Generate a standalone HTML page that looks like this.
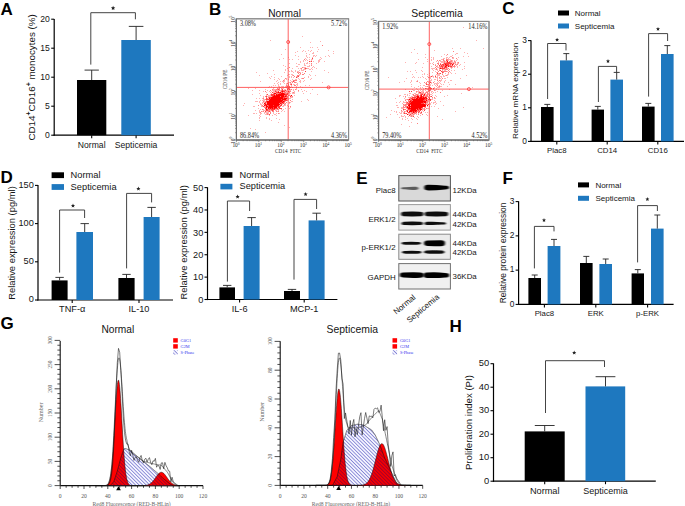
<!DOCTYPE html>
<html><head><meta charset="utf-8"><style>
html,body{margin:0;padding:0;background:#fff;width:685px;height:506px;overflow:hidden}
svg{display:block}
</style></head><body>
<svg width="685" height="506" viewBox="0 0 685 506">
<text x="0.5" y="15.1" font-size="17" text-anchor="start" fill="#000" font-family="Liberation Sans, sans-serif" font-weight="bold" >A</text>
<line x1="54.2" y1="18.9" x2="54.2" y2="135.8" stroke="#000" stroke-width="1.2"/>
<line x1="51.2" y1="135.2" x2="54.2" y2="135.2" stroke="#000" stroke-width="1.08"/>
<text x="49.8" y="138.3" font-size="8.6" text-anchor="end" fill="#151515" font-family="Liberation Sans, sans-serif" >0</text>
<line x1="51.2" y1="106.2" x2="54.2" y2="106.2" stroke="#000" stroke-width="1.08"/>
<text x="49.8" y="109.3" font-size="8.6" text-anchor="end" fill="#151515" font-family="Liberation Sans, sans-serif" >5</text>
<line x1="51.2" y1="77.2" x2="54.2" y2="77.2" stroke="#000" stroke-width="1.08"/>
<text x="49.8" y="80.3" font-size="8.6" text-anchor="end" fill="#151515" font-family="Liberation Sans, sans-serif" >10</text>
<line x1="51.2" y1="48.2" x2="54.2" y2="48.2" stroke="#000" stroke-width="1.08"/>
<text x="49.8" y="51.3" font-size="8.6" text-anchor="end" fill="#151515" font-family="Liberation Sans, sans-serif" >15</text>
<line x1="51.2" y1="19.2" x2="54.2" y2="19.2" stroke="#000" stroke-width="1.08"/>
<text x="49.8" y="22.3" font-size="8.6" text-anchor="end" fill="#151515" font-family="Liberation Sans, sans-serif" >20</text>
<line x1="53.6" y1="135.2" x2="174" y2="135.2" stroke="#000" stroke-width="1.2"/>
<line x1="91.7" y1="135.2" x2="91.7" y2="138.2" stroke="#000" stroke-width="1.08"/>
<line x1="136.1" y1="135.2" x2="136.1" y2="138.2" stroke="#000" stroke-width="1.08"/>
<rect x="77" y="80" width="29.3" height="55.2" fill="#000"/>
<rect x="121.3" y="40" width="29.5" height="95.2" fill="#1e78bf"/>
<line x1="91.7" y1="80" x2="91.7" y2="70.1" stroke="#222" stroke-width="0.9"/>
<line x1="84.55" y1="70.1" x2="98.85" y2="70.1" stroke="#222" stroke-width="0.9"/>
<line x1="136.1" y1="40" x2="136.1" y2="26.4" stroke="#222" stroke-width="0.9"/>
<line x1="128.8" y1="26.4" x2="143.4" y2="26.4" stroke="#222" stroke-width="0.9"/>
<path d="M90.8 64.6V12.7H135.4V19.3" fill="none" stroke="#3a3a3a" stroke-width="0.95"/>
<polygon points="113.1,5.8 113.71,7.26 115.29,7.39 114.08,8.42 114.45,9.96 113.1,9.13 111.75,9.96 112.12,8.42 110.91,7.39 112.49,7.26" fill="#222"/>
<text x="91.7" y="147.6" font-size="8.6" text-anchor="middle" fill="#151515" font-family="Liberation Sans, sans-serif" >Normal</text>
<text x="136.1" y="147.6" font-size="8.6" text-anchor="middle" fill="#151515" font-family="Liberation Sans, sans-serif" >Septicemia</text>
<text transform="translate(35,77.4) rotate(-90)" font-size="9.8" text-anchor="middle" fill="#151515" font-family="Liberation Sans, sans-serif">CD14<tspan font-size="7" font-weight="bold" dy="-4">+</tspan><tspan dy="4">CD16</tspan><tspan font-size="7" font-weight="bold" dy="-4">+</tspan><tspan dy="4"> monocytes (%)</tspan></text>
<text x="502.2" y="14.4" font-size="17" text-anchor="start" fill="#000" font-family="Liberation Sans, sans-serif" font-weight="bold" >C</text>
<rect x="558" y="10.5" width="11" height="5" fill="#000"/>
<rect x="558" y="23.5" width="11" height="5" fill="#1e78bf"/>
<text x="574.8" y="15.88" font-size="8" text-anchor="start" fill="#151515" font-family="Liberation Sans, sans-serif" >Normal</text>
<text x="574.8" y="28.88" font-size="8" text-anchor="start" fill="#151515" font-family="Liberation Sans, sans-serif" >Septicemia</text>
<line x1="531" y1="40.3" x2="531" y2="142" stroke="#000" stroke-width="1.2"/>
<line x1="528" y1="141.4" x2="531" y2="141.4" stroke="#000" stroke-width="1.08"/>
<text x="526.8" y="143.5" font-size="8.4" text-anchor="end" fill="#151515" font-family="Liberation Sans, sans-serif" >0</text>
<line x1="528" y1="107.8" x2="531" y2="107.8" stroke="#000" stroke-width="1.08"/>
<text x="526.8" y="109.9" font-size="8.4" text-anchor="end" fill="#151515" font-family="Liberation Sans, sans-serif" >1</text>
<line x1="528" y1="74.2" x2="531" y2="74.2" stroke="#000" stroke-width="1.08"/>
<text x="526.8" y="76.3" font-size="8.4" text-anchor="end" fill="#151515" font-family="Liberation Sans, sans-serif" >2</text>
<line x1="528" y1="40.6" x2="531" y2="40.6" stroke="#000" stroke-width="1.08"/>
<text x="526.8" y="42.7" font-size="8.4" text-anchor="end" fill="#151515" font-family="Liberation Sans, sans-serif" >3</text>
<line x1="530.4" y1="141.4" x2="684" y2="141.4" stroke="#000" stroke-width="1.2"/>
<line x1="556.8" y1="141.4" x2="556.8" y2="144.4" stroke="#000" stroke-width="1.08"/>
<line x1="607.2" y1="141.4" x2="607.2" y2="144.4" stroke="#000" stroke-width="1.08"/>
<line x1="657.8" y1="141.4" x2="657.8" y2="144.4" stroke="#000" stroke-width="1.08"/>
<rect x="541" y="107" width="12.6" height="34.4" fill="#000"/>
<rect x="560" y="60.4" width="12.6" height="81" fill="#1e78bf"/>
<line x1="547.3" y1="107" x2="547.3" y2="104.4" stroke="#222" stroke-width="0.9"/>
<line x1="544.3" y1="104.4" x2="550.3" y2="104.4" stroke="#222" stroke-width="0.9"/>
<line x1="566.3" y1="60.4" x2="566.3" y2="53.6" stroke="#222" stroke-width="0.9"/>
<line x1="563.3" y1="53.6" x2="569.3" y2="53.6" stroke="#222" stroke-width="0.9"/>
<rect x="591.6" y="109.6" width="12.4" height="31.8" fill="#000"/>
<rect x="610.4" y="79.6" width="12.6" height="61.8" fill="#1e78bf"/>
<line x1="597.8" y1="109.6" x2="597.8" y2="106.4" stroke="#222" stroke-width="0.9"/>
<line x1="594.8" y1="106.4" x2="600.8" y2="106.4" stroke="#222" stroke-width="0.9"/>
<line x1="616.7" y1="79.6" x2="616.7" y2="72.4" stroke="#222" stroke-width="0.9"/>
<line x1="613.7" y1="72.4" x2="619.7" y2="72.4" stroke="#222" stroke-width="0.9"/>
<rect x="642" y="106.6" width="12.6" height="34.8" fill="#000"/>
<rect x="661" y="54" width="12.6" height="87.4" fill="#1e78bf"/>
<line x1="648.3" y1="106.6" x2="648.3" y2="103.4" stroke="#222" stroke-width="0.9"/>
<line x1="645.3" y1="103.4" x2="651.3" y2="103.4" stroke="#222" stroke-width="0.9"/>
<line x1="667.3" y1="54" x2="667.3" y2="45.6" stroke="#222" stroke-width="0.9"/>
<line x1="664.3" y1="45.6" x2="670.3" y2="45.6" stroke="#222" stroke-width="0.9"/>
<path d="M547.6 99V43.5H566V50.4" fill="none" stroke="#3a3a3a" stroke-width="0.95"/>
<polygon points="557.1,37.7 557.66,39.04 559.1,39.15 558,40.09 558.33,41.5 557.1,40.75 555.87,41.5 556.2,40.09 555.1,39.15 556.54,39.04" fill="#222"/>
<path d="M598.4 102V66.4H616.6V72.4" fill="none" stroke="#3a3a3a" stroke-width="0.95"/>
<polygon points="608,59.1 608.56,60.44 610,60.55 608.9,61.49 609.23,62.9 608,62.15 606.77,62.9 607.1,61.49 606,60.55 607.44,60.44" fill="#222"/>
<path d="M648.6 96.6V33.6H667.6V41" fill="none" stroke="#3a3a3a" stroke-width="0.95"/>
<polygon points="658,26.9 658.56,28.24 660,28.35 658.9,29.29 659.23,30.7 658,29.95 656.77,30.7 657.1,29.29 656,28.35 657.44,28.24" fill="#222"/>
<text x="556.8" y="152.8" font-size="7.8" text-anchor="middle" fill="#151515" font-family="Liberation Sans, sans-serif" >Plac8</text>
<text x="607.2" y="152.8" font-size="7.8" text-anchor="middle" fill="#151515" font-family="Liberation Sans, sans-serif" >CD14</text>
<text x="657.8" y="152.8" font-size="7.8" text-anchor="middle" fill="#151515" font-family="Liberation Sans, sans-serif" >CD16</text>
<text transform="translate(515.8,90.8) rotate(-90)" x="0" y="0" font-size="8.1" text-anchor="middle" dominant-baseline="central" fill="#151515" font-family="Liberation Sans, sans-serif">Relative mRNA expression</text>
<text x="0.5" y="183.3" font-size="17" text-anchor="start" fill="#000" font-family="Liberation Sans, sans-serif" font-weight="bold" >D</text>
<rect x="51.6" y="172.3" width="12.4" height="5.8" fill="#000"/>
<rect x="51.6" y="184.1" width="12.4" height="5.8" fill="#1e78bf"/>
<text x="70.6" y="177.8" font-size="9.3" text-anchor="start" fill="#151515" font-family="Liberation Sans, sans-serif" >Normal</text>
<text x="70.6" y="189.6" font-size="9.3" text-anchor="start" fill="#151515" font-family="Liberation Sans, sans-serif" >Septicemia</text>
<line x1="38" y1="185.1" x2="38" y2="300.6" stroke="#000" stroke-width="1.2"/>
<line x1="35" y1="300" x2="38" y2="300" stroke="#000" stroke-width="1.08"/>
<text x="33.8" y="302.3" font-size="9.2" text-anchor="end" fill="#151515" font-family="Liberation Sans, sans-serif" >0</text>
<line x1="35" y1="261.8" x2="38" y2="261.8" stroke="#000" stroke-width="1.08"/>
<text x="33.8" y="264.1" font-size="9.2" text-anchor="end" fill="#151515" font-family="Liberation Sans, sans-serif" >50</text>
<line x1="35" y1="223.6" x2="38" y2="223.6" stroke="#000" stroke-width="1.08"/>
<text x="33.8" y="225.9" font-size="9.2" text-anchor="end" fill="#151515" font-family="Liberation Sans, sans-serif" >100</text>
<line x1="35" y1="185.4" x2="38" y2="185.4" stroke="#000" stroke-width="1.08"/>
<text x="33.8" y="187.7" font-size="9.2" text-anchor="end" fill="#151515" font-family="Liberation Sans, sans-serif" >150</text>
<line x1="37.4" y1="300" x2="173" y2="300" stroke="#000" stroke-width="1.2"/>
<line x1="72.2" y1="300" x2="72.2" y2="303" stroke="#000" stroke-width="1.08"/>
<line x1="139" y1="300" x2="139" y2="303" stroke="#000" stroke-width="1.08"/>
<rect x="51.6" y="280.4" width="16" height="19.6" fill="#000"/>
<rect x="76.4" y="232" width="16.6" height="68" fill="#1e78bf"/>
<line x1="59.6" y1="280.4" x2="59.6" y2="277.4" stroke="#222" stroke-width="0.9"/>
<line x1="55.4" y1="277.4" x2="63.8" y2="277.4" stroke="#222" stroke-width="0.9"/>
<line x1="84.7" y1="232" x2="84.7" y2="223.6" stroke="#222" stroke-width="0.9"/>
<line x1="80.5" y1="223.6" x2="88.9" y2="223.6" stroke="#222" stroke-width="0.9"/>
<rect x="118.4" y="278" width="16.2" height="22" fill="#000"/>
<rect x="143.6" y="217" width="16" height="83" fill="#1e78bf"/>
<line x1="126.5" y1="278" x2="126.5" y2="274.4" stroke="#222" stroke-width="0.9"/>
<line x1="122.3" y1="274.4" x2="130.7" y2="274.4" stroke="#222" stroke-width="0.9"/>
<line x1="151.6" y1="217" x2="151.6" y2="207.4" stroke="#222" stroke-width="0.9"/>
<line x1="147.4" y1="207.4" x2="155.8" y2="207.4" stroke="#222" stroke-width="0.9"/>
<path d="M59.6 272.6V210H84.6V218" fill="none" stroke="#3a3a3a" stroke-width="0.95"/>
<polygon points="73,203.6 73.58,205 75.09,205.12 73.94,206.11 74.29,207.58 73,206.79 71.71,207.58 72.06,206.11 70.91,205.12 72.42,205" fill="#222"/>
<path d="M126.6 268.4V193.4H151.6V202.4" fill="none" stroke="#3a3a3a" stroke-width="0.95"/>
<polygon points="138.4,186.6 138.98,188 140.49,188.12 139.34,189.11 139.69,190.58 138.4,189.79 137.11,190.58 137.46,189.11 136.31,188.12 137.82,188" fill="#222"/>
<text x="72.2" y="312.2" font-size="9.2" text-anchor="middle" fill="#151515" font-family="Liberation Sans, sans-serif" >TNF-α</text>
<text x="139" y="312.2" font-size="9.2" text-anchor="middle" fill="#151515" font-family="Liberation Sans, sans-serif" >IL-10</text>
<text transform="translate(11.8,243) rotate(-90)" x="0" y="0" font-size="9.4" text-anchor="middle" dominant-baseline="central" fill="#151515" font-family="Liberation Sans, sans-serif">Relative expression (pg/ml)</text>
<rect x="220.4" y="172.2" width="12" height="5.6" fill="#000"/>
<rect x="220.4" y="183.8" width="12" height="5.6" fill="#1e78bf"/>
<text x="239.6" y="177.58" font-size="9.2" text-anchor="start" fill="#151515" font-family="Liberation Sans, sans-serif" >Normal</text>
<text x="239.6" y="189.18" font-size="9.2" text-anchor="start" fill="#151515" font-family="Liberation Sans, sans-serif" >Septicemia</text>
<line x1="207.5" y1="187.3" x2="207.5" y2="300.1" stroke="#000" stroke-width="1.2"/>
<line x1="204.5" y1="299.5" x2="207.5" y2="299.5" stroke="#000" stroke-width="1.08"/>
<text x="203.3" y="302.8" font-size="9.2" text-anchor="end" fill="#151515" font-family="Liberation Sans, sans-serif" >0</text>
<line x1="204.5" y1="277.12" x2="207.5" y2="277.12" stroke="#000" stroke-width="1.08"/>
<text x="203.3" y="280.42" font-size="9.2" text-anchor="end" fill="#151515" font-family="Liberation Sans, sans-serif" >10</text>
<line x1="204.5" y1="254.74" x2="207.5" y2="254.74" stroke="#000" stroke-width="1.08"/>
<text x="203.3" y="258.04" font-size="9.2" text-anchor="end" fill="#151515" font-family="Liberation Sans, sans-serif" >20</text>
<line x1="204.5" y1="232.36" x2="207.5" y2="232.36" stroke="#000" stroke-width="1.08"/>
<text x="203.3" y="235.66" font-size="9.2" text-anchor="end" fill="#151515" font-family="Liberation Sans, sans-serif" >30</text>
<line x1="204.5" y1="209.98" x2="207.5" y2="209.98" stroke="#000" stroke-width="1.08"/>
<text x="203.3" y="213.28" font-size="9.2" text-anchor="end" fill="#151515" font-family="Liberation Sans, sans-serif" >40</text>
<line x1="204.5" y1="187.6" x2="207.5" y2="187.6" stroke="#000" stroke-width="1.08"/>
<text x="203.3" y="190.9" font-size="9.2" text-anchor="end" fill="#151515" font-family="Liberation Sans, sans-serif" >50</text>
<line x1="206.9" y1="299.5" x2="337.4" y2="299.5" stroke="#000" stroke-width="1.2"/>
<line x1="239.6" y1="299.5" x2="239.6" y2="302.5" stroke="#000" stroke-width="1.08"/>
<line x1="304.2" y1="299.5" x2="304.2" y2="302.5" stroke="#000" stroke-width="1.08"/>
<rect x="219.4" y="287.4" width="15.6" height="12.1" fill="#000"/>
<rect x="243.6" y="226" width="16" height="73.5" fill="#1e78bf"/>
<line x1="227.2" y1="287.4" x2="227.2" y2="285.4" stroke="#222" stroke-width="0.9"/>
<line x1="223" y1="285.4" x2="231.4" y2="285.4" stroke="#222" stroke-width="0.9"/>
<line x1="251.6" y1="226" x2="251.6" y2="217.6" stroke="#222" stroke-width="0.9"/>
<line x1="247.4" y1="217.6" x2="255.8" y2="217.6" stroke="#222" stroke-width="0.9"/>
<rect x="284" y="291" width="16" height="8.5" fill="#000"/>
<rect x="308.6" y="220.4" width="16" height="79.1" fill="#1e78bf"/>
<line x1="292" y1="291" x2="292" y2="289.4" stroke="#222" stroke-width="0.9"/>
<line x1="287.8" y1="289.4" x2="296.2" y2="289.4" stroke="#222" stroke-width="0.9"/>
<line x1="316.6" y1="220.4" x2="316.6" y2="213.2" stroke="#222" stroke-width="0.9"/>
<line x1="312.4" y1="213.2" x2="320.8" y2="213.2" stroke="#222" stroke-width="0.9"/>
<path d="M227.4 281.6V201H249.6V211" fill="none" stroke="#3a3a3a" stroke-width="0.95"/>
<polygon points="237.6,194.6 238.18,196 239.69,196.12 238.54,197.11 238.89,198.58 237.6,197.79 236.31,198.58 236.66,197.11 235.51,196.12 237.02,196" fill="#222"/>
<path d="M294 279.6V199.4H316.6V209" fill="none" stroke="#3a3a3a" stroke-width="0.95"/>
<polygon points="305.6,192 306.18,193.4 307.69,193.52 306.54,194.51 306.89,195.98 305.6,195.19 304.31,195.98 304.66,194.51 303.51,193.52 305.02,193.4" fill="#222"/>
<text x="239.6" y="311.6" font-size="9.2" text-anchor="middle" fill="#151515" font-family="Liberation Sans, sans-serif" >IL-6</text>
<text x="304.2" y="311.6" font-size="9.2" text-anchor="middle" fill="#151515" font-family="Liberation Sans, sans-serif" >MCP-1</text>
<text transform="translate(183.6,242.4) rotate(-90)" x="0" y="0" font-size="9.45" text-anchor="middle" dominant-baseline="central" fill="#151515" font-family="Liberation Sans, sans-serif">Relative expression (pg/ml)</text>
<text x="502.6" y="183.6" font-size="17" text-anchor="start" fill="#000" font-family="Liberation Sans, sans-serif" font-weight="bold" >F</text>
<rect x="578" y="182.4" width="11" height="5" fill="#000"/>
<rect x="578" y="195.8" width="11" height="5" fill="#1e78bf"/>
<text x="595.4" y="187.78" font-size="8" text-anchor="start" fill="#151515" font-family="Liberation Sans, sans-serif" >Normal</text>
<text x="595.4" y="201.18" font-size="8" text-anchor="start" fill="#151515" font-family="Liberation Sans, sans-serif" >Septicemia</text>
<line x1="518.6" y1="201.3" x2="518.6" y2="305" stroke="#000" stroke-width="1.2"/>
<line x1="515.6" y1="304.4" x2="518.6" y2="304.4" stroke="#000" stroke-width="1.08"/>
<text x="514.4" y="306.5" font-size="8.4" text-anchor="end" fill="#151515" font-family="Liberation Sans, sans-serif" >0</text>
<line x1="515.6" y1="270.13" x2="518.6" y2="270.13" stroke="#000" stroke-width="1.08"/>
<text x="514.4" y="272.23" font-size="8.4" text-anchor="end" fill="#151515" font-family="Liberation Sans, sans-serif" >1</text>
<line x1="515.6" y1="235.87" x2="518.6" y2="235.87" stroke="#000" stroke-width="1.08"/>
<text x="514.4" y="237.97" font-size="8.4" text-anchor="end" fill="#151515" font-family="Liberation Sans, sans-serif" >2</text>
<line x1="515.6" y1="201.6" x2="518.6" y2="201.6" stroke="#000" stroke-width="1.08"/>
<text x="514.4" y="203.7" font-size="8.4" text-anchor="end" fill="#151515" font-family="Liberation Sans, sans-serif" >3</text>
<line x1="518" y1="304.4" x2="673.6" y2="304.4" stroke="#000" stroke-width="1.2"/>
<line x1="544.4" y1="304.4" x2="544.4" y2="307.4" stroke="#000" stroke-width="1.08"/>
<line x1="595.8" y1="304.4" x2="595.8" y2="307.4" stroke="#000" stroke-width="1.08"/>
<line x1="647.6" y1="304.4" x2="647.6" y2="307.4" stroke="#000" stroke-width="1.08"/>
<rect x="528.4" y="278" width="12.6" height="26.4" fill="#000"/>
<rect x="547.6" y="246" width="12.8" height="58.4" fill="#1e78bf"/>
<line x1="534.7" y1="278" x2="534.7" y2="275" stroke="#222" stroke-width="0.9"/>
<line x1="531.7" y1="275" x2="537.7" y2="275" stroke="#222" stroke-width="0.9"/>
<line x1="554" y1="246" x2="554" y2="239.4" stroke="#222" stroke-width="0.9"/>
<line x1="551" y1="239.4" x2="557" y2="239.4" stroke="#222" stroke-width="0.9"/>
<rect x="580" y="263" width="12.6" height="41.4" fill="#000"/>
<rect x="599.4" y="264" width="12.6" height="40.4" fill="#1e78bf"/>
<line x1="586.3" y1="263" x2="586.3" y2="256.4" stroke="#222" stroke-width="0.9"/>
<line x1="583.3" y1="256.4" x2="589.3" y2="256.4" stroke="#222" stroke-width="0.9"/>
<line x1="605.7" y1="264" x2="605.7" y2="259" stroke="#222" stroke-width="0.9"/>
<line x1="602.7" y1="259" x2="608.7" y2="259" stroke="#222" stroke-width="0.9"/>
<rect x="631.6" y="273.4" width="12.4" height="31" fill="#000"/>
<rect x="651" y="228.6" width="12.6" height="75.8" fill="#1e78bf"/>
<line x1="637.8" y1="273.4" x2="637.8" y2="269.6" stroke="#222" stroke-width="0.9"/>
<line x1="634.8" y1="269.6" x2="640.8" y2="269.6" stroke="#222" stroke-width="0.9"/>
<line x1="657.3" y1="228.6" x2="657.3" y2="215" stroke="#222" stroke-width="0.9"/>
<line x1="654.3" y1="215" x2="660.3" y2="215" stroke="#222" stroke-width="0.9"/>
<path d="M534.4 268.4V226.4H554V231.4" fill="none" stroke="#3a3a3a" stroke-width="0.95"/>
<polygon points="544,218.1 544.56,219.44 546,219.55 544.9,220.49 545.23,221.9 544,221.14 542.77,221.9 543.1,220.49 542,219.55 543.44,219.44" fill="#222"/>
<path d="M637.6 262.4V205.6H657.4V211" fill="none" stroke="#3a3a3a" stroke-width="0.95"/>
<polygon points="647.4,197.1 647.96,198.44 649.4,198.55 648.3,199.49 648.63,200.9 647.4,200.14 646.17,200.9 646.5,199.49 645.4,198.55 646.84,198.44" fill="#222"/>
<text x="544.4" y="315.6" font-size="7.8" text-anchor="middle" fill="#151515" font-family="Liberation Sans, sans-serif" >Plac8</text>
<text x="595.8" y="315.6" font-size="7.8" text-anchor="middle" fill="#151515" font-family="Liberation Sans, sans-serif" >ERK</text>
<text x="647.6" y="315.6" font-size="7.8" text-anchor="middle" fill="#151515" font-family="Liberation Sans, sans-serif" >p-ERK</text>
<text transform="translate(502.8,253) rotate(-90)" x="0" y="0" font-size="8.35" text-anchor="middle" dominant-baseline="central" fill="#151515" font-family="Liberation Sans, sans-serif">Relative protein expression</text>
<text x="449.6" y="332" font-size="17" text-anchor="start" fill="#000" font-family="Liberation Sans, sans-serif" font-weight="bold" >H</text>
<line x1="493.5" y1="363.4" x2="493.5" y2="481.8" stroke="#000" stroke-width="1.2"/>
<line x1="490.5" y1="481.2" x2="493.5" y2="481.2" stroke="#000" stroke-width="1.08"/>
<text x="489.3" y="483.55" font-size="9.4" text-anchor="end" fill="#151515" font-family="Liberation Sans, sans-serif" >0</text>
<line x1="490.5" y1="457.7" x2="493.5" y2="457.7" stroke="#000" stroke-width="1.08"/>
<text x="489.3" y="460.05" font-size="9.4" text-anchor="end" fill="#151515" font-family="Liberation Sans, sans-serif" >10</text>
<line x1="490.5" y1="434.2" x2="493.5" y2="434.2" stroke="#000" stroke-width="1.08"/>
<text x="489.3" y="436.55" font-size="9.4" text-anchor="end" fill="#151515" font-family="Liberation Sans, sans-serif" >20</text>
<line x1="490.5" y1="410.7" x2="493.5" y2="410.7" stroke="#000" stroke-width="1.08"/>
<text x="489.3" y="413.05" font-size="9.4" text-anchor="end" fill="#151515" font-family="Liberation Sans, sans-serif" >30</text>
<line x1="490.5" y1="387.2" x2="493.5" y2="387.2" stroke="#000" stroke-width="1.08"/>
<text x="489.3" y="389.55" font-size="9.4" text-anchor="end" fill="#151515" font-family="Liberation Sans, sans-serif" >40</text>
<line x1="490.5" y1="363.7" x2="493.5" y2="363.7" stroke="#000" stroke-width="1.08"/>
<text x="489.3" y="366.05" font-size="9.4" text-anchor="end" fill="#151515" font-family="Liberation Sans, sans-serif" >50</text>
<line x1="492.9" y1="481.2" x2="655.8" y2="481.2" stroke="#000" stroke-width="1.2"/>
<line x1="544.7" y1="481.2" x2="544.7" y2="484.2" stroke="#000" stroke-width="1.08"/>
<line x1="605.5" y1="481.2" x2="605.5" y2="484.2" stroke="#000" stroke-width="1.08"/>
<rect x="524.7" y="431.4" width="40" height="49.8" fill="#000"/>
<rect x="585.5" y="386.4" width="39.7" height="94.8" fill="#1e78bf"/>
<line x1="544.7" y1="431.4" x2="544.7" y2="425.5" stroke="#222" stroke-width="0.9"/>
<line x1="534.8" y1="425.5" x2="554.6" y2="425.5" stroke="#222" stroke-width="0.9"/>
<line x1="605.5" y1="386.4" x2="605.5" y2="376.7" stroke="#222" stroke-width="0.9"/>
<line x1="595.6" y1="376.7" x2="615.4" y2="376.7" stroke="#222" stroke-width="0.9"/>
<path d="M545.5 413V360.7H604.5V367" fill="none" stroke="#3a3a3a" stroke-width="0.95"/>
<polygon points="574.2,350.5 574.78,351.9 576.29,352.02 575.14,353.01 575.49,354.48 574.2,353.69 572.91,354.48 573.26,353.01 572.11,352.02 573.62,351.9" fill="#222"/>
<text x="544.7" y="494" font-size="9.2" text-anchor="middle" fill="#151515" font-family="Liberation Sans, sans-serif" >Normal</text>
<text x="605.5" y="494" font-size="9" text-anchor="middle" fill="#151515" font-family="Liberation Sans, sans-serif" >Septicemia</text>
<text transform="translate(468.8,422.6) rotate(-90)" x="0" y="0" font-size="9.6" text-anchor="middle" dominant-baseline="central" fill="#151515" font-family="Liberation Sans, sans-serif">Proliferation index (PI)</text>
<text x="209" y="14.8" font-size="17" text-anchor="start" fill="#000" font-family="Liberation Sans, sans-serif" font-weight="bold" >B</text>
<text x="284.6" y="16.6" font-size="10.2" text-anchor="middle" fill="#151515" font-family="Liberation Sans, sans-serif" >Normal</text>
<text x="437" y="17.3" font-size="10.4" text-anchor="middle" fill="#151515" font-family="Liberation Sans, sans-serif" >Septicemia</text>
<rect x="236.4" y="18.8" width="112.2" height="121.2" fill="none" stroke="#888" stroke-width="1"/>
<rect x="378.6" y="21.4" width="110.4" height="118.6" fill="none" stroke="#888" stroke-width="1"/>
<text x="356.2" y="183.5" font-size="17" text-anchor="start" fill="#000" font-family="Liberation Sans, sans-serif" font-weight="bold" >E</text>
<text x="0.5" y="329" font-size="17" text-anchor="start" fill="#000" font-family="Liberation Sans, sans-serif" font-weight="bold" >G</text>
<text x="117.8" y="332.5" font-size="10.2" text-anchor="middle" fill="#151515" font-family="Liberation Sans, sans-serif" >Normal</text>
<text x="352.3" y="332.5" font-size="10.4" text-anchor="middle" fill="#151515" font-family="Liberation Sans, sans-serif" >Septicemia</text>
<path d="M243 105h1v1h-1zM244 103h1v1h-1zM248 88h1v1h-1zM248 115h1v1h-1zM250 128h1v1h-1zM252 90h1v1h-1zM252 94h1v1h-1zM253 106h1v1h-1zM253 113h1v1h-1zM254 106h1v1h-1zM254 113h1v1h-1zM255 88h1v1h-1zM255 101h1v1h-1zM255 110h1v1h-1zM255 129h1v1h-1zM256 72h1v1h-1zM256 98h1v1h-1zM256 101h1v1h-1zM256 113h1v1h-1zM257 101h1v1h-1zM258 108h1v1h-1zM259 75h1v1h-1zM259 90h1v1h-1zM259 93h1v1h-1zM259 98h1v1h-1zM259 101h1v1h-1zM259 102h1v1h-1zM259 110h1v1h-1zM259 111h1v1h-1zM259 112h1v1h-1zM259 115h1v1h-1zM259 117h1v1h-1zM259 118h1v1h-1zM259 120h1v1h-1zM260 81h1v1h-1zM260 95h1v1h-1zM260 100h1v1h-1zM260 103h1v1h-1zM260 104h1v1h-1zM260 109h1v1h-1zM260 113h1v1h-1zM260 114h1v1h-1zM260 116h1v1h-1zM261 104h1v1h-1zM261 105h1v1h-1zM261 106h1v1h-1zM261 113h1v1h-1zM262 98h1v1h-1zM262 100h1v1h-1zM262 102h1v1h-1zM262 103h1v1h-1zM262 106h1v1h-1zM262 111h1v1h-1zM263 91h1v1h-1zM263 96h1v1h-1zM263 97h1v1h-1zM263 99h1v1h-1zM263 100h1v1h-1zM263 102h1v1h-1zM263 104h1v1h-1zM263 109h1v1h-1zM263 110h1v1h-1zM264 99h1v1h-1zM264 100h1v1h-1zM264 101h1v1h-1zM264 102h1v1h-1zM264 106h1v1h-1zM264 110h1v1h-1zM264 112h1v1h-1zM264 113h1v1h-1zM265 89h1v1h-1zM265 101h1v1h-1zM265 106h1v1h-1zM265 109h1v1h-1zM265 110h1v1h-1zM265 112h1v1h-1zM265 114h1v1h-1zM265 132h1v1h-1zM266 92h1v1h-1zM266 94h1v1h-1zM266 95h1v1h-1zM266 103h1v1h-1zM266 111h1v1h-1zM266 112h1v1h-1zM266 113h1v1h-1zM266 114h1v1h-1zM266 117h1v1h-1zM266 118h1v1h-1zM267 73h1v1h-1zM267 90h1v1h-1zM267 96h1v1h-1zM267 100h1v1h-1zM267 108h1v1h-1zM267 111h1v1h-1zM267 112h1v1h-1zM268 87h1v1h-1zM268 95h1v1h-1zM268 96h1v1h-1zM268 98h1v1h-1zM268 100h1v1h-1zM268 112h1v1h-1zM268 113h1v1h-1zM268 114h1v1h-1zM269 77h1v1h-1zM269 86h1v1h-1zM269 91h1v1h-1zM269 95h1v1h-1zM269 96h1v1h-1zM269 115h1v1h-1zM269 118h1v1h-1zM269 119h1v1h-1zM270 40h1v1h-1zM270 78h1v1h-1zM270 92h1v1h-1zM270 94h1v1h-1zM270 95h1v1h-1zM270 96h1v1h-1zM270 110h1v1h-1zM270 111h1v1h-1zM271 76h1v1h-1zM271 86h1v1h-1zM271 91h1v1h-1zM271 93h1v1h-1zM271 96h1v1h-1zM271 120h1v1h-1zM272 90h1v1h-1zM272 115h1v1h-1zM273 70h1v1h-1zM273 85h1v1h-1zM273 87h1v1h-1zM273 88h1v1h-1zM273 89h1v1h-1zM273 90h1v1h-1zM273 91h1v1h-1zM273 92h1v1h-1zM273 112h1v1h-1zM273 113h1v1h-1zM274 74h1v1h-1zM274 77h1v1h-1zM274 79h1v1h-1zM274 83h1v1h-1zM274 87h1v1h-1zM274 89h1v1h-1zM274 90h1v1h-1zM274 91h1v1h-1zM274 92h1v1h-1zM274 114h1v1h-1zM275 85h1v1h-1zM275 89h1v1h-1zM275 92h1v1h-1zM275 94h1v1h-1zM275 109h1v1h-1zM275 110h1v1h-1zM275 114h1v1h-1zM276 81h1v1h-1zM276 90h1v1h-1zM276 109h1v1h-1zM276 110h1v1h-1zM276 113h1v1h-1zM276 115h1v1h-1zM276 118h1v1h-1zM277 80h1v1h-1zM277 83h1v1h-1zM277 90h1v1h-1zM277 91h1v1h-1zM277 107h1v1h-1zM277 111h1v1h-1zM278 78h1v1h-1zM278 82h1v1h-1zM278 84h1v1h-1zM278 85h1v1h-1zM278 86h1v1h-1zM278 88h1v1h-1zM278 90h1v1h-1zM278 108h1v1h-1zM278 110h1v1h-1zM278 122h1v1h-1zM279 59h1v1h-1zM279 79h1v1h-1zM279 86h1v1h-1zM279 105h1v1h-1zM279 113h1v1h-1zM279 119h1v1h-1zM280 81h1v1h-1zM280 83h1v1h-1zM280 84h1v1h-1zM280 90h1v1h-1zM280 91h1v1h-1zM280 104h1v1h-1zM281 54h1v1h-1zM281 76h1v1h-1zM281 86h1v1h-1zM281 89h1v1h-1zM281 109h1v1h-1zM281 111h1v1h-1zM282 81h1v1h-1zM282 86h1v1h-1zM282 87h1v1h-1zM282 88h1v1h-1zM282 104h1v1h-1zM282 106h1v1h-1zM282 110h1v1h-1zM283 58h1v1h-1zM283 65h1v1h-1zM283 81h1v1h-1zM283 82h1v1h-1zM283 86h1v1h-1zM283 87h1v1h-1zM283 88h1v1h-1zM283 92h1v1h-1zM283 105h1v1h-1zM283 106h1v1h-1zM283 109h1v1h-1zM284 72h1v1h-1zM284 79h1v1h-1zM284 80h1v1h-1zM284 81h1v1h-1zM284 83h1v1h-1zM284 87h1v1h-1zM284 89h1v1h-1zM284 103h1v1h-1zM284 105h1v1h-1zM284 111h1v1h-1zM284 125h1v1h-1zM285 49h1v1h-1zM285 66h1v1h-1zM285 69h1v1h-1zM285 70h1v1h-1zM285 86h1v1h-1zM285 89h1v1h-1zM285 91h1v1h-1zM285 101h1v1h-1zM285 104h1v1h-1zM285 105h1v1h-1zM285 108h1v1h-1zM286 78h1v1h-1zM286 79h1v1h-1zM286 83h1v1h-1zM286 84h1v1h-1zM286 86h1v1h-1zM286 90h1v1h-1zM286 92h1v1h-1zM287 68h1v1h-1zM287 75h1v1h-1zM287 86h1v1h-1zM287 87h1v1h-1zM287 90h1v1h-1zM287 91h1v1h-1zM287 92h1v1h-1zM287 99h1v1h-1zM287 105h1v1h-1zM288 57h1v1h-1zM288 70h1v1h-1zM288 74h1v1h-1zM288 79h1v1h-1zM288 82h1v1h-1zM288 83h1v1h-1zM288 85h1v1h-1zM288 86h1v1h-1zM288 92h1v1h-1zM288 93h1v1h-1zM288 98h1v1h-1zM288 99h1v1h-1zM289 59h1v1h-1zM289 63h1v1h-1zM289 71h1v1h-1zM289 74h1v1h-1zM289 76h1v1h-1zM289 77h1v1h-1zM289 82h1v1h-1zM289 86h1v1h-1zM289 87h1v1h-1zM289 88h1v1h-1zM289 90h1v1h-1zM289 93h1v1h-1zM289 94h1v1h-1zM289 98h1v1h-1zM289 103h1v1h-1zM289 108h1v1h-1zM289 127h1v1h-1zM290 80h1v1h-1zM290 83h1v1h-1zM290 89h1v1h-1zM290 90h1v1h-1zM290 93h1v1h-1zM290 95h1v1h-1zM290 97h1v1h-1zM290 98h1v1h-1zM290 102h1v1h-1zM290 107h1v1h-1zM291 70h1v1h-1zM291 71h1v1h-1zM291 74h1v1h-1zM291 76h1v1h-1zM291 77h1v1h-1zM291 81h1v1h-1zM291 83h1v1h-1zM291 85h1v1h-1zM291 86h1v1h-1zM291 96h1v1h-1zM291 97h1v1h-1zM291 101h1v1h-1zM292 59h1v1h-1zM292 68h1v1h-1zM292 71h1v1h-1zM292 74h1v1h-1zM292 75h1v1h-1zM292 79h1v1h-1zM292 81h1v1h-1zM292 92h1v1h-1zM292 93h1v1h-1zM292 97h1v1h-1zM292 99h1v1h-1zM292 101h1v1h-1zM293 72h1v1h-1zM293 77h1v1h-1zM293 84h1v1h-1zM293 89h1v1h-1zM293 90h1v1h-1zM293 93h1v1h-1zM294 81h1v1h-1zM294 84h1v1h-1zM294 91h1v1h-1zM294 92h1v1h-1zM294 93h1v1h-1zM294 95h1v1h-1zM295 52h1v1h-1zM295 55h1v1h-1zM295 70h1v1h-1zM295 71h1v1h-1zM295 79h1v1h-1zM296 63h1v1h-1zM296 66h1v1h-1zM296 76h1v1h-1zM296 79h1v1h-1zM296 82h1v1h-1zM296 84h1v1h-1zM296 86h1v1h-1zM296 88h1v1h-1zM296 89h1v1h-1zM297 51h1v1h-1zM297 66h1v1h-1zM297 71h1v1h-1zM297 77h1v1h-1zM297 83h1v1h-1zM297 84h1v1h-1zM297 85h1v1h-1zM298 56h1v1h-1zM298 59h1v1h-1zM298 64h1v1h-1zM298 68h1v1h-1zM298 71h1v1h-1zM298 72h1v1h-1zM298 78h1v1h-1zM298 87h1v1h-1zM298 91h1v1h-1zM299 64h1v1h-1zM299 70h1v1h-1zM299 74h1v1h-1zM299 75h1v1h-1zM299 79h1v1h-1zM299 81h1v1h-1zM300 47h1v1h-1zM300 61h1v1h-1zM300 62h1v1h-1zM300 68h1v1h-1zM300 72h1v1h-1zM300 74h1v1h-1zM300 80h1v1h-1zM300 81h1v1h-1zM300 82h1v1h-1zM300 86h1v1h-1zM301 69h1v1h-1zM301 70h1v1h-1zM301 78h1v1h-1zM301 89h1v1h-1zM301 101h1v1h-1zM302 36h1v1h-1zM302 51h1v1h-1zM302 70h1v1h-1zM302 72h1v1h-1zM302 87h1v1h-1zM302 91h1v1h-1zM303 50h1v1h-1zM303 60h1v1h-1zM303 61h1v1h-1zM303 67h1v1h-1zM303 69h1v1h-1zM303 70h1v1h-1zM303 81h1v1h-1zM303 93h1v1h-1zM304 63h1v1h-1zM304 64h1v1h-1zM304 65h1v1h-1zM304 67h1v1h-1zM304 68h1v1h-1zM304 69h1v1h-1zM304 77h1v1h-1zM304 80h1v1h-1zM304 90h1v1h-1zM305 51h1v1h-1zM305 58h1v1h-1zM305 60h1v1h-1zM305 65h1v1h-1zM305 67h1v1h-1zM305 69h1v1h-1zM305 85h1v1h-1zM306 53h1v1h-1zM306 55h1v1h-1zM306 56h1v1h-1zM306 59h1v1h-1zM306 63h1v1h-1zM306 91h1v1h-1zM307 57h1v1h-1zM307 60h1v1h-1zM307 62h1v1h-1zM307 63h1v1h-1zM307 66h1v1h-1zM307 68h1v1h-1zM307 99h1v1h-1zM308 50h1v1h-1zM308 66h1v1h-1zM308 68h1v1h-1zM308 76h1v1h-1zM308 77h1v1h-1zM308 100h1v1h-1zM309 54h1v1h-1zM309 57h1v1h-1zM309 59h1v1h-1zM309 63h1v1h-1zM309 65h1v1h-1zM309 66h1v1h-1zM309 69h1v1h-1zM309 74h1v1h-1zM309 85h1v1h-1zM310 42h1v1h-1zM310 47h1v1h-1zM310 51h1v1h-1zM310 61h1v1h-1zM310 69h1v1h-1zM310 75h1v1h-1zM310 79h1v1h-1zM310 93h1v1h-1zM311 50h1v1h-1zM311 59h1v1h-1zM311 60h1v1h-1zM311 64h1v1h-1zM311 68h1v1h-1zM311 71h1v1h-1zM311 78h1v1h-1zM312 47h1v1h-1zM312 53h1v1h-1zM312 57h1v1h-1zM312 59h1v1h-1zM312 67h1v1h-1zM312 69h1v1h-1zM312 89h1v1h-1zM313 52h1v1h-1zM313 53h1v1h-1zM313 55h1v1h-1zM313 56h1v1h-1zM313 61h1v1h-1zM313 66h1v1h-1zM314 55h1v1h-1zM314 67h1v1h-1zM315 56h1v1h-1zM315 75h1v1h-1zM316 55h1v1h-1zM316 63h1v1h-1zM316 68h1v1h-1zM317 47h1v1h-1zM317 51h1v1h-1zM317 94h1v1h-1zM318 49h1v1h-1zM318 60h1v1h-1zM318 61h1v1h-1zM318 62h1v1h-1zM319 59h1v1h-1zM319 60h1v1h-1zM319 61h1v1h-1zM320 41h1v1h-1zM320 57h1v1h-1zM320 59h1v1h-1zM321 58h1v1h-1zM322 82h1v1h-1zM324 61h1v1h-1zM324 70h1v1h-1zM325 56h1v1h-1zM328 50h1v1h-1zM328 55h1v1h-1zM328 72h1v1h-1zM329 56h1v1h-1zM333 51h1v1h-1zM333 53h1v1h-1z" fill="#f00" fill-opacity="0.3"/>
<path d="M258 105h1v1h-1zM260 112h1v1h-1zM261 111h1v1h-1zM262 105h1v1h-1zM262 109h1v1h-1zM263 98h1v1h-1zM263 101h1v1h-1zM263 111h1v1h-1zM264 104h1v1h-1zM264 107h1v1h-1zM265 91h1v1h-1zM265 96h1v1h-1zM265 99h1v1h-1zM265 107h1v1h-1zM266 97h1v1h-1zM266 100h1v1h-1zM266 102h1v1h-1zM267 98h1v1h-1zM267 105h1v1h-1zM267 107h1v1h-1zM267 113h1v1h-1zM267 114h1v1h-1zM268 97h1v1h-1zM268 109h1v1h-1zM268 110h1v1h-1zM268 111h1v1h-1zM269 110h1v1h-1zM270 90h1v1h-1zM270 109h1v1h-1zM270 112h1v1h-1zM270 113h1v1h-1zM271 110h1v1h-1zM272 89h1v1h-1zM272 111h1v1h-1zM273 93h1v1h-1zM273 110h1v1h-1zM273 111h1v1h-1zM275 90h1v1h-1zM276 89h1v1h-1zM276 91h1v1h-1zM276 93h1v1h-1zM276 111h1v1h-1zM277 88h1v1h-1zM277 89h1v1h-1zM277 93h1v1h-1zM277 109h1v1h-1zM278 93h1v1h-1zM278 109h1v1h-1zM278 111h1v1h-1zM278 113h1v1h-1zM279 87h1v1h-1zM279 88h1v1h-1zM279 89h1v1h-1zM279 90h1v1h-1zM279 103h1v1h-1zM280 87h1v1h-1zM280 96h1v1h-1zM280 106h1v1h-1zM281 88h1v1h-1zM281 90h1v1h-1zM281 92h1v1h-1zM282 103h1v1h-1zM283 80h1v1h-1zM283 90h1v1h-1zM283 100h1v1h-1zM284 90h1v1h-1zM284 92h1v1h-1zM284 95h1v1h-1zM284 102h1v1h-1zM284 104h1v1h-1zM285 78h1v1h-1zM285 87h1v1h-1zM285 92h1v1h-1zM285 93h1v1h-1zM285 97h1v1h-1zM285 103h1v1h-1zM286 85h1v1h-1zM286 91h1v1h-1zM286 93h1v1h-1zM286 97h1v1h-1zM286 99h1v1h-1zM286 102h1v1h-1zM287 83h1v1h-1zM287 96h1v1h-1zM287 97h1v1h-1zM287 98h1v1h-1zM287 100h1v1h-1zM288 84h1v1h-1zM288 87h1v1h-1zM288 88h1v1h-1zM288 95h1v1h-1zM288 106h1v1h-1zM289 67h1v1h-1zM289 91h1v1h-1zM289 92h1v1h-1zM289 95h1v1h-1zM289 102h1v1h-1zM290 82h1v1h-1zM290 84h1v1h-1zM290 91h1v1h-1zM290 100h1v1h-1zM290 106h1v1h-1zM291 89h1v1h-1zM292 82h1v1h-1zM292 87h1v1h-1zM292 96h1v1h-1zM293 75h1v1h-1zM293 80h1v1h-1zM293 92h1v1h-1zM294 76h1v1h-1zM294 80h1v1h-1zM294 82h1v1h-1zM294 85h1v1h-1zM295 80h1v1h-1zM295 82h1v1h-1zM295 85h1v1h-1zM295 89h1v1h-1zM296 80h1v1h-1zM296 87h1v1h-1zM297 72h1v1h-1zM297 75h1v1h-1zM297 76h1v1h-1zM298 73h1v1h-1zM298 75h1v1h-1zM298 90h1v1h-1zM299 72h1v1h-1zM300 73h1v1h-1zM301 68h1v1h-1zM302 67h1v1h-1zM302 74h1v1h-1zM302 78h1v1h-1zM303 74h1v1h-1zM303 78h1v1h-1zM304 59h1v1h-1zM304 73h1v1h-1zM306 68h1v1h-1zM311 63h1v1h-1zM311 65h1v1h-1zM322 45h1v1h-1z" fill="#f00" fill-opacity="0.5"/>
<path d="M263 106h1v1h-1zM265 102h1v1h-1zM265 103h1v1h-1zM265 105h1v1h-1zM265 108h1v1h-1zM265 111h1v1h-1zM266 96h1v1h-1zM266 98h1v1h-1zM266 99h1v1h-1zM266 101h1v1h-1zM266 104h1v1h-1zM266 108h1v1h-1zM266 110h1v1h-1zM267 94h1v1h-1zM267 99h1v1h-1zM267 109h1v1h-1zM267 110h1v1h-1zM268 99h1v1h-1zM268 105h1v1h-1zM268 106h1v1h-1zM269 97h1v1h-1zM269 99h1v1h-1zM269 108h1v1h-1zM269 109h1v1h-1zM269 111h1v1h-1zM269 114h1v1h-1zM270 97h1v1h-1zM270 98h1v1h-1zM271 94h1v1h-1zM271 95h1v1h-1zM271 108h1v1h-1zM271 109h1v1h-1zM272 92h1v1h-1zM272 94h1v1h-1zM272 95h1v1h-1zM272 96h1v1h-1zM272 109h1v1h-1zM272 110h1v1h-1zM273 94h1v1h-1zM273 95h1v1h-1zM273 105h1v1h-1zM273 107h1v1h-1zM273 108h1v1h-1zM273 109h1v1h-1zM274 94h1v1h-1zM274 109h1v1h-1zM275 91h1v1h-1zM275 95h1v1h-1zM275 108h1v1h-1zM276 92h1v1h-1zM276 108h1v1h-1zM277 92h1v1h-1zM277 94h1v1h-1zM277 106h1v1h-1zM277 108h1v1h-1zM278 89h1v1h-1zM278 91h1v1h-1zM278 106h1v1h-1zM278 107h1v1h-1zM279 92h1v1h-1zM279 93h1v1h-1zM279 106h1v1h-1zM279 107h1v1h-1zM279 108h1v1h-1zM280 93h1v1h-1zM280 102h1v1h-1zM280 105h1v1h-1zM280 108h1v1h-1zM281 91h1v1h-1zM281 99h1v1h-1zM281 102h1v1h-1zM281 103h1v1h-1zM281 104h1v1h-1zM281 105h1v1h-1zM281 108h1v1h-1zM282 89h1v1h-1zM282 90h1v1h-1zM282 92h1v1h-1zM282 101h1v1h-1zM283 91h1v1h-1zM283 97h1v1h-1zM283 98h1v1h-1zM283 102h1v1h-1zM283 103h1v1h-1zM284 91h1v1h-1zM284 93h1v1h-1zM284 96h1v1h-1zM284 97h1v1h-1zM284 100h1v1h-1zM284 101h1v1h-1zM285 90h1v1h-1zM285 94h1v1h-1zM285 95h1v1h-1zM285 100h1v1h-1zM286 94h1v1h-1zM286 95h1v1h-1zM286 96h1v1h-1zM286 100h1v1h-1zM287 89h1v1h-1zM287 93h1v1h-1zM287 94h1v1h-1zM289 89h1v1h-1zM290 87h1v1h-1zM290 96h1v1h-1zM291 84h1v1h-1zM293 81h1v1h-1zM296 77h1v1h-1zM298 76h1v1h-1zM305 68h1v1h-1zM305 71h1v1h-1zM309 61h1v1h-1zM311 61h1v1h-1zM312 58h1v1h-1z" fill="#f00" fill-opacity="0.75"/>
<path d="M264 103h1v1h-1zM264 105h1v1h-1zM265 104h1v1h-1zM266 105h1v1h-1zM266 106h1v1h-1zM266 107h1v1h-1zM266 109h1v1h-1zM267 101h1v1h-1zM267 102h1v1h-1zM267 103h1v1h-1zM267 104h1v1h-1zM267 106h1v1h-1zM268 101h1v1h-1zM268 102h1v1h-1zM268 103h1v1h-1zM268 104h1v1h-1zM268 107h1v1h-1zM268 108h1v1h-1zM269 98h1v1h-1zM269 100h1v1h-1zM269 101h1v1h-1zM269 102h1v1h-1zM269 103h1v1h-1zM269 104h1v1h-1zM269 105h1v1h-1zM269 106h1v1h-1zM269 107h1v1h-1zM270 99h1v1h-1zM270 100h1v1h-1zM270 101h1v1h-1zM270 102h1v1h-1zM270 103h1v1h-1zM270 104h1v1h-1zM270 105h1v1h-1zM270 106h1v1h-1zM270 107h1v1h-1zM270 108h1v1h-1zM271 97h1v1h-1zM271 98h1v1h-1zM271 99h1v1h-1zM271 100h1v1h-1zM271 101h1v1h-1zM271 102h1v1h-1zM271 103h1v1h-1zM271 104h1v1h-1zM271 105h1v1h-1zM271 106h1v1h-1zM271 107h1v1h-1zM272 97h1v1h-1zM272 98h1v1h-1zM272 99h1v1h-1zM272 100h1v1h-1zM272 101h1v1h-1zM272 102h1v1h-1zM272 103h1v1h-1zM272 104h1v1h-1zM272 105h1v1h-1zM272 106h1v1h-1zM272 107h1v1h-1zM272 108h1v1h-1zM273 96h1v1h-1zM273 97h1v1h-1zM273 98h1v1h-1zM273 99h1v1h-1zM273 100h1v1h-1zM273 101h1v1h-1zM273 102h1v1h-1zM273 103h1v1h-1zM273 104h1v1h-1zM273 106h1v1h-1zM274 93h1v1h-1zM274 95h1v1h-1zM274 96h1v1h-1zM274 97h1v1h-1zM274 98h1v1h-1zM274 99h1v1h-1zM274 100h1v1h-1zM274 101h1v1h-1zM274 102h1v1h-1zM274 103h1v1h-1zM274 104h1v1h-1zM274 105h1v1h-1zM274 106h1v1h-1zM274 107h1v1h-1zM274 108h1v1h-1zM275 93h1v1h-1zM275 96h1v1h-1zM275 97h1v1h-1zM275 98h1v1h-1zM275 99h1v1h-1zM275 100h1v1h-1zM275 101h1v1h-1zM275 102h1v1h-1zM275 103h1v1h-1zM275 104h1v1h-1zM275 105h1v1h-1zM275 106h1v1h-1zM275 107h1v1h-1zM276 94h1v1h-1zM276 95h1v1h-1zM276 96h1v1h-1zM276 97h1v1h-1zM276 98h1v1h-1zM276 99h1v1h-1zM276 100h1v1h-1zM276 101h1v1h-1zM276 102h1v1h-1zM276 103h1v1h-1zM276 104h1v1h-1zM276 105h1v1h-1zM276 106h1v1h-1zM276 107h1v1h-1zM277 95h1v1h-1zM277 96h1v1h-1zM277 97h1v1h-1zM277 98h1v1h-1zM277 99h1v1h-1zM277 100h1v1h-1zM277 101h1v1h-1zM277 102h1v1h-1zM277 103h1v1h-1zM277 104h1v1h-1zM277 105h1v1h-1zM278 92h1v1h-1zM278 94h1v1h-1zM278 95h1v1h-1zM278 96h1v1h-1zM278 97h1v1h-1zM278 98h1v1h-1zM278 99h1v1h-1zM278 100h1v1h-1zM278 101h1v1h-1zM278 102h1v1h-1zM278 103h1v1h-1zM278 104h1v1h-1zM278 105h1v1h-1zM279 94h1v1h-1zM279 95h1v1h-1zM279 96h1v1h-1zM279 97h1v1h-1zM279 98h1v1h-1zM279 99h1v1h-1zM279 100h1v1h-1zM279 101h1v1h-1zM279 102h1v1h-1zM279 104h1v1h-1zM280 92h1v1h-1zM280 94h1v1h-1zM280 95h1v1h-1zM280 97h1v1h-1zM280 98h1v1h-1zM280 99h1v1h-1zM280 100h1v1h-1zM280 101h1v1h-1zM280 103h1v1h-1zM281 93h1v1h-1zM281 94h1v1h-1zM281 95h1v1h-1zM281 96h1v1h-1zM281 97h1v1h-1zM281 98h1v1h-1zM281 100h1v1h-1zM281 101h1v1h-1zM282 91h1v1h-1zM282 93h1v1h-1zM282 94h1v1h-1zM282 95h1v1h-1zM282 96h1v1h-1zM282 97h1v1h-1zM282 98h1v1h-1zM282 99h1v1h-1zM282 100h1v1h-1zM282 102h1v1h-1zM283 93h1v1h-1zM283 94h1v1h-1zM283 95h1v1h-1zM283 96h1v1h-1zM283 99h1v1h-1zM283 101h1v1h-1zM284 94h1v1h-1zM284 98h1v1h-1zM284 99h1v1h-1zM285 96h1v1h-1zM285 98h1v1h-1zM285 99h1v1h-1zM286 98h1v1h-1zM288 91h1v1h-1zM291 95h1v1h-1z" fill="#f00" fill-opacity="1.0"/>
<path d="M386 117h1v1h-1zM388 77h1v1h-1zM390 114h1v1h-1zM391 110h1v1h-1zM394 111h1v1h-1zM395 98h1v1h-1zM396 102h1v1h-1zM396 105h1v1h-1zM396 111h1v1h-1zM396 112h1v1h-1zM397 105h1v1h-1zM397 107h1v1h-1zM397 114h1v1h-1zM398 107h1v1h-1zM399 82h1v1h-1zM399 95h1v1h-1zM399 96h1v1h-1zM399 102h1v1h-1zM399 112h1v1h-1zM399 117h1v1h-1zM400 95h1v1h-1zM400 101h1v1h-1zM400 113h1v1h-1zM401 107h1v1h-1zM401 108h1v1h-1zM401 111h1v1h-1zM401 112h1v1h-1zM401 113h1v1h-1zM401 115h1v1h-1zM401 116h1v1h-1zM401 124h1v1h-1zM402 103h1v1h-1zM402 107h1v1h-1zM402 108h1v1h-1zM402 111h1v1h-1zM402 116h1v1h-1zM402 118h1v1h-1zM402 119h1v1h-1zM403 96h1v1h-1zM403 101h1v1h-1zM403 102h1v1h-1zM403 105h1v1h-1zM403 108h1v1h-1zM403 110h1v1h-1zM403 112h1v1h-1zM403 113h1v1h-1zM403 116h1v1h-1zM404 81h1v1h-1zM404 94h1v1h-1zM404 98h1v1h-1zM404 102h1v1h-1zM404 104h1v1h-1zM404 115h1v1h-1zM405 62h1v1h-1zM405 89h1v1h-1zM405 94h1v1h-1zM405 97h1v1h-1zM405 99h1v1h-1zM405 102h1v1h-1zM405 107h1v1h-1zM405 111h1v1h-1zM405 116h1v1h-1zM405 117h1v1h-1zM405 119h1v1h-1zM406 78h1v1h-1zM406 99h1v1h-1zM406 101h1v1h-1zM406 105h1v1h-1zM406 108h1v1h-1zM406 111h1v1h-1zM407 71h1v1h-1zM407 94h1v1h-1zM407 95h1v1h-1zM407 109h1v1h-1zM407 112h1v1h-1zM407 118h1v1h-1zM408 97h1v1h-1zM408 102h1v1h-1zM408 110h1v1h-1zM408 113h1v1h-1zM408 114h1v1h-1zM408 116h1v1h-1zM408 120h1v1h-1zM409 93h1v1h-1zM409 95h1v1h-1zM409 97h1v1h-1zM409 98h1v1h-1zM409 100h1v1h-1zM409 113h1v1h-1zM409 114h1v1h-1zM409 126h1v1h-1zM410 71h1v1h-1zM410 82h1v1h-1zM410 93h1v1h-1zM410 105h1v1h-1zM410 112h1v1h-1zM410 113h1v1h-1zM410 115h1v1h-1zM410 116h1v1h-1zM411 52h1v1h-1zM411 80h1v1h-1zM411 81h1v1h-1zM411 84h1v1h-1zM411 86h1v1h-1zM411 96h1v1h-1zM411 97h1v1h-1zM411 114h1v1h-1zM411 118h1v1h-1zM411 122h1v1h-1zM412 74h1v1h-1zM412 77h1v1h-1zM412 89h1v1h-1zM412 94h1v1h-1zM412 96h1v1h-1zM412 114h1v1h-1zM412 115h1v1h-1zM412 116h1v1h-1zM412 119h1v1h-1zM413 76h1v1h-1zM413 90h1v1h-1zM413 113h1v1h-1zM413 115h1v1h-1zM414 49h1v1h-1zM414 77h1v1h-1zM414 87h1v1h-1zM414 90h1v1h-1zM414 93h1v1h-1zM414 114h1v1h-1zM414 117h1v1h-1zM415 63h1v1h-1zM415 70h1v1h-1zM415 93h1v1h-1zM415 94h1v1h-1zM416 62h1v1h-1zM416 72h1v1h-1zM416 81h1v1h-1zM416 88h1v1h-1zM416 92h1v1h-1zM416 95h1v1h-1zM416 113h1v1h-1zM416 114h1v1h-1zM416 118h1v1h-1zM417 53h1v1h-1zM417 80h1v1h-1zM417 89h1v1h-1zM417 91h1v1h-1zM417 116h1v1h-1zM417 119h1v1h-1zM418 59h1v1h-1zM418 77h1v1h-1zM418 86h1v1h-1zM418 90h1v1h-1zM418 91h1v1h-1zM418 92h1v1h-1zM418 93h1v1h-1zM418 94h1v1h-1zM418 113h1v1h-1zM418 117h1v1h-1zM419 82h1v1h-1zM419 91h1v1h-1zM419 93h1v1h-1zM419 95h1v1h-1zM419 96h1v1h-1zM419 112h1v1h-1zM420 77h1v1h-1zM420 83h1v1h-1zM420 85h1v1h-1zM420 87h1v1h-1zM420 88h1v1h-1zM420 90h1v1h-1zM420 112h1v1h-1zM420 115h1v1h-1zM421 70h1v1h-1zM421 89h1v1h-1zM421 91h1v1h-1zM421 92h1v1h-1zM421 111h1v1h-1zM421 113h1v1h-1zM422 67h1v1h-1zM422 71h1v1h-1zM422 74h1v1h-1zM422 76h1v1h-1zM422 87h1v1h-1zM422 90h1v1h-1zM422 91h1v1h-1zM422 92h1v1h-1zM422 109h1v1h-1zM422 110h1v1h-1zM423 63h1v1h-1zM423 77h1v1h-1zM423 85h1v1h-1zM423 88h1v1h-1zM423 89h1v1h-1zM423 90h1v1h-1zM423 91h1v1h-1zM423 93h1v1h-1zM423 94h1v1h-1zM423 108h1v1h-1zM423 109h1v1h-1zM423 111h1v1h-1zM424 73h1v1h-1zM424 74h1v1h-1zM424 85h1v1h-1zM424 93h1v1h-1zM424 96h1v1h-1zM424 103h1v1h-1zM424 107h1v1h-1zM425 54h1v1h-1zM425 57h1v1h-1zM425 78h1v1h-1zM425 83h1v1h-1zM425 86h1v1h-1zM425 90h1v1h-1zM425 92h1v1h-1zM425 94h1v1h-1zM425 95h1v1h-1zM425 109h1v1h-1zM425 112h1v1h-1zM426 79h1v1h-1zM426 86h1v1h-1zM426 91h1v1h-1zM426 94h1v1h-1zM426 103h1v1h-1zM426 114h1v1h-1zM427 59h1v1h-1zM427 61h1v1h-1zM427 74h1v1h-1zM427 76h1v1h-1zM427 91h1v1h-1zM427 99h1v1h-1zM427 103h1v1h-1zM427 104h1v1h-1zM427 106h1v1h-1zM427 108h1v1h-1zM427 112h1v1h-1zM427 115h1v1h-1zM428 81h1v1h-1zM428 82h1v1h-1zM428 85h1v1h-1zM428 86h1v1h-1zM428 88h1v1h-1zM428 89h1v1h-1zM428 93h1v1h-1zM428 94h1v1h-1zM428 96h1v1h-1zM428 100h1v1h-1zM428 101h1v1h-1zM428 108h1v1h-1zM429 73h1v1h-1zM429 75h1v1h-1zM429 77h1v1h-1zM429 81h1v1h-1zM429 82h1v1h-1zM429 86h1v1h-1zM429 90h1v1h-1zM429 94h1v1h-1zM429 103h1v1h-1zM429 106h1v1h-1zM430 63h1v1h-1zM430 76h1v1h-1zM430 77h1v1h-1zM430 78h1v1h-1zM430 80h1v1h-1zM430 81h1v1h-1zM430 84h1v1h-1zM430 85h1v1h-1zM430 90h1v1h-1zM430 94h1v1h-1zM430 103h1v1h-1zM430 104h1v1h-1zM431 57h1v1h-1zM431 59h1v1h-1zM431 60h1v1h-1zM431 66h1v1h-1zM431 68h1v1h-1zM431 79h1v1h-1zM431 80h1v1h-1zM431 82h1v1h-1zM431 83h1v1h-1zM431 91h1v1h-1zM431 92h1v1h-1zM431 94h1v1h-1zM431 99h1v1h-1zM431 102h1v1h-1zM431 106h1v1h-1zM432 63h1v1h-1zM432 68h1v1h-1zM432 69h1v1h-1zM432 72h1v1h-1zM432 75h1v1h-1zM432 76h1v1h-1zM432 85h1v1h-1zM432 91h1v1h-1zM432 93h1v1h-1zM432 95h1v1h-1zM432 98h1v1h-1zM432 99h1v1h-1zM433 57h1v1h-1zM433 58h1v1h-1zM433 59h1v1h-1zM433 62h1v1h-1zM433 68h1v1h-1zM433 70h1v1h-1zM433 76h1v1h-1zM433 77h1v1h-1zM433 89h1v1h-1zM433 92h1v1h-1zM433 102h1v1h-1zM433 103h1v1h-1zM434 50h1v1h-1zM434 68h1v1h-1zM434 79h1v1h-1zM434 81h1v1h-1zM434 83h1v1h-1zM434 84h1v1h-1zM434 87h1v1h-1zM434 88h1v1h-1zM434 98h1v1h-1zM434 100h1v1h-1zM434 102h1v1h-1zM434 106h1v1h-1zM435 64h1v1h-1zM435 69h1v1h-1zM435 71h1v1h-1zM435 75h1v1h-1zM435 77h1v1h-1zM435 79h1v1h-1zM435 83h1v1h-1zM435 85h1v1h-1zM435 90h1v1h-1zM435 92h1v1h-1zM435 95h1v1h-1zM435 98h1v1h-1zM435 101h1v1h-1zM435 102h1v1h-1zM435 104h1v1h-1zM436 61h1v1h-1zM436 72h1v1h-1zM436 74h1v1h-1zM436 77h1v1h-1zM436 83h1v1h-1zM436 84h1v1h-1zM436 86h1v1h-1zM436 88h1v1h-1zM436 89h1v1h-1zM436 96h1v1h-1zM436 103h1v1h-1zM437 65h1v1h-1zM437 66h1v1h-1zM437 67h1v1h-1zM437 69h1v1h-1zM437 70h1v1h-1zM437 74h1v1h-1zM437 75h1v1h-1zM437 76h1v1h-1zM437 77h1v1h-1zM437 78h1v1h-1zM437 79h1v1h-1zM437 82h1v1h-1zM437 83h1v1h-1zM437 84h1v1h-1zM437 87h1v1h-1zM437 91h1v1h-1zM437 116h1v1h-1zM438 61h1v1h-1zM438 62h1v1h-1zM438 67h1v1h-1zM438 73h1v1h-1zM438 74h1v1h-1zM438 75h1v1h-1zM438 81h1v1h-1zM438 83h1v1h-1zM438 86h1v1h-1zM438 87h1v1h-1zM438 89h1v1h-1zM438 108h1v1h-1zM439 67h1v1h-1zM439 69h1v1h-1zM439 74h1v1h-1zM439 75h1v1h-1zM439 78h1v1h-1zM439 82h1v1h-1zM439 85h1v1h-1zM439 87h1v1h-1zM440 60h1v1h-1zM440 61h1v1h-1zM440 65h1v1h-1zM440 76h1v1h-1zM440 78h1v1h-1zM440 80h1v1h-1zM440 81h1v1h-1zM440 83h1v1h-1zM440 86h1v1h-1zM440 101h1v1h-1zM441 56h1v1h-1zM441 59h1v1h-1zM441 61h1v1h-1zM441 62h1v1h-1zM441 64h1v1h-1zM441 67h1v1h-1zM441 76h1v1h-1zM441 77h1v1h-1zM441 79h1v1h-1zM441 80h1v1h-1zM441 84h1v1h-1zM441 86h1v1h-1zM442 59h1v1h-1zM442 61h1v1h-1zM442 62h1v1h-1zM442 70h1v1h-1zM442 73h1v1h-1zM442 90h1v1h-1zM442 119h1v1h-1zM443 58h1v1h-1zM443 61h1v1h-1zM443 62h1v1h-1zM443 63h1v1h-1zM443 67h1v1h-1zM443 69h1v1h-1zM443 75h1v1h-1zM443 76h1v1h-1zM443 84h1v1h-1zM443 105h1v1h-1zM444 54h1v1h-1zM444 58h1v1h-1zM444 60h1v1h-1zM444 69h1v1h-1zM444 70h1v1h-1zM444 76h1v1h-1zM444 78h1v1h-1zM444 81h1v1h-1zM444 82h1v1h-1zM444 96h1v1h-1zM445 61h1v1h-1zM445 62h1v1h-1zM445 68h1v1h-1zM445 70h1v1h-1zM445 73h1v1h-1zM445 75h1v1h-1zM445 78h1v1h-1zM445 80h1v1h-1zM446 55h1v1h-1zM446 57h1v1h-1zM446 58h1v1h-1zM446 61h1v1h-1zM447 57h1v1h-1zM447 66h1v1h-1zM447 67h1v1h-1zM447 68h1v1h-1zM447 71h1v1h-1zM447 74h1v1h-1zM447 75h1v1h-1zM447 77h1v1h-1zM447 86h1v1h-1zM447 95h1v1h-1zM448 58h1v1h-1zM448 59h1v1h-1zM448 60h1v1h-1zM448 73h1v1h-1zM448 74h1v1h-1zM448 82h1v1h-1zM449 57h1v1h-1zM449 59h1v1h-1zM449 64h1v1h-1zM449 84h1v1h-1zM449 89h1v1h-1zM450 56h1v1h-1zM450 59h1v1h-1zM450 60h1v1h-1zM450 67h1v1h-1zM450 72h1v1h-1zM450 80h1v1h-1zM451 56h1v1h-1zM451 62h1v1h-1zM451 64h1v1h-1zM451 65h1v1h-1zM451 68h1v1h-1zM451 70h1v1h-1zM451 73h1v1h-1zM451 80h1v1h-1zM452 48h1v1h-1zM452 55h1v1h-1zM452 58h1v1h-1zM452 60h1v1h-1zM452 61h1v1h-1zM452 62h1v1h-1zM452 63h1v1h-1zM452 66h1v1h-1zM452 67h1v1h-1zM453 57h1v1h-1zM453 58h1v1h-1zM453 62h1v1h-1zM454 60h1v1h-1zM454 62h1v1h-1zM454 63h1v1h-1zM454 67h1v1h-1zM454 70h1v1h-1zM455 54h1v1h-1zM455 61h1v1h-1zM455 63h1v1h-1zM455 66h1v1h-1zM455 73h1v1h-1zM455 84h1v1h-1zM455 111h1v1h-1zM456 53h1v1h-1zM456 60h1v1h-1zM456 64h1v1h-1zM456 65h1v1h-1zM457 53h1v1h-1zM457 59h1v1h-1zM457 62h1v1h-1zM457 63h1v1h-1zM457 66h1v1h-1zM457 67h1v1h-1zM458 57h1v1h-1zM458 63h1v1h-1zM459 65h1v1h-1zM460 48h1v1h-1zM460 64h1v1h-1zM460 78h1v1h-1zM461 93h1v1h-1zM462 69h1v1h-1zM463 27h1v1h-1zM463 56h1v1h-1zM463 107h1v1h-1zM464 52h1v1h-1zM464 62h1v1h-1zM464 66h1v1h-1zM464 68h1v1h-1zM466 75h1v1h-1zM467 53h1v1h-1zM468 56h1v1h-1zM472 87h1v1h-1zM476 40h1v1h-1zM483 48h1v1h-1z" fill="#f00" fill-opacity="0.3"/>
<path d="M401 110h1v1h-1zM403 104h1v1h-1zM403 106h1v1h-1zM403 107h1v1h-1zM404 105h1v1h-1zM404 107h1v1h-1zM404 109h1v1h-1zM404 111h1v1h-1zM404 112h1v1h-1zM405 96h1v1h-1zM405 100h1v1h-1zM405 104h1v1h-1zM405 105h1v1h-1zM405 106h1v1h-1zM405 109h1v1h-1zM405 113h1v1h-1zM406 102h1v1h-1zM406 103h1v1h-1zM406 104h1v1h-1zM406 106h1v1h-1zM406 107h1v1h-1zM406 110h1v1h-1zM407 99h1v1h-1zM407 103h1v1h-1zM407 104h1v1h-1zM407 108h1v1h-1zM408 99h1v1h-1zM408 100h1v1h-1zM408 101h1v1h-1zM408 106h1v1h-1zM409 110h1v1h-1zM410 97h1v1h-1zM410 98h1v1h-1zM410 99h1v1h-1zM410 107h1v1h-1zM411 99h1v1h-1zM411 112h1v1h-1zM411 113h1v1h-1zM411 115h1v1h-1zM411 116h1v1h-1zM412 100h1v1h-1zM412 112h1v1h-1zM413 94h1v1h-1zM413 95h1v1h-1zM413 98h1v1h-1zM413 114h1v1h-1zM414 95h1v1h-1zM414 96h1v1h-1zM414 113h1v1h-1zM415 95h1v1h-1zM415 96h1v1h-1zM415 98h1v1h-1zM415 112h1v1h-1zM415 113h1v1h-1zM416 91h1v1h-1zM416 94h1v1h-1zM416 97h1v1h-1zM416 109h1v1h-1zM417 81h1v1h-1zM417 94h1v1h-1zM417 110h1v1h-1zM417 111h1v1h-1zM417 123h1v1h-1zM418 95h1v1h-1zM418 111h1v1h-1zM418 114h1v1h-1zM419 110h1v1h-1zM420 93h1v1h-1zM420 94h1v1h-1zM420 113h1v1h-1zM421 93h1v1h-1zM421 108h1v1h-1zM422 93h1v1h-1zM422 108h1v1h-1zM422 114h1v1h-1zM423 92h1v1h-1zM424 82h1v1h-1zM424 108h1v1h-1zM424 109h1v1h-1zM425 93h1v1h-1zM425 96h1v1h-1zM425 100h1v1h-1zM425 107h1v1h-1zM426 82h1v1h-1zM426 83h1v1h-1zM426 88h1v1h-1zM426 92h1v1h-1zM426 95h1v1h-1zM426 96h1v1h-1zM426 101h1v1h-1zM426 102h1v1h-1zM426 104h1v1h-1zM426 108h1v1h-1zM427 81h1v1h-1zM427 84h1v1h-1zM427 86h1v1h-1zM427 92h1v1h-1zM427 93h1v1h-1zM427 94h1v1h-1zM427 95h1v1h-1zM427 96h1v1h-1zM427 98h1v1h-1zM427 100h1v1h-1zM427 101h1v1h-1zM427 102h1v1h-1zM428 77h1v1h-1zM428 84h1v1h-1zM428 91h1v1h-1zM428 97h1v1h-1zM429 83h1v1h-1zM429 87h1v1h-1zM429 88h1v1h-1zM429 97h1v1h-1zM430 87h1v1h-1zM430 88h1v1h-1zM430 96h1v1h-1zM432 97h1v1h-1zM433 64h1v1h-1zM433 82h1v1h-1zM434 90h1v1h-1zM434 97h1v1h-1zM435 65h1v1h-1zM435 67h1v1h-1zM436 66h1v1h-1zM436 68h1v1h-1zM436 69h1v1h-1zM437 60h1v1h-1zM437 63h1v1h-1zM437 72h1v1h-1zM437 80h1v1h-1zM437 85h1v1h-1zM438 63h1v1h-1zM438 64h1v1h-1zM438 71h1v1h-1zM439 60h1v1h-1zM439 66h1v1h-1zM439 68h1v1h-1zM439 70h1v1h-1zM439 73h1v1h-1zM439 77h1v1h-1zM439 80h1v1h-1zM439 86h1v1h-1zM440 63h1v1h-1zM440 66h1v1h-1zM440 67h1v1h-1zM440 92h1v1h-1zM442 65h1v1h-1zM442 69h1v1h-1zM442 71h1v1h-1zM442 74h1v1h-1zM442 78h1v1h-1zM443 59h1v1h-1zM443 60h1v1h-1zM443 66h1v1h-1zM443 71h1v1h-1zM443 72h1v1h-1zM444 61h1v1h-1zM444 62h1v1h-1zM444 64h1v1h-1zM444 65h1v1h-1zM444 66h1v1h-1zM444 71h1v1h-1zM445 69h1v1h-1zM445 71h1v1h-1zM446 59h1v1h-1zM446 62h1v1h-1zM446 68h1v1h-1zM446 69h1v1h-1zM446 71h1v1h-1zM446 75h1v1h-1zM447 54h1v1h-1zM447 59h1v1h-1zM447 60h1v1h-1zM447 69h1v1h-1zM448 68h1v1h-1zM448 70h1v1h-1zM448 72h1v1h-1zM449 61h1v1h-1zM449 65h1v1h-1zM449 66h1v1h-1zM449 69h1v1h-1zM449 71h1v1h-1zM450 61h1v1h-1zM450 62h1v1h-1zM450 65h1v1h-1zM451 60h1v1h-1zM451 61h1v1h-1zM451 67h1v1h-1zM452 57h1v1h-1zM453 51h1v1h-1zM453 64h1v1h-1zM453 66h1v1h-1zM454 61h1v1h-1zM454 65h1v1h-1zM454 66h1v1h-1zM455 62h1v1h-1zM455 64h1v1h-1zM456 58h1v1h-1zM457 64h1v1h-1zM458 62h1v1h-1z" fill="#f00" fill-opacity="0.5"/>
<path d="M403 109h1v1h-1zM404 113h1v1h-1zM406 113h1v1h-1zM407 102h1v1h-1zM407 106h1v1h-1zM407 110h1v1h-1zM408 103h1v1h-1zM408 104h1v1h-1zM408 107h1v1h-1zM408 109h1v1h-1zM408 112h1v1h-1zM409 91h1v1h-1zM409 101h1v1h-1zM409 102h1v1h-1zM409 103h1v1h-1zM409 109h1v1h-1zM409 112h1v1h-1zM409 115h1v1h-1zM410 100h1v1h-1zM410 102h1v1h-1zM410 104h1v1h-1zM410 109h1v1h-1zM410 114h1v1h-1zM411 91h1v1h-1zM411 98h1v1h-1zM411 100h1v1h-1zM411 101h1v1h-1zM412 97h1v1h-1zM412 98h1v1h-1zM412 111h1v1h-1zM412 113h1v1h-1zM413 97h1v1h-1zM413 116h1v1h-1zM414 97h1v1h-1zM414 98h1v1h-1zM414 111h1v1h-1zM414 112h1v1h-1zM415 97h1v1h-1zM416 96h1v1h-1zM416 111h1v1h-1zM416 112h1v1h-1zM417 95h1v1h-1zM418 98h1v1h-1zM418 108h1v1h-1zM418 109h1v1h-1zM418 110h1v1h-1zM418 112h1v1h-1zM419 92h1v1h-1zM419 97h1v1h-1zM419 109h1v1h-1zM419 111h1v1h-1zM420 92h1v1h-1zM420 95h1v1h-1zM420 96h1v1h-1zM420 110h1v1h-1zM421 94h1v1h-1zM421 103h1v1h-1zM421 112h1v1h-1zM422 94h1v1h-1zM422 96h1v1h-1zM422 97h1v1h-1zM422 103h1v1h-1zM422 107h1v1h-1zM423 95h1v1h-1zM423 96h1v1h-1zM423 100h1v1h-1zM423 102h1v1h-1zM423 103h1v1h-1zM424 95h1v1h-1zM424 97h1v1h-1zM424 99h1v1h-1zM424 100h1v1h-1zM424 110h1v1h-1zM425 88h1v1h-1zM425 98h1v1h-1zM425 99h1v1h-1zM425 103h1v1h-1zM425 104h1v1h-1zM425 106h1v1h-1zM426 84h1v1h-1zM426 97h1v1h-1zM426 99h1v1h-1zM428 99h1v1h-1zM428 104h1v1h-1zM429 95h1v1h-1zM429 99h1v1h-1zM430 82h1v1h-1zM430 99h1v1h-1zM430 100h1v1h-1zM431 76h1v1h-1zM431 88h1v1h-1zM431 96h1v1h-1zM433 88h1v1h-1zM435 76h1v1h-1zM437 73h1v1h-1zM439 65h1v1h-1zM440 64h1v1h-1zM440 70h1v1h-1zM440 73h1v1h-1zM441 65h1v1h-1zM441 66h1v1h-1zM441 68h1v1h-1zM441 71h1v1h-1zM442 64h1v1h-1zM442 66h1v1h-1zM442 67h1v1h-1zM442 68h1v1h-1zM442 72h1v1h-1zM443 64h1v1h-1zM443 65h1v1h-1zM443 68h1v1h-1zM444 63h1v1h-1zM444 67h1v1h-1zM444 68h1v1h-1zM445 63h1v1h-1zM445 65h1v1h-1zM445 67h1v1h-1zM446 60h1v1h-1zM446 63h1v1h-1zM446 64h1v1h-1zM446 66h1v1h-1zM446 67h1v1h-1zM447 62h1v1h-1zM447 63h1v1h-1zM447 64h1v1h-1zM447 65h1v1h-1zM448 62h1v1h-1zM448 63h1v1h-1zM448 64h1v1h-1zM448 65h1v1h-1zM449 62h1v1h-1zM449 63h1v1h-1zM450 63h1v1h-1zM450 64h1v1h-1zM450 66h1v1h-1zM451 63h1v1h-1zM451 66h1v1h-1zM452 65h1v1h-1zM453 63h1v1h-1z" fill="#f00" fill-opacity="0.75"/>
<path d="M407 107h1v1h-1zM407 111h1v1h-1zM407 114h1v1h-1zM408 105h1v1h-1zM408 108h1v1h-1zM409 99h1v1h-1zM409 104h1v1h-1zM409 105h1v1h-1zM409 106h1v1h-1zM409 107h1v1h-1zM409 108h1v1h-1zM409 111h1v1h-1zM410 101h1v1h-1zM410 103h1v1h-1zM410 106h1v1h-1zM410 108h1v1h-1zM410 110h1v1h-1zM410 111h1v1h-1zM411 102h1v1h-1zM411 103h1v1h-1zM411 104h1v1h-1zM411 105h1v1h-1zM411 106h1v1h-1zM411 107h1v1h-1zM411 108h1v1h-1zM411 109h1v1h-1zM411 110h1v1h-1zM411 111h1v1h-1zM412 99h1v1h-1zM412 101h1v1h-1zM412 102h1v1h-1zM412 103h1v1h-1zM412 104h1v1h-1zM412 105h1v1h-1zM412 106h1v1h-1zM412 107h1v1h-1zM412 108h1v1h-1zM412 109h1v1h-1zM412 110h1v1h-1zM413 99h1v1h-1zM413 100h1v1h-1zM413 101h1v1h-1zM413 102h1v1h-1zM413 103h1v1h-1zM413 104h1v1h-1zM413 105h1v1h-1zM413 106h1v1h-1zM413 107h1v1h-1zM413 108h1v1h-1zM413 109h1v1h-1zM413 110h1v1h-1zM413 111h1v1h-1zM413 112h1v1h-1zM414 99h1v1h-1zM414 100h1v1h-1zM414 101h1v1h-1zM414 102h1v1h-1zM414 103h1v1h-1zM414 104h1v1h-1zM414 105h1v1h-1zM414 106h1v1h-1zM414 107h1v1h-1zM414 108h1v1h-1zM414 109h1v1h-1zM414 110h1v1h-1zM415 99h1v1h-1zM415 100h1v1h-1zM415 101h1v1h-1zM415 102h1v1h-1zM415 103h1v1h-1zM415 104h1v1h-1zM415 105h1v1h-1zM415 106h1v1h-1zM415 107h1v1h-1zM415 108h1v1h-1zM415 109h1v1h-1zM415 110h1v1h-1zM415 111h1v1h-1zM416 98h1v1h-1zM416 99h1v1h-1zM416 100h1v1h-1zM416 101h1v1h-1zM416 102h1v1h-1zM416 103h1v1h-1zM416 104h1v1h-1zM416 105h1v1h-1zM416 106h1v1h-1zM416 107h1v1h-1zM416 108h1v1h-1zM416 110h1v1h-1zM417 96h1v1h-1zM417 97h1v1h-1zM417 98h1v1h-1zM417 99h1v1h-1zM417 100h1v1h-1zM417 101h1v1h-1zM417 102h1v1h-1zM417 103h1v1h-1zM417 104h1v1h-1zM417 105h1v1h-1zM417 106h1v1h-1zM417 107h1v1h-1zM417 108h1v1h-1zM417 109h1v1h-1zM418 96h1v1h-1zM418 97h1v1h-1zM418 99h1v1h-1zM418 100h1v1h-1zM418 101h1v1h-1zM418 102h1v1h-1zM418 103h1v1h-1zM418 104h1v1h-1zM418 105h1v1h-1zM418 106h1v1h-1zM418 107h1v1h-1zM419 98h1v1h-1zM419 99h1v1h-1zM419 100h1v1h-1zM419 101h1v1h-1zM419 102h1v1h-1zM419 103h1v1h-1zM419 104h1v1h-1zM419 105h1v1h-1zM419 106h1v1h-1zM419 107h1v1h-1zM419 108h1v1h-1zM420 97h1v1h-1zM420 98h1v1h-1zM420 99h1v1h-1zM420 100h1v1h-1zM420 101h1v1h-1zM420 102h1v1h-1zM420 103h1v1h-1zM420 104h1v1h-1zM420 105h1v1h-1zM420 106h1v1h-1zM420 107h1v1h-1zM420 108h1v1h-1zM420 109h1v1h-1zM421 95h1v1h-1zM421 96h1v1h-1zM421 97h1v1h-1zM421 98h1v1h-1zM421 99h1v1h-1zM421 100h1v1h-1zM421 101h1v1h-1zM421 102h1v1h-1zM421 104h1v1h-1zM421 105h1v1h-1zM421 106h1v1h-1zM421 107h1v1h-1zM421 109h1v1h-1zM422 98h1v1h-1zM422 99h1v1h-1zM422 100h1v1h-1zM422 101h1v1h-1zM422 102h1v1h-1zM422 104h1v1h-1zM422 105h1v1h-1zM422 106h1v1h-1zM423 97h1v1h-1zM423 98h1v1h-1zM423 99h1v1h-1zM423 101h1v1h-1zM423 104h1v1h-1zM423 105h1v1h-1zM423 106h1v1h-1zM424 94h1v1h-1zM424 98h1v1h-1zM424 101h1v1h-1zM424 102h1v1h-1zM424 104h1v1h-1zM424 105h1v1h-1zM424 106h1v1h-1zM425 97h1v1h-1zM425 101h1v1h-1zM425 102h1v1h-1zM425 105h1v1h-1zM426 98h1v1h-1zM426 100h1v1h-1zM427 105h1v1h-1zM429 98h1v1h-1zM440 68h1v1h-1zM445 64h1v1h-1zM445 66h1v1h-1zM446 65h1v1h-1zM447 61h1v1h-1zM448 66h1v1h-1zM452 64h1v1h-1z" fill="#f00" fill-opacity="1.0"/>
<line x1="288.2" y1="18.8" x2="288.2" y2="140" stroke="#f44" stroke-width="0.85"/>
<line x1="236.4" y1="87.4" x2="348.6" y2="87.4" stroke="#f44" stroke-width="0.85"/>
<circle cx="288.2" cy="42" r="1.5" fill="none" stroke="#f33" stroke-width="0.8"/>
<circle cx="328.6" cy="87.4" r="1.5" fill="none" stroke="#f33" stroke-width="0.8"/>
<circle cx="288.2" cy="87.4" r="1.5" fill="none" stroke="#f33" stroke-width="0.8"/>
<rect x="236.4" y="18.8" width="112.2" height="121.2" fill="none" stroke="#8a8a8a" stroke-width="1"/>
<path d="M236.4 140h-2.2M236.4 140v2.2M236.4 132.7h-1.2M243.16 140v1.2M236.4 128.43h-1.2M247.11 140v1.2M236.4 125.41h-1.2M249.91 140v1.2M236.4 123.06h-1.2M252.08 140v1.2M236.4 121.14h-1.2M253.86 140v1.2M236.4 119.51h-1.2M255.36 140v1.2M236.4 118.11h-1.2M256.67 140v1.2M236.4 116.87h-1.2M257.81 140v1.2M236.4 115.76h-2.2M258.84 140v2.2M236.4 108.46h-1.2M265.6 140v1.2M236.4 104.19h-1.2M269.55 140v1.2M236.4 101.17h-1.2M272.35 140v1.2M236.4 98.82h-1.2M274.52 140v1.2M236.4 96.9h-1.2M276.3 140v1.2M236.4 95.27h-1.2M277.8 140v1.2M236.4 93.87h-1.2M279.11 140v1.2M236.4 92.63h-1.2M280.25 140v1.2M236.4 91.52h-2.2M281.28 140v2.2M236.4 84.22h-1.2M288.04 140v1.2M236.4 79.95h-1.2M291.99 140v1.2M236.4 76.93h-1.2M294.79 140v1.2M236.4 74.58h-1.2M296.96 140v1.2M236.4 72.66h-1.2M298.74 140v1.2M236.4 71.03h-1.2M300.24 140v1.2M236.4 69.63h-1.2M301.55 140v1.2M236.4 68.39h-1.2M302.69 140v1.2M236.4 67.28h-2.2M303.72 140v2.2M236.4 59.98h-1.2M310.48 140v1.2M236.4 55.71h-1.2M314.43 140v1.2M236.4 52.69h-1.2M317.23 140v1.2M236.4 50.34h-1.2M319.4 140v1.2M236.4 48.42h-1.2M321.18 140v1.2M236.4 46.79h-1.2M322.68 140v1.2M236.4 45.39h-1.2M323.99 140v1.2M236.4 44.15h-1.2M325.13 140v1.2M236.4 43.04h-2.2M326.16 140v2.2M236.4 35.74h-1.2M332.92 140v1.2M236.4 31.47h-1.2M336.87 140v1.2M236.4 28.45h-1.2M339.67 140v1.2M236.4 26.1h-1.2M341.84 140v1.2M236.4 24.18h-1.2M343.62 140v1.2M236.4 22.55h-1.2M345.12 140v1.2M236.4 21.15h-1.2M346.43 140v1.2M236.4 19.91h-1.2M347.57 140v1.2" stroke="#555" stroke-width="0.6" fill="none"/>
<text x="240" y="26.1" font-size="8.2" text-anchor="start" fill="#222" font-family="Liberation Serif, serif" textLength="16" lengthAdjust="spacingAndGlyphs">3.08%</text>
<text x="347.1" y="26.1" font-size="8.2" text-anchor="end" fill="#222" font-family="Liberation Serif, serif" textLength="16" lengthAdjust="spacingAndGlyphs">5.72%</text>
<text x="240" y="137.7" font-size="8.2" text-anchor="start" fill="#222" font-family="Liberation Serif, serif" textLength="19.2" lengthAdjust="spacingAndGlyphs">86.84%</text>
<text x="347.1" y="137.7" font-size="8.2" text-anchor="end" fill="#222" font-family="Liberation Serif, serif" textLength="16" lengthAdjust="spacingAndGlyphs">4.36%</text>
<path d="M236.4 18.8V140H348.6" fill="none" stroke="#6a6a6a" stroke-width="1"/>
<text x="232.4" y="147.2" font-size="5.4" fill="#2a2a2a" font-family="Liberation Serif, serif">10<tspan font-size="3.6" dy="-2.4">0</tspan></text>
<text transform="translate(234.6,144) rotate(-90)" font-size="5.4" fill="#2a2a2a" font-family="Liberation Serif, serif">10<tspan font-size="3.6" dy="-2.4">0</tspan></text>
<text x="254.84" y="147.2" font-size="5.4" fill="#2a2a2a" font-family="Liberation Serif, serif">10<tspan font-size="3.6" dy="-2.4">1</tspan></text>
<text transform="translate(234.6,119.76) rotate(-90)" font-size="5.4" fill="#2a2a2a" font-family="Liberation Serif, serif">10<tspan font-size="3.6" dy="-2.4">1</tspan></text>
<text x="277.28" y="147.2" font-size="5.4" fill="#2a2a2a" font-family="Liberation Serif, serif">10<tspan font-size="3.6" dy="-2.4">2</tspan></text>
<text transform="translate(234.6,95.52) rotate(-90)" font-size="5.4" fill="#2a2a2a" font-family="Liberation Serif, serif">10<tspan font-size="3.6" dy="-2.4">2</tspan></text>
<text x="299.72" y="147.2" font-size="5.4" fill="#2a2a2a" font-family="Liberation Serif, serif">10<tspan font-size="3.6" dy="-2.4">3</tspan></text>
<text transform="translate(234.6,71.28) rotate(-90)" font-size="5.4" fill="#2a2a2a" font-family="Liberation Serif, serif">10<tspan font-size="3.6" dy="-2.4">3</tspan></text>
<text x="322.16" y="147.2" font-size="5.4" fill="#2a2a2a" font-family="Liberation Serif, serif">10<tspan font-size="3.6" dy="-2.4">4</tspan></text>
<text transform="translate(234.6,47.04) rotate(-90)" font-size="5.4" fill="#2a2a2a" font-family="Liberation Serif, serif">10<tspan font-size="3.6" dy="-2.4">4</tspan></text>
<text x="344.6" y="147.2" font-size="5.4" fill="#2a2a2a" font-family="Liberation Serif, serif">10<tspan font-size="3.6" dy="-2.4">5</tspan></text>
<text transform="translate(234.6,22.8) rotate(-90)" font-size="5.4" fill="#2a2a2a" font-family="Liberation Serif, serif">10<tspan font-size="3.6" dy="-2.4">5</tspan></text>
<text x="288.2" y="153" font-size="5.2" text-anchor="middle" fill="#2a2a2a" font-family="Liberation Serif, serif" xml:space="preserve">CD14  FITC</text>
<text transform="translate(226.9,79.5) rotate(-90)" font-size="5.8" text-anchor="middle" fill="#2a2a2a" font-family="Liberation Serif, serif" textLength="19.6" lengthAdjust="spacingAndGlyphs">CD16 PE</text>
<line x1="429.3" y1="21.4" x2="429.3" y2="140" stroke="#f44" stroke-width="0.85"/>
<line x1="378.6" y1="89.1" x2="489" y2="89.1" stroke="#f44" stroke-width="0.85"/>
<circle cx="429.3" cy="44.1" r="1.5" fill="none" stroke="#f33" stroke-width="0.8"/>
<circle cx="468.9" cy="89.1" r="1.5" fill="none" stroke="#f33" stroke-width="0.8"/>
<circle cx="429.3" cy="89.1" r="1.5" fill="none" stroke="#f33" stroke-width="0.8"/>
<rect x="378.6" y="21.4" width="110.4" height="118.6" fill="none" stroke="#8a8a8a" stroke-width="1"/>
<path d="M378.6 140h-2.2M378.6 140v2.2M378.6 132.86h-1.2M385.25 140v1.2M378.6 128.68h-1.2M389.13 140v1.2M378.6 125.72h-1.2M391.89 140v1.2M378.6 123.42h-1.2M394.03 140v1.2M378.6 121.54h-1.2M395.78 140v1.2M378.6 119.95h-1.2M397.26 140v1.2M378.6 118.58h-1.2M398.54 140v1.2M378.6 117.37h-1.2M399.67 140v1.2M378.6 116.28h-2.2M400.68 140v2.2M378.6 109.14h-1.2M407.33 140v1.2M378.6 104.96h-1.2M411.21 140v1.2M378.6 102h-1.2M413.97 140v1.2M378.6 99.7h-1.2M416.11 140v1.2M378.6 97.82h-1.2M417.86 140v1.2M378.6 96.23h-1.2M419.34 140v1.2M378.6 94.86h-1.2M420.62 140v1.2M378.6 93.65h-1.2M421.75 140v1.2M378.6 92.56h-2.2M422.76 140v2.2M378.6 85.42h-1.2M429.41 140v1.2M378.6 81.24h-1.2M433.29 140v1.2M378.6 78.28h-1.2M436.05 140v1.2M378.6 75.98h-1.2M438.19 140v1.2M378.6 74.1h-1.2M439.94 140v1.2M378.6 72.51h-1.2M441.42 140v1.2M378.6 71.14h-1.2M442.7 140v1.2M378.6 69.93h-1.2M443.83 140v1.2M378.6 68.84h-2.2M444.84 140v2.2M378.6 61.7h-1.2M451.49 140v1.2M378.6 57.52h-1.2M455.37 140v1.2M378.6 54.56h-1.2M458.13 140v1.2M378.6 52.26h-1.2M460.27 140v1.2M378.6 50.38h-1.2M462.02 140v1.2M378.6 48.79h-1.2M463.5 140v1.2M378.6 47.42h-1.2M464.78 140v1.2M378.6 46.21h-1.2M465.91 140v1.2M378.6 45.12h-2.2M466.92 140v2.2M378.6 37.98h-1.2M473.57 140v1.2M378.6 33.8h-1.2M477.45 140v1.2M378.6 30.84h-1.2M480.21 140v1.2M378.6 28.54h-1.2M482.35 140v1.2M378.6 26.66h-1.2M484.1 140v1.2M378.6 25.07h-1.2M485.58 140v1.2M378.6 23.7h-1.2M486.86 140v1.2M378.6 22.49h-1.2M487.99 140v1.2" stroke="#555" stroke-width="0.6" fill="none"/>
<text x="382.2" y="28.7" font-size="8.2" text-anchor="start" fill="#222" font-family="Liberation Serif, serif" textLength="16" lengthAdjust="spacingAndGlyphs">1.92%</text>
<text x="487.5" y="28.7" font-size="8.2" text-anchor="end" fill="#222" font-family="Liberation Serif, serif" textLength="19.2" lengthAdjust="spacingAndGlyphs">14.16%</text>
<text x="382.2" y="137.7" font-size="8.2" text-anchor="start" fill="#222" font-family="Liberation Serif, serif" textLength="19.2" lengthAdjust="spacingAndGlyphs">79.40%</text>
<text x="487.5" y="137.7" font-size="8.2" text-anchor="end" fill="#222" font-family="Liberation Serif, serif" textLength="16" lengthAdjust="spacingAndGlyphs">4.52%</text>
<path d="M378.6 21.4V140H489" fill="none" stroke="#6a6a6a" stroke-width="1"/>
<text x="374.6" y="147.2" font-size="5.4" fill="#2a2a2a" font-family="Liberation Serif, serif">10<tspan font-size="3.6" dy="-2.4">0</tspan></text>
<text transform="translate(376.8,144) rotate(-90)" font-size="5.4" fill="#2a2a2a" font-family="Liberation Serif, serif">10<tspan font-size="3.6" dy="-2.4">0</tspan></text>
<text x="396.68" y="147.2" font-size="5.4" fill="#2a2a2a" font-family="Liberation Serif, serif">10<tspan font-size="3.6" dy="-2.4">1</tspan></text>
<text transform="translate(376.8,120.28) rotate(-90)" font-size="5.4" fill="#2a2a2a" font-family="Liberation Serif, serif">10<tspan font-size="3.6" dy="-2.4">1</tspan></text>
<text x="418.76" y="147.2" font-size="5.4" fill="#2a2a2a" font-family="Liberation Serif, serif">10<tspan font-size="3.6" dy="-2.4">2</tspan></text>
<text transform="translate(376.8,96.56) rotate(-90)" font-size="5.4" fill="#2a2a2a" font-family="Liberation Serif, serif">10<tspan font-size="3.6" dy="-2.4">2</tspan></text>
<text x="440.84" y="147.2" font-size="5.4" fill="#2a2a2a" font-family="Liberation Serif, serif">10<tspan font-size="3.6" dy="-2.4">3</tspan></text>
<text transform="translate(376.8,72.84) rotate(-90)" font-size="5.4" fill="#2a2a2a" font-family="Liberation Serif, serif">10<tspan font-size="3.6" dy="-2.4">3</tspan></text>
<text x="462.92" y="147.2" font-size="5.4" fill="#2a2a2a" font-family="Liberation Serif, serif">10<tspan font-size="3.6" dy="-2.4">4</tspan></text>
<text transform="translate(376.8,49.12) rotate(-90)" font-size="5.4" fill="#2a2a2a" font-family="Liberation Serif, serif">10<tspan font-size="3.6" dy="-2.4">4</tspan></text>
<text x="485" y="147.2" font-size="5.4" fill="#2a2a2a" font-family="Liberation Serif, serif">10<tspan font-size="3.6" dy="-2.4">5</tspan></text>
<text transform="translate(376.8,25.4) rotate(-90)" font-size="5.4" fill="#2a2a2a" font-family="Liberation Serif, serif">10<tspan font-size="3.6" dy="-2.4">5</tspan></text>
<text x="429.3" y="153" font-size="5.2" text-anchor="middle" fill="#2a2a2a" font-family="Liberation Serif, serif" xml:space="preserve">CD14  FITC</text>
<text transform="translate(368.9,80.5) rotate(-90)" font-size="5.8" text-anchor="middle" fill="#2a2a2a" font-family="Liberation Serif, serif" textLength="19.6" lengthAdjust="spacingAndGlyphs">CD16 PE</text>
<defs>
<filter id="bl1" x="-20%" y="-100%" width="140%" height="300%"><feGaussianBlur stdDeviation="0.9 0.7"/></filter>
<filter id="bl2" x="-20%" y="-100%" width="140%" height="300%"><feGaussianBlur stdDeviation="1.2 0.8"/></filter>
<pattern id="hatch" patternUnits="userSpaceOnUse" width="2.5" height="2.5" patternTransform="rotate(-45)"><rect width="2.5" height="2.5" fill="#f4f4ff"/><line x1="0" y1="0" x2="0" y2="2.5" stroke="#2c2cb4" stroke-width="0.95"/></pattern>
<pattern id="hatchd" patternUnits="userSpaceOnUse" width="2.5" height="2.5" patternTransform="rotate(-45)"><line x1="0" y1="0" x2="0" y2="2.5" stroke="#500050" stroke-width="0.85"/></pattern>
</defs>
<rect x="398.8" y="175.6" width="51.6" height="25.4" fill="#d9d9d9" stroke="#555" stroke-width="1"/>
<path d="M401 188.3C401 187.3 404 187.3 405 187.3Q409.75 186.6 414.5 186.7C417.5 186.7 418.5 187.23 418.5 188.3C418.5 189.37 417.5 189.9 414.5 189.9Q409.75 190 405 189.3C404 189.3 401 189.3 401 188.3Z" fill="#5a5a5a" filter="url(#bl1)"/>
<path d="M424.2 187.6C424.2 184.7 427.2 184.7 428.2 184.7Q436.6 184.9 445 185.7C448 185.7 449 186.33 449 187.6C449 188.87 448 189.5 445 189.5Q436.6 190.3 428.2 190.5C427.2 190.5 424.2 190.5 424.2 187.6Z" fill="#050505" filter="url(#bl1)"/>
<rect x="398.8" y="204.6" width="51.6" height="25.5" fill="#ededed" stroke="#9a9a9a" stroke-width="1"/>
<path d="M401 214C401 211.7 404 211.7 405 211.7Q412.25 211.4 419.5 211.7C422.5 211.7 423.5 212.47 423.5 214C423.5 215.53 422.5 216.3 419.5 216.3Q412.25 216.6 405 216.3C404 216.3 401 216.3 401 214Z" fill="#080808" filter="url(#bl1)"/>
<path d="M424.6 214C424.6 211.7 427.6 211.7 428.6 211.7Q436.4 211.4 444.2 211.7C447.2 211.7 448.2 212.47 448.2 214C448.2 215.53 447.2 216.3 444.2 216.3Q436.4 216.6 428.6 216.3C427.6 216.3 424.6 216.3 424.6 214Z" fill="#080808" filter="url(#bl1)"/>
<path d="M401.5 223.4C401.5 221.7 404.5 221.7 405.5 221.7Q412.25 221.4 419 221.7C422 221.7 423 222.27 423 223.4C423 224.53 422 225.1 419 225.1Q412.25 225.4 405.5 225.1C404.5 225.1 401.5 225.1 401.5 223.4Z" fill="#0a0a0a" filter="url(#bl1)"/>
<path d="M424.5 223.4C424.5 221.8 427.5 221.8 428.5 221.8Q435.25 221.5 442 222.2C445 222.2 446 222.6 446 223.4C446 224.2 445 224.6 442 224.6Q435.25 225.3 428.5 225C427.5 225 424.5 225 424.5 223.4Z" fill="#0a0a0a" filter="url(#bl1)"/>
<rect x="398.8" y="234.2" width="51.6" height="25.1" fill="#ebebeb" stroke="#8a8a8a" stroke-width="1"/>
<path d="M401.5 243.3C401.5 241.9 404.5 241.9 405.5 241.9Q411.25 241.6 417 241.9C420 241.9 421 242.37 421 243.3C421 244.23 420 244.7 417 244.7Q411.25 245 405.5 244.7C404.5 244.7 401.5 244.7 401.5 243.3Z" fill="#111" filter="url(#bl1)"/>
<path d="M424 243.2C424 240.5 427 240.5 428 240.5Q434.5 240.2 441 240.2C444 240.2 445 241.2 445 243.2C445 245.2 444 246.2 441 246.2Q434.5 246.2 428 245.9C427 245.9 424 245.9 424 243.2Z" fill="#050505" filter="url(#bl1)"/>
<path d="M402 252.3C402 250.9 405 250.9 406 250.9Q411.75 250.6 417.5 250.9C420.5 250.9 421.5 251.37 421.5 252.3C421.5 253.23 420.5 253.7 417.5 253.7Q411.75 254 406 253.7C405 253.7 402 253.7 402 252.3Z" fill="#111" filter="url(#bl1)"/>
<path d="M424 252.1C424 250.5 427 250.5 428 250.5Q434.25 250.2 440.5 250.5C443.5 250.5 444.5 251.03 444.5 252.1C444.5 253.17 443.5 253.7 440.5 253.7Q434.25 254 428 253.7C427 253.7 424 253.7 424 252.1Z" fill="#0a0a0a" filter="url(#bl1)"/>
<rect x="398.8" y="263.6" width="51.6" height="25.4" fill="#f0f0f0" stroke="#707070" stroke-width="1"/>
<path d="M399.8 275.1C399.8 272.6 402.8 272.6 403.8 272.6Q411.9 271.9 420 272.4C423 272.4 424 273.3 424 275.1C424 276.9 423 277.8 420 277.8Q411.9 278.3 403.8 277.6C402.8 277.6 399.8 277.6 399.8 275.1Z" fill="#050505" filter="url(#bl1)"/>
<path d="M423.5 275.2C423.5 272.5 426.5 272.5 427.5 272.5Q436.35 272 445.2 272.9C448.2 272.9 449.2 273.67 449.2 275.2C449.2 276.73 448.2 277.5 445.2 277.5Q436.35 278.4 427.5 277.9C426.5 277.9 423.5 277.9 423.5 275.2Z" fill="#050505" filter="url(#bl1)"/>
<text x="395.6" y="193.3" font-size="7.9" text-anchor="end" fill="#151515" font-family="Liberation Sans, sans-serif" >Plac8</text>
<text x="395.6" y="222.2" font-size="7.9" text-anchor="end" fill="#151515" font-family="Liberation Sans, sans-serif" >ERK1/2</text>
<text x="395.6" y="249.6" font-size="7.9" text-anchor="end" fill="#151515" font-family="Liberation Sans, sans-serif" >p-ERK1/2</text>
<text x="395.6" y="280" font-size="7.9" text-anchor="end" fill="#151515" font-family="Liberation Sans, sans-serif" >GAPDH</text>
<text x="452.6" y="192.8" font-size="7.9" text-anchor="start" fill="#151515" font-family="Liberation Sans, sans-serif" >12KDa</text>
<text x="452.6" y="216.8" font-size="7.9" text-anchor="start" fill="#151515" font-family="Liberation Sans, sans-serif" >44KDa</text>
<text x="452.6" y="226.6" font-size="7.9" text-anchor="start" fill="#151515" font-family="Liberation Sans, sans-serif" >42KDa</text>
<text x="452.6" y="245.8" font-size="7.9" text-anchor="start" fill="#151515" font-family="Liberation Sans, sans-serif" >44KDa</text>
<text x="452.6" y="255.4" font-size="7.9" text-anchor="start" fill="#151515" font-family="Liberation Sans, sans-serif" >42KDa</text>
<text x="452.6" y="279.4" font-size="7.9" text-anchor="start" fill="#151515" font-family="Liberation Sans, sans-serif" >36KDa</text>
<text transform="translate(416,298.3) rotate(-40)" font-size="8" text-anchor="end" fill="#151515" font-family="Liberation Sans, sans-serif">Normal</text>
<text transform="translate(439.8,297.9) rotate(-40)" font-size="8" text-anchor="end" fill="#151515" font-family="Liberation Sans, sans-serif">Septicemia</text>
<line x1="60.2" y1="341" x2="60.2" y2="485.6" stroke="#111" stroke-width="1.1"/>
<path d="M60.2 485.6h-5.6M60.2 480.76h-2.8M60.2 475.92h-2.8M60.2 471.08h-2.8M60.2 466.24h-2.8M60.2 461.4h-5.6M60.2 456.56h-2.8M60.2 451.72h-2.8M60.2 446.88h-2.8M60.2 442.04h-2.8M60.2 437.2h-5.6M60.2 432.36h-2.8M60.2 427.52h-2.8M60.2 422.68h-2.8M60.2 417.84h-2.8M60.2 413h-5.6M60.2 408.16h-2.8M60.2 403.32h-2.8M60.2 398.48h-2.8M60.2 393.64h-2.8M60.2 388.8h-5.6M60.2 383.96h-2.8M60.2 379.12h-2.8M60.2 374.28h-2.8M60.2 369.44h-2.8M60.2 364.6h-5.6M60.2 359.76h-2.8M60.2 354.92h-2.8M60.2 350.08h-2.8M60.2 345.24h-2.8M60.2 340.4h-5.6M60.2 485.6v3.4M66.15 485.6v2.2M72.1 485.6v2.2M78.05 485.6v2.2M84 485.6v3.4M89.95 485.6v2.2M95.9 485.6v2.2M101.85 485.6v2.2M107.8 485.6v3.4M113.75 485.6v2.2M119.7 485.6v2.2M125.65 485.6v2.2M131.6 485.6v3.4M137.55 485.6v2.2M143.5 485.6v2.2M149.45 485.6v2.2M155.4 485.6v3.4M161.35 485.6v2.2M167.3 485.6v2.2M173.25 485.6v2.2M179.2 485.6v3.4M185.15 485.6v2.2M191.1 485.6v2.2M197.05 485.6v2.2M203 485.6v3.4" stroke="#222" stroke-width="0.8" fill="none"/>
<line x1="60.2" y1="485.6" x2="203" y2="485.6" stroke="#111" stroke-width="1.1"/>
<text transform="translate(52.2,485.6) rotate(-90)" font-size="5.3" text-anchor="middle" fill="#555" font-family="Liberation Serif, serif">0</text>
<text transform="translate(52.2,461.4) rotate(-90)" font-size="5.3" text-anchor="middle" fill="#555" font-family="Liberation Serif, serif">50</text>
<text transform="translate(52.2,437.2) rotate(-90)" font-size="5.3" text-anchor="middle" fill="#555" font-family="Liberation Serif, serif">100</text>
<text transform="translate(52.2,413) rotate(-90)" font-size="5.3" text-anchor="middle" fill="#555" font-family="Liberation Serif, serif">150</text>
<text transform="translate(52.2,388.8) rotate(-90)" font-size="5.3" text-anchor="middle" fill="#555" font-family="Liberation Serif, serif">200</text>
<text transform="translate(52.2,364.6) rotate(-90)" font-size="5.3" text-anchor="middle" fill="#555" font-family="Liberation Serif, serif">250</text>
<text transform="translate(52.2,340.4) rotate(-90)" font-size="5.3" text-anchor="middle" fill="#555" font-family="Liberation Serif, serif">300</text>
<text x="60.2" y="498.2" font-size="5.6" text-anchor="middle" fill="#555" font-family="Liberation Serif, serif" >0</text>
<text x="84" y="498.2" font-size="5.6" text-anchor="middle" fill="#555" font-family="Liberation Serif, serif" >20</text>
<text x="107.8" y="498.2" font-size="5.6" text-anchor="middle" fill="#555" font-family="Liberation Serif, serif" >40</text>
<text x="131.6" y="498.2" font-size="5.6" text-anchor="middle" fill="#555" font-family="Liberation Serif, serif" >60</text>
<text x="155.4" y="498.2" font-size="5.6" text-anchor="middle" fill="#555" font-family="Liberation Serif, serif" >80</text>
<text x="179.2" y="498.2" font-size="5.6" text-anchor="middle" fill="#555" font-family="Liberation Serif, serif" >100</text>
<text x="203" y="498.2" font-size="5.6" text-anchor="middle" fill="#555" font-family="Liberation Serif, serif" >120</text>
<path d="M95.9 485.6L95.9 485.6L96.2 485.6L96.5 485.6L96.79 485.6L97.09 485.6L97.39 485.6L97.69 485.6L97.98 485.6L98.28 485.6L98.58 485.6L98.88 485.6L99.17 485.6L99.47 485.6L99.77 485.6L100.06 485.6L100.36 485.6L100.66 485.6L100.96 485.6L101.25 485.6L101.55 485.6L101.85 485.6L102.15 485.6L102.44 485.6L102.74 485.6L103.04 485.6L103.34 485.6L103.63 485.6L103.93 485.6L104.23 485.6L104.53 485.6L104.83 485.6L105.12 485.6L105.42 485.6L105.72 485.6L106.02 485.6L106.31 485.6L106.61 485.6L106.91 485.6L107.2 485.6L107.5 485.6L107.8 485.6L108.1 485.6L108.4 485.6L108.69 485.6L108.99 485.6L109.29 485.6L109.59 485.6L109.88 485.6L110.18 485.6L110.48 485.28L110.78 484.95L111.07 484.63L111.37 484.31L111.67 483.99L111.97 483.66L112.26 483.34L112.56 483.02L112.86 482.7L113.16 482.37L113.45 482.05L113.75 481.73L114.05 480.84L114.34 479.95L114.64 479.07L114.94 478.18L115.24 477.29L115.53 476.4L115.83 475.52L116.13 474.63L116.43 473.74L116.72 472.85L117.02 471.97L117.32 471.08L117.62 469.95L117.91 468.82L118.21 467.69L118.51 466.56L118.81 465.43L119.1 464.3L119.4 463.17L119.7 462.05L120 460.92L120.3 459.79L120.59 458.66L120.89 457.53L121.19 456.66L121.48 455.79L121.78 454.91L122.08 454.04L122.38 453.17L122.67 452.3L122.97 451.43L123.27 450.56L123.57 449.69L123.87 448.82L124.16 448.78L124.46 448.74L124.76 448.7L125.06 448.65L125.35 448.61L125.65 448.57L125.95 448.69L126.25 448.8L126.54 448.92L126.84 449.03L127.14 449.15L127.44 449.26L127.73 449.38L128.03 449.49L128.33 449.6L128.62 449.72L128.92 449.83L129.22 449.95L129.52 450.06L129.81 450.18L130.11 450.32L130.41 450.57L130.71 450.82L131 451.07L131.3 451.32L131.6 451.57L131.9 451.82L132.19 452.07L132.49 452.32L132.79 452.57L133.09 452.81L133.38 453.06L133.68 453.31L133.98 453.56L134.28 453.81L134.57 454.06L134.87 454.31L135.17 454.56L135.47 454.81L135.76 455.06L136.06 455.31L136.36 455.56L136.66 455.81L136.95 456.06L137.25 456.31L137.55 456.56L137.85 456.8L138.14 457.04L138.44 457.29L138.74 457.53L139.04 457.77L139.33 458.01L139.63 458.25L139.93 458.5L140.23 458.74L140.53 458.98L140.82 459.22L141.12 459.46L141.42 459.71L141.72 459.95L142.01 460.19L142.31 460.43L142.61 460.67L142.91 460.92L143.2 461.16L143.5 461.4L143.8 461.64L144.09 461.88L144.39 462.13L144.69 462.37L144.99 462.61L145.28 462.85L145.58 463.09L145.88 463.34L146.18 463.58L146.47 463.82L146.77 464.06L147.07 464.3L147.37 464.55L147.66 464.79L147.96 465.03L148.26 465.27L148.56 465.51L148.86 465.76L149.15 466L149.45 466.24L149.75 466.49L150.05 466.74L150.34 467L150.64 467.25L150.94 467.5L151.24 467.75L151.53 468L151.83 468.25L152.13 468.51L152.43 468.76L152.72 469.01L153.02 469.26L153.32 469.51L153.62 469.77L153.91 470.02L154.21 470.27L154.51 470.52L154.81 470.77L155.1 471.02L155.4 471.28L155.7 471.53L156 471.78L156.29 472.03L156.59 472.28L156.89 472.54L157.19 472.79L157.48 473.04L157.78 473.29L158.08 473.54L158.38 473.81L158.67 474.1L158.97 474.39L159.27 474.68L159.56 474.97L159.86 475.25L160.16 475.54L160.46 475.83L160.75 476.12L161.05 476.41L161.35 476.7L161.65 476.99L161.94 477.28L162.24 477.57L162.54 477.86L162.84 478.1L163.13 478.34L163.43 478.58L163.73 478.82L164.03 479.07L164.32 479.31L164.62 479.55L164.92 479.79L165.22 480.03L165.51 480.28L165.81 480.52L166.11 480.76L166.41 481L166.7 481.24L167 481.49L167.3 481.73L167.6 481.97L167.89 482.21L168.19 482.45L168.49 482.7L168.79 482.94L169.08 483.18L169.38 483.42L169.68 483.66L169.98 483.83L170.27 483.99L170.57 484.15L170.87 484.31L171.17 484.47L171.47 484.63L171.76 484.79L172.06 484.95L172.36 485.12L172.66 485.28L172.95 485.44L173.25 485.6L173.55 485.6L173.84 485.6L174.14 485.6L174.44 485.6L174.74 485.6L175.03 485.6L175.33 485.6L175.63 485.6L175.93 485.6L176.22 485.6L176.52 485.6L176.82 485.6L177.12 485.6L177.41 485.6L177.71 485.6L178.01 485.6L178.31 485.6L178.61 485.6L178.9 485.6L179.2 485.6L179.2 485.6Z" fill="url(#hatch)"/>
<path d="M95.9 485.6L95.9 485.6L96.2 485.6L96.5 485.6L96.79 485.6L97.09 485.6L97.39 485.6L97.69 485.6L97.98 485.6L98.28 485.6L98.58 485.6L98.88 485.6L99.17 485.6L99.47 485.6L99.77 485.6L100.06 485.6L100.36 485.6L100.66 485.6L100.96 485.6L101.25 485.6L101.55 485.6L101.85 485.6L102.15 485.6L102.44 485.6L102.74 485.59L103.04 485.59L103.34 485.59L103.63 485.58L103.93 485.57L104.23 485.56L104.53 485.54L104.83 485.52L105.12 485.49L105.42 485.46L105.72 485.41L106.02 485.34L106.31 485.26L106.61 485.14L106.91 485L107.2 484.82L107.5 484.59L107.8 484.31L108.1 483.95L108.4 483.51L108.69 482.97L108.99 482.31L109.29 481.51L109.59 480.56L109.88 479.44L110.18 478.11L110.48 476.56L110.78 474.76L111.07 472.7L111.37 470.34L111.67 467.69L111.97 464.72L112.26 461.42L112.56 457.8L112.86 453.86L113.16 449.61L113.45 445.07L113.75 440.28L114.05 435.27L114.34 430.09L114.64 424.8L114.94 419.47L115.24 414.17L115.53 408.98L115.83 403.98L116.13 399.26L116.43 394.9L116.72 390.97L117.02 387.56L117.32 384.73L117.62 382.54L117.91 381.02L118.21 380.22L118.51 380.15L118.81 380.8L119.1 382.18L119.4 384.24L119.7 386.95L120 390.25L120.3 394.08L120.59 398.36L120.89 403.02L121.19 407.96L121.48 413.12L121.78 418.41L122.08 423.74L122.38 429.04L122.67 434.24L122.97 439.29L123.27 444.13L123.57 448.72L123.87 453.03L124.16 457.04L124.46 460.73L124.76 464.09L125.06 467.12L125.35 469.84L125.65 472.25L125.95 474.37L126.25 476.22L126.54 477.82L126.84 479.19L127.14 480.35L127.44 481.34L127.73 482.16L128.03 482.84L128.33 483.41L128.62 483.87L128.92 484.24L129.22 484.54L129.52 484.78L129.81 484.97L130.11 485.12L130.41 485.24L130.71 485.33L131 485.39L131.3 485.45L131.6 485.49L131.9 485.52L132.19 485.54L132.49 485.56L132.79 485.57L133.09 485.58L133.38 485.58L133.68 485.59L133.98 485.59L134.28 485.59L134.57 485.6L134.87 485.6L135.17 485.6L135.47 485.6L135.76 485.6L136.06 485.6L136.36 485.6L136.66 485.6L136.95 485.6L137.25 485.6L137.55 485.6L137.85 485.6L138.14 485.6L138.44 485.6L138.74 485.6L139.04 485.6L139.33 485.6L139.63 485.6L139.93 485.6L140.23 485.6L140.53 485.6L140.82 485.6L141.12 485.6L141.42 485.6L141.72 485.6L142.01 485.6L142.31 485.6L142.61 485.6L142.91 485.6L143.2 485.6L143.5 485.6L143.8 485.6L144.09 485.6L144.39 485.6L144.69 485.6L144.99 485.6L145.28 485.6L145.58 485.6L145.88 485.6L146.18 485.6L146.47 485.6L146.77 485.6L147.07 485.6L147.37 485.6L147.66 485.6L147.96 485.6L148.26 485.6L148.56 485.6L148.86 485.6L149.15 485.6L149.45 485.6L149.75 485.6L150.05 485.6L150.34 485.6L150.64 485.6L150.94 485.6L151.24 485.6L151.53 485.6L151.83 485.6L152.13 485.6L152.43 485.6L152.72 485.6L153.02 485.6L153.32 485.6L153.62 485.6L153.91 485.6L154.21 485.6L154.51 485.6L154.81 485.6L155.1 485.6L155.4 485.6L155.7 485.6L156 485.6L156.29 485.6L156.59 485.6L156.89 485.6L157.19 485.6L157.48 485.6L157.78 485.6L158.08 485.6L158.38 485.6L158.67 485.6L158.97 485.6L159.27 485.6L159.56 485.6L159.86 485.6L160.16 485.6L160.46 485.6L160.75 485.6L161.05 485.6L161.35 485.6L161.65 485.6L161.94 485.6L162.24 485.6L162.54 485.6L162.84 485.6L163.13 485.6L163.43 485.6L163.73 485.6L164.03 485.6L164.32 485.6L164.62 485.6L164.92 485.6L165.22 485.6L165.51 485.6L165.81 485.6L166.11 485.6L166.41 485.6L166.7 485.6L167 485.6L167.3 485.6L167.6 485.6L167.89 485.6L168.19 485.6L168.49 485.6L168.79 485.6L169.08 485.6L169.38 485.6L169.68 485.6L169.98 485.6L170.27 485.6L170.57 485.6L170.87 485.6L171.17 485.6L171.47 485.6L171.76 485.6L172.06 485.6L172.36 485.6L172.66 485.6L172.95 485.6L173.25 485.6L173.55 485.6L173.84 485.6L174.14 485.6L174.44 485.6L174.74 485.6L175.03 485.6L175.33 485.6L175.63 485.6L175.93 485.6L176.22 485.6L176.52 485.6L176.82 485.6L177.12 485.6L177.41 485.6L177.71 485.6L178.01 485.6L178.31 485.6L178.61 485.6L178.9 485.6L179.2 485.6L179.2 485.6Z" fill="#f00" stroke="#111" stroke-width="0.5"/>
<path d="M95.9 485.6L95.9 485.6L96.2 485.6L96.5 485.6L96.79 485.6L97.09 485.6L97.39 485.6L97.69 485.6L97.98 485.6L98.28 485.6L98.58 485.6L98.88 485.6L99.17 485.6L99.47 485.6L99.77 485.6L100.06 485.6L100.36 485.6L100.66 485.6L100.96 485.6L101.25 485.6L101.55 485.6L101.85 485.6L102.15 485.6L102.44 485.6L102.74 485.6L103.04 485.6L103.34 485.6L103.63 485.6L103.93 485.6L104.23 485.6L104.53 485.6L104.83 485.6L105.12 485.6L105.42 485.6L105.72 485.6L106.02 485.6L106.31 485.6L106.61 485.6L106.91 485.6L107.2 485.6L107.5 485.6L107.8 485.6L108.1 485.6L108.4 485.6L108.69 485.6L108.99 485.6L109.29 485.6L109.59 485.6L109.88 485.6L110.18 485.6L110.48 485.6L110.78 485.6L111.07 485.6L111.37 485.6L111.67 485.6L111.97 485.6L112.26 485.6L112.56 485.6L112.86 485.6L113.16 485.6L113.45 485.6L113.75 485.6L114.05 485.6L114.34 485.6L114.64 485.6L114.94 485.6L115.24 485.6L115.53 485.6L115.83 485.6L116.13 485.6L116.43 485.6L116.72 485.6L117.02 485.6L117.32 485.6L117.62 485.6L117.91 485.6L118.21 485.6L118.51 485.6L118.81 485.6L119.1 485.6L119.4 485.6L119.7 485.6L120 485.6L120.3 485.6L120.59 485.6L120.89 485.6L121.19 485.6L121.48 485.6L121.78 485.6L122.08 485.6L122.38 485.6L122.67 485.6L122.97 485.6L123.27 485.6L123.57 485.6L123.87 485.6L124.16 485.6L124.46 485.6L124.76 485.6L125.06 485.6L125.35 485.6L125.65 485.6L125.95 485.6L126.25 485.6L126.54 485.6L126.84 485.6L127.14 485.6L127.44 485.6L127.73 485.6L128.03 485.6L128.33 485.6L128.62 485.6L128.92 485.6L129.22 485.6L129.52 485.6L129.81 485.6L130.11 485.6L130.41 485.6L130.71 485.6L131 485.6L131.3 485.6L131.6 485.6L131.9 485.6L132.19 485.6L132.49 485.6L132.79 485.6L133.09 485.6L133.38 485.6L133.68 485.6L133.98 485.6L134.28 485.6L134.57 485.6L134.87 485.6L135.17 485.6L135.47 485.6L135.76 485.6L136.06 485.6L136.36 485.6L136.66 485.6L136.95 485.6L137.25 485.6L137.55 485.6L137.85 485.6L138.14 485.6L138.44 485.6L138.74 485.6L139.04 485.59L139.33 485.59L139.63 485.59L139.93 485.59L140.23 485.59L140.53 485.58L140.82 485.58L141.12 485.58L141.42 485.57L141.72 485.57L142.01 485.56L142.31 485.55L142.61 485.55L142.91 485.53L143.2 485.52L143.5 485.51L143.8 485.49L144.09 485.47L144.39 485.45L144.69 485.43L144.99 485.4L145.28 485.36L145.58 485.33L145.88 485.28L146.18 485.24L146.47 485.18L146.77 485.12L147.07 485.05L147.37 484.97L147.66 484.89L147.96 484.79L148.26 484.69L148.56 484.57L148.86 484.44L149.15 484.3L149.45 484.14L149.75 483.98L150.05 483.79L150.34 483.59L150.64 483.38L150.94 483.15L151.24 482.91L151.53 482.64L151.83 482.37L152.13 482.07L152.43 481.76L152.72 481.43L153.02 481.09L153.32 480.73L153.62 480.36L153.91 479.98L154.21 479.58L154.51 479.18L154.81 478.77L155.1 478.35L155.4 477.92L155.7 477.5L156 477.07L156.29 476.65L156.59 476.23L156.89 475.82L157.19 475.42L157.48 475.03L157.78 474.66L158.08 474.3L158.38 473.97L158.67 473.66L158.97 473.37L159.27 473.12L159.56 472.89L159.86 472.7L160.16 472.53L160.46 472.41L160.75 472.32L161.05 472.26L161.35 472.24L161.65 472.26L161.94 472.32L162.24 472.41L162.54 472.53L162.84 472.7L163.13 472.89L163.43 473.12L163.73 473.37L164.03 473.66L164.32 473.97L164.62 474.3L164.92 474.66L165.22 475.03L165.51 475.42L165.81 475.82L166.11 476.23L166.41 476.65L166.7 477.07L167 477.5L167.3 477.92L167.6 478.35L167.89 478.77L168.19 479.18L168.49 479.58L168.79 479.98L169.08 480.36L169.38 480.73L169.68 481.09L169.98 481.43L170.27 481.76L170.57 482.07L170.87 482.37L171.17 482.64L171.47 482.91L171.76 483.15L172.06 483.38L172.36 483.59L172.66 483.79L172.95 483.98L173.25 484.14L173.55 484.3L173.84 484.44L174.14 484.57L174.44 484.69L174.74 484.79L175.03 484.89L175.33 484.97L175.63 485.05L175.93 485.12L176.22 485.18L176.52 485.24L176.82 485.28L177.12 485.33L177.41 485.36L177.71 485.4L178.01 485.43L178.31 485.45L178.61 485.47L178.9 485.49L179.2 485.51L179.2 485.6Z" fill="#f00" stroke="#111" stroke-width="0.5"/>
<path d="M95.9 485.6L95.9 485.6L96.2 485.6L96.5 485.6L96.79 485.6L97.09 485.6L97.39 485.6L97.69 485.6L97.98 485.6L98.28 485.6L98.58 485.6L98.88 485.6L99.17 485.6L99.47 485.6L99.77 485.6L100.06 485.6L100.36 485.6L100.66 485.6L100.96 485.6L101.25 485.6L101.55 485.6L101.85 485.6L102.15 485.6L102.44 485.6L102.74 485.6L103.04 485.6L103.34 485.6L103.63 485.6L103.93 485.6L104.23 485.6L104.53 485.6L104.83 485.6L105.12 485.6L105.42 485.6L105.72 485.6L106.02 485.6L106.31 485.6L106.61 485.6L106.91 485.6L107.2 485.6L107.5 485.6L107.8 485.6L108.1 485.6L108.4 485.6L108.69 485.6L108.99 485.6L109.29 485.6L109.59 485.6L109.88 485.6L110.18 485.6L110.48 485.28L110.78 484.95L111.07 484.63L111.37 484.31L111.67 483.99L111.97 483.66L112.26 483.34L112.56 483.02L112.86 482.7L113.16 482.37L113.45 482.05L113.75 481.73L114.05 480.84L114.34 479.95L114.64 479.07L114.94 478.18L115.24 477.29L115.53 476.4L115.83 475.52L116.13 474.63L116.43 473.74L116.72 472.85L117.02 471.97L117.32 471.08L117.62 469.95L117.91 468.82L118.21 467.69L118.51 466.56L118.81 465.43L119.1 464.3L119.4 463.17L119.7 462.05L120 460.92L120.3 459.79L120.59 458.66L120.89 457.53L121.19 456.66L121.48 455.79L121.78 454.91L122.08 454.04L122.38 453.17L122.67 452.3L122.97 451.43L123.27 450.56L123.57 449.69L123.87 453.03L124.16 457.04L124.46 460.73L124.76 464.09L125.06 467.12L125.35 469.84L125.65 472.25L125.95 474.37L126.25 476.22L126.54 477.82L126.84 479.19L127.14 480.35L127.44 481.34L127.73 482.16L128.03 482.84L128.33 483.41L128.62 483.87L128.92 484.24L129.22 484.54L129.52 484.78L129.81 484.97L130.11 485.12L130.41 485.24L130.71 485.33L131 485.39L131.3 485.45L131.6 485.49L131.9 485.52L132.19 485.54L132.49 485.56L132.79 485.57L133.09 485.58L133.38 485.58L133.68 485.59L133.98 485.59L134.28 485.59L134.57 485.6L134.87 485.6L135.17 485.6L135.47 485.6L135.76 485.6L136.06 485.6L136.36 485.6L136.66 485.6L136.95 485.6L137.25 485.6L137.55 485.6L137.85 485.6L138.14 485.6L138.44 485.6L138.74 485.6L139.04 485.6L139.33 485.6L139.63 485.6L139.93 485.6L140.23 485.6L140.53 485.6L140.82 485.6L141.12 485.6L141.42 485.6L141.72 485.6L142.01 485.6L142.31 485.6L142.61 485.6L142.91 485.6L143.2 485.6L143.5 485.6L143.8 485.6L144.09 485.6L144.39 485.6L144.69 485.6L144.99 485.6L145.28 485.6L145.58 485.6L145.88 485.6L146.18 485.6L146.47 485.6L146.77 485.6L147.07 485.6L147.37 485.6L147.66 485.6L147.96 485.6L148.26 485.6L148.56 485.6L148.86 485.6L149.15 485.6L149.45 485.6L149.75 485.6L150.05 485.6L150.34 485.6L150.64 485.6L150.94 485.6L151.24 485.6L151.53 485.6L151.83 485.6L152.13 485.6L152.43 485.6L152.72 485.6L153.02 485.6L153.32 485.6L153.62 485.6L153.91 485.6L154.21 485.6L154.51 485.6L154.81 485.6L155.1 485.6L155.4 485.6L155.7 485.6L156 485.6L156.29 485.6L156.59 485.6L156.89 485.6L157.19 485.6L157.48 485.6L157.78 485.6L158.08 485.6L158.38 485.6L158.67 485.6L158.97 485.6L159.27 485.6L159.56 485.6L159.86 485.6L160.16 485.6L160.46 485.6L160.75 485.6L161.05 485.6L161.35 485.6L161.65 485.6L161.94 485.6L162.24 485.6L162.54 485.6L162.84 485.6L163.13 485.6L163.43 485.6L163.73 485.6L164.03 485.6L164.32 485.6L164.62 485.6L164.92 485.6L165.22 485.6L165.51 485.6L165.81 485.6L166.11 485.6L166.41 485.6L166.7 485.6L167 485.6L167.3 485.6L167.6 485.6L167.89 485.6L168.19 485.6L168.49 485.6L168.79 485.6L169.08 485.6L169.38 485.6L169.68 485.6L169.98 485.6L170.27 485.6L170.57 485.6L170.87 485.6L171.17 485.6L171.47 485.6L171.76 485.6L172.06 485.6L172.36 485.6L172.66 485.6L172.95 485.6L173.25 485.6L173.55 485.6L173.84 485.6L174.14 485.6L174.44 485.6L174.74 485.6L175.03 485.6L175.33 485.6L175.63 485.6L175.93 485.6L176.22 485.6L176.52 485.6L176.82 485.6L177.12 485.6L177.41 485.6L177.71 485.6L178.01 485.6L178.31 485.6L178.61 485.6L178.9 485.6L179.2 485.6L179.2 485.6Z" fill="#800020" fill-opacity="0.1"/>
<path d="M95.9 485.6L95.9 485.6L96.2 485.6L96.5 485.6L96.79 485.6L97.09 485.6L97.39 485.6L97.69 485.6L97.98 485.6L98.28 485.6L98.58 485.6L98.88 485.6L99.17 485.6L99.47 485.6L99.77 485.6L100.06 485.6L100.36 485.6L100.66 485.6L100.96 485.6L101.25 485.6L101.55 485.6L101.85 485.6L102.15 485.6L102.44 485.6L102.74 485.6L103.04 485.6L103.34 485.6L103.63 485.6L103.93 485.6L104.23 485.6L104.53 485.6L104.83 485.6L105.12 485.6L105.42 485.6L105.72 485.6L106.02 485.6L106.31 485.6L106.61 485.6L106.91 485.6L107.2 485.6L107.5 485.6L107.8 485.6L108.1 485.6L108.4 485.6L108.69 485.6L108.99 485.6L109.29 485.6L109.59 485.6L109.88 485.6L110.18 485.6L110.48 485.6L110.78 485.6L111.07 485.6L111.37 485.6L111.67 485.6L111.97 485.6L112.26 485.6L112.56 485.6L112.86 485.6L113.16 485.6L113.45 485.6L113.75 485.6L114.05 485.6L114.34 485.6L114.64 485.6L114.94 485.6L115.24 485.6L115.53 485.6L115.83 485.6L116.13 485.6L116.43 485.6L116.72 485.6L117.02 485.6L117.32 485.6L117.62 485.6L117.91 485.6L118.21 485.6L118.51 485.6L118.81 485.6L119.1 485.6L119.4 485.6L119.7 485.6L120 485.6L120.3 485.6L120.59 485.6L120.89 485.6L121.19 485.6L121.48 485.6L121.78 485.6L122.08 485.6L122.38 485.6L122.67 485.6L122.97 485.6L123.27 485.6L123.57 485.6L123.87 485.6L124.16 485.6L124.46 485.6L124.76 485.6L125.06 485.6L125.35 485.6L125.65 485.6L125.95 485.6L126.25 485.6L126.54 485.6L126.84 485.6L127.14 485.6L127.44 485.6L127.73 485.6L128.03 485.6L128.33 485.6L128.62 485.6L128.92 485.6L129.22 485.6L129.52 485.6L129.81 485.6L130.11 485.6L130.41 485.6L130.71 485.6L131 485.6L131.3 485.6L131.6 485.6L131.9 485.6L132.19 485.6L132.49 485.6L132.79 485.6L133.09 485.6L133.38 485.6L133.68 485.6L133.98 485.6L134.28 485.6L134.57 485.6L134.87 485.6L135.17 485.6L135.47 485.6L135.76 485.6L136.06 485.6L136.36 485.6L136.66 485.6L136.95 485.6L137.25 485.6L137.55 485.6L137.85 485.6L138.14 485.6L138.44 485.6L138.74 485.6L139.04 485.59L139.33 485.59L139.63 485.59L139.93 485.59L140.23 485.59L140.53 485.58L140.82 485.58L141.12 485.58L141.42 485.57L141.72 485.57L142.01 485.56L142.31 485.55L142.61 485.55L142.91 485.53L143.2 485.52L143.5 485.51L143.8 485.49L144.09 485.47L144.39 485.45L144.69 485.43L144.99 485.4L145.28 485.36L145.58 485.33L145.88 485.28L146.18 485.24L146.47 485.18L146.77 485.12L147.07 485.05L147.37 484.97L147.66 484.89L147.96 484.79L148.26 484.69L148.56 484.57L148.86 484.44L149.15 484.3L149.45 484.14L149.75 483.98L150.05 483.79L150.34 483.59L150.64 483.38L150.94 483.15L151.24 482.91L151.53 482.64L151.83 482.37L152.13 482.07L152.43 481.76L152.72 481.43L153.02 481.09L153.32 480.73L153.62 480.36L153.91 479.98L154.21 479.58L154.51 479.18L154.81 478.77L155.1 478.35L155.4 477.92L155.7 477.5L156 477.07L156.29 476.65L156.59 476.23L156.89 475.82L157.19 475.42L157.48 475.03L157.78 474.66L158.08 474.3L158.38 473.97L158.67 474.1L158.97 474.39L159.27 474.68L159.56 474.97L159.86 475.25L160.16 475.54L160.46 475.83L160.75 476.12L161.05 476.41L161.35 476.7L161.65 476.99L161.94 477.28L162.24 477.57L162.54 477.86L162.84 478.1L163.13 478.34L163.43 478.58L163.73 478.82L164.03 479.07L164.32 479.31L164.62 479.55L164.92 479.79L165.22 480.03L165.51 480.28L165.81 480.52L166.11 480.76L166.41 481L166.7 481.24L167 481.49L167.3 481.73L167.6 481.97L167.89 482.21L168.19 482.45L168.49 482.7L168.79 482.94L169.08 483.18L169.38 483.42L169.68 483.66L169.98 483.83L170.27 483.99L170.57 484.15L170.87 484.31L171.17 484.47L171.47 484.63L171.76 484.79L172.06 484.95L172.36 485.12L172.66 485.28L172.95 485.44L173.25 485.6L173.55 485.6L173.84 485.6L174.14 485.6L174.44 485.6L174.74 485.6L175.03 485.6L175.33 485.6L175.63 485.6L175.93 485.6L176.22 485.6L176.52 485.6L176.82 485.6L177.12 485.6L177.41 485.6L177.71 485.6L178.01 485.6L178.31 485.6L178.61 485.6L178.9 485.6L179.2 485.6L179.2 485.6Z" fill="#800020" fill-opacity="0.1"/>
<path d="M95.9 485.6L95.9 485.6L96.2 485.6L96.5 485.6L96.79 485.6L97.09 485.6L97.39 485.6L97.69 485.6L97.98 485.6L98.28 485.6L98.58 485.6L98.88 485.6L99.17 485.6L99.47 485.6L99.77 485.6L100.06 485.6L100.36 485.6L100.66 485.6L100.96 485.6L101.25 485.6L101.55 485.6L101.85 485.6L102.15 485.6L102.44 485.6L102.74 485.6L103.04 485.6L103.34 485.6L103.63 485.6L103.93 485.6L104.23 485.6L104.53 485.6L104.83 485.6L105.12 485.6L105.42 485.6L105.72 485.6L106.02 485.6L106.31 485.6L106.61 485.6L106.91 485.6L107.2 485.6L107.5 485.6L107.8 485.6L108.1 485.6L108.4 485.6L108.69 485.6L108.99 485.6L109.29 485.6L109.59 485.6L109.88 485.6L110.18 485.6L110.48 485.28L110.78 484.95L111.07 484.63L111.37 484.31L111.67 483.99L111.97 483.66L112.26 483.34L112.56 483.02L112.86 482.7L113.16 482.37L113.45 482.05L113.75 481.73L114.05 480.84L114.34 479.95L114.64 479.07L114.94 478.18L115.24 477.29L115.53 476.4L115.83 475.52L116.13 474.63L116.43 473.74L116.72 472.85L117.02 471.97L117.32 471.08L117.62 469.95L117.91 468.82L118.21 467.69L118.51 466.56L118.81 465.43L119.1 464.3L119.4 463.17L119.7 462.05L120 460.92L120.3 459.79L120.59 458.66L120.89 457.53L121.19 456.66L121.48 455.79L121.78 454.91L122.08 454.04L122.38 453.17L122.67 452.3L122.97 451.43L123.27 450.56L123.57 449.69L123.87 453.03L124.16 457.04L124.46 460.73L124.76 464.09L125.06 467.12L125.35 469.84L125.65 472.25L125.95 474.37L126.25 476.22L126.54 477.82L126.84 479.19L127.14 480.35L127.44 481.34L127.73 482.16L128.03 482.84L128.33 483.41L128.62 483.87L128.92 484.24L129.22 484.54L129.52 484.78L129.81 484.97L130.11 485.12L130.41 485.24L130.71 485.33L131 485.39L131.3 485.45L131.6 485.49L131.9 485.52L132.19 485.54L132.49 485.56L132.79 485.57L133.09 485.58L133.38 485.58L133.68 485.59L133.98 485.59L134.28 485.59L134.57 485.6L134.87 485.6L135.17 485.6L135.47 485.6L135.76 485.6L136.06 485.6L136.36 485.6L136.66 485.6L136.95 485.6L137.25 485.6L137.55 485.6L137.85 485.6L138.14 485.6L138.44 485.6L138.74 485.6L139.04 485.6L139.33 485.6L139.63 485.6L139.93 485.6L140.23 485.6L140.53 485.6L140.82 485.6L141.12 485.6L141.42 485.6L141.72 485.6L142.01 485.6L142.31 485.6L142.61 485.6L142.91 485.6L143.2 485.6L143.5 485.6L143.8 485.6L144.09 485.6L144.39 485.6L144.69 485.6L144.99 485.6L145.28 485.6L145.58 485.6L145.88 485.6L146.18 485.6L146.47 485.6L146.77 485.6L147.07 485.6L147.37 485.6L147.66 485.6L147.96 485.6L148.26 485.6L148.56 485.6L148.86 485.6L149.15 485.6L149.45 485.6L149.75 485.6L150.05 485.6L150.34 485.6L150.64 485.6L150.94 485.6L151.24 485.6L151.53 485.6L151.83 485.6L152.13 485.6L152.43 485.6L152.72 485.6L153.02 485.6L153.32 485.6L153.62 485.6L153.91 485.6L154.21 485.6L154.51 485.6L154.81 485.6L155.1 485.6L155.4 485.6L155.7 485.6L156 485.6L156.29 485.6L156.59 485.6L156.89 485.6L157.19 485.6L157.48 485.6L157.78 485.6L158.08 485.6L158.38 485.6L158.67 485.6L158.97 485.6L159.27 485.6L159.56 485.6L159.86 485.6L160.16 485.6L160.46 485.6L160.75 485.6L161.05 485.6L161.35 485.6L161.65 485.6L161.94 485.6L162.24 485.6L162.54 485.6L162.84 485.6L163.13 485.6L163.43 485.6L163.73 485.6L164.03 485.6L164.32 485.6L164.62 485.6L164.92 485.6L165.22 485.6L165.51 485.6L165.81 485.6L166.11 485.6L166.41 485.6L166.7 485.6L167 485.6L167.3 485.6L167.6 485.6L167.89 485.6L168.19 485.6L168.49 485.6L168.79 485.6L169.08 485.6L169.38 485.6L169.68 485.6L169.98 485.6L170.27 485.6L170.57 485.6L170.87 485.6L171.17 485.6L171.47 485.6L171.76 485.6L172.06 485.6L172.36 485.6L172.66 485.6L172.95 485.6L173.25 485.6L173.55 485.6L173.84 485.6L174.14 485.6L174.44 485.6L174.74 485.6L175.03 485.6L175.33 485.6L175.63 485.6L175.93 485.6L176.22 485.6L176.52 485.6L176.82 485.6L177.12 485.6L177.41 485.6L177.71 485.6L178.01 485.6L178.31 485.6L178.61 485.6L178.9 485.6L179.2 485.6L179.2 485.6Z" fill="url(#hatchd)"/>
<path d="M95.9 485.6L95.9 485.6L96.2 485.6L96.5 485.6L96.79 485.6L97.09 485.6L97.39 485.6L97.69 485.6L97.98 485.6L98.28 485.6L98.58 485.6L98.88 485.6L99.17 485.6L99.47 485.6L99.77 485.6L100.06 485.6L100.36 485.6L100.66 485.6L100.96 485.6L101.25 485.6L101.55 485.6L101.85 485.6L102.15 485.6L102.44 485.6L102.74 485.6L103.04 485.6L103.34 485.6L103.63 485.6L103.93 485.6L104.23 485.6L104.53 485.6L104.83 485.6L105.12 485.6L105.42 485.6L105.72 485.6L106.02 485.6L106.31 485.6L106.61 485.6L106.91 485.6L107.2 485.6L107.5 485.6L107.8 485.6L108.1 485.6L108.4 485.6L108.69 485.6L108.99 485.6L109.29 485.6L109.59 485.6L109.88 485.6L110.18 485.6L110.48 485.6L110.78 485.6L111.07 485.6L111.37 485.6L111.67 485.6L111.97 485.6L112.26 485.6L112.56 485.6L112.86 485.6L113.16 485.6L113.45 485.6L113.75 485.6L114.05 485.6L114.34 485.6L114.64 485.6L114.94 485.6L115.24 485.6L115.53 485.6L115.83 485.6L116.13 485.6L116.43 485.6L116.72 485.6L117.02 485.6L117.32 485.6L117.62 485.6L117.91 485.6L118.21 485.6L118.51 485.6L118.81 485.6L119.1 485.6L119.4 485.6L119.7 485.6L120 485.6L120.3 485.6L120.59 485.6L120.89 485.6L121.19 485.6L121.48 485.6L121.78 485.6L122.08 485.6L122.38 485.6L122.67 485.6L122.97 485.6L123.27 485.6L123.57 485.6L123.87 485.6L124.16 485.6L124.46 485.6L124.76 485.6L125.06 485.6L125.35 485.6L125.65 485.6L125.95 485.6L126.25 485.6L126.54 485.6L126.84 485.6L127.14 485.6L127.44 485.6L127.73 485.6L128.03 485.6L128.33 485.6L128.62 485.6L128.92 485.6L129.22 485.6L129.52 485.6L129.81 485.6L130.11 485.6L130.41 485.6L130.71 485.6L131 485.6L131.3 485.6L131.6 485.6L131.9 485.6L132.19 485.6L132.49 485.6L132.79 485.6L133.09 485.6L133.38 485.6L133.68 485.6L133.98 485.6L134.28 485.6L134.57 485.6L134.87 485.6L135.17 485.6L135.47 485.6L135.76 485.6L136.06 485.6L136.36 485.6L136.66 485.6L136.95 485.6L137.25 485.6L137.55 485.6L137.85 485.6L138.14 485.6L138.44 485.6L138.74 485.6L139.04 485.59L139.33 485.59L139.63 485.59L139.93 485.59L140.23 485.59L140.53 485.58L140.82 485.58L141.12 485.58L141.42 485.57L141.72 485.57L142.01 485.56L142.31 485.55L142.61 485.55L142.91 485.53L143.2 485.52L143.5 485.51L143.8 485.49L144.09 485.47L144.39 485.45L144.69 485.43L144.99 485.4L145.28 485.36L145.58 485.33L145.88 485.28L146.18 485.24L146.47 485.18L146.77 485.12L147.07 485.05L147.37 484.97L147.66 484.89L147.96 484.79L148.26 484.69L148.56 484.57L148.86 484.44L149.15 484.3L149.45 484.14L149.75 483.98L150.05 483.79L150.34 483.59L150.64 483.38L150.94 483.15L151.24 482.91L151.53 482.64L151.83 482.37L152.13 482.07L152.43 481.76L152.72 481.43L153.02 481.09L153.32 480.73L153.62 480.36L153.91 479.98L154.21 479.58L154.51 479.18L154.81 478.77L155.1 478.35L155.4 477.92L155.7 477.5L156 477.07L156.29 476.65L156.59 476.23L156.89 475.82L157.19 475.42L157.48 475.03L157.78 474.66L158.08 474.3L158.38 473.97L158.67 474.1L158.97 474.39L159.27 474.68L159.56 474.97L159.86 475.25L160.16 475.54L160.46 475.83L160.75 476.12L161.05 476.41L161.35 476.7L161.65 476.99L161.94 477.28L162.24 477.57L162.54 477.86L162.84 478.1L163.13 478.34L163.43 478.58L163.73 478.82L164.03 479.07L164.32 479.31L164.62 479.55L164.92 479.79L165.22 480.03L165.51 480.28L165.81 480.52L166.11 480.76L166.41 481L166.7 481.24L167 481.49L167.3 481.73L167.6 481.97L167.89 482.21L168.19 482.45L168.49 482.7L168.79 482.94L169.08 483.18L169.38 483.42L169.68 483.66L169.98 483.83L170.27 483.99L170.57 484.15L170.87 484.31L171.17 484.47L171.47 484.63L171.76 484.79L172.06 484.95L172.36 485.12L172.66 485.28L172.95 485.44L173.25 485.6L173.55 485.6L173.84 485.6L174.14 485.6L174.44 485.6L174.74 485.6L175.03 485.6L175.33 485.6L175.63 485.6L175.93 485.6L176.22 485.6L176.52 485.6L176.82 485.6L177.12 485.6L177.41 485.6L177.71 485.6L178.01 485.6L178.31 485.6L178.61 485.6L178.9 485.6L179.2 485.6L179.2 485.6Z" fill="url(#hatchd)"/>
<path d="M110.48 485.28L110.78 484.95L111.07 484.63L111.37 484.31L111.67 483.99L111.97 483.66L112.26 483.34L112.56 483.02L112.86 482.7L113.16 482.37L113.45 482.05L113.75 481.73L114.05 480.84L114.34 479.95L114.64 479.07L114.94 478.18L115.24 477.29L115.53 476.4L115.83 475.52L116.13 474.63L116.43 473.74L116.72 472.85L117.02 471.97L117.32 471.08L117.62 469.95L117.91 468.82L118.21 467.69L118.51 466.56L118.81 465.43L119.1 464.3L119.4 463.17L119.7 462.05L120 460.92L120.3 459.79L120.59 458.66L120.89 457.53L121.19 456.66L121.48 455.79L121.78 454.91L122.08 454.04L122.38 453.17L122.67 452.3L122.97 451.43L123.27 450.56L123.57 449.69L123.87 448.82L124.16 448.78L124.46 448.74L124.76 448.7L125.06 448.65L125.35 448.61L125.65 448.57L125.95 448.69L126.25 448.8L126.54 448.92L126.84 449.03L127.14 449.15L127.44 449.26L127.73 449.38L128.03 449.49L128.33 449.6L128.62 449.72L128.92 449.83L129.22 449.95L129.52 450.06L129.81 450.18L130.11 450.32L130.41 450.57L130.71 450.82L131 451.07L131.3 451.32L131.6 451.57L131.9 451.82L132.19 452.07L132.49 452.32L132.79 452.57L133.09 452.81L133.38 453.06L133.68 453.31L133.98 453.56L134.28 453.81L134.57 454.06L134.87 454.31L135.17 454.56L135.47 454.81L135.76 455.06L136.06 455.31L136.36 455.56L136.66 455.81L136.95 456.06L137.25 456.31L137.55 456.56L137.85 456.8L138.14 457.04L138.44 457.29L138.74 457.53L139.04 457.77L139.33 458.01L139.63 458.25L139.93 458.5L140.23 458.74L140.53 458.98L140.82 459.22L141.12 459.46L141.42 459.71L141.72 459.95L142.01 460.19L142.31 460.43L142.61 460.67L142.91 460.92L143.2 461.16L143.5 461.4L143.8 461.64L144.09 461.88L144.39 462.13L144.69 462.37L144.99 462.61L145.28 462.85L145.58 463.09L145.88 463.34L146.18 463.58L146.47 463.82L146.77 464.06L147.07 464.3L147.37 464.55L147.66 464.79L147.96 465.03L148.26 465.27L148.56 465.51L148.86 465.76L149.15 466L149.45 466.24L149.75 466.49L150.05 466.74L150.34 467L150.64 467.25L150.94 467.5L151.24 467.75L151.53 468L151.83 468.25L152.13 468.51L152.43 468.76L152.72 469.01L153.02 469.26L153.32 469.51L153.62 469.77L153.91 470.02L154.21 470.27L154.51 470.52L154.81 470.77L155.1 471.02L155.4 471.28L155.7 471.53L156 471.78L156.29 472.03L156.59 472.28L156.89 472.54L157.19 472.79L157.48 473.04L157.78 473.29L158.08 473.54L158.38 473.81L158.67 474.1L158.97 474.39L159.27 474.68L159.56 474.97L159.86 475.25L160.16 475.54L160.46 475.83L160.75 476.12L161.05 476.41L161.35 476.7L161.65 476.99L161.94 477.28L162.24 477.57L162.54 477.86L162.84 478.1L163.13 478.34L163.43 478.58L163.73 478.82L164.03 479.07L164.32 479.31L164.62 479.55L164.92 479.79L165.22 480.03L165.51 480.28L165.81 480.52L166.11 480.76L166.41 481L166.7 481.24L167 481.49L167.3 481.73L167.6 481.97L167.89 482.21L168.19 482.45L168.49 482.7L168.79 482.94L169.08 483.18L169.38 483.42L169.68 483.66L169.98 483.83L170.27 483.99L170.57 484.15L170.87 484.31L171.17 484.47L171.47 484.63L171.76 484.79L172.06 484.95L172.36 485.12L172.66 485.28L172.95 485.44" fill="none" stroke="#111" stroke-width="0.55"/>
<path d="M103.04 485.59L103.34 485.59L103.63 485.58L103.93 485.57L104.23 485.56L104.53 485.55L104.83 485.53L105.12 485.51L105.42 485.47L105.72 485.43L106.02 485.36L106.31 485.29L106.61 485.18L106.91 485.05L107.2 484.89L107.5 484.67L107.8 484.41L108.1 483.89L108.4 483.3L108.69 482.61L108.99 481.8L109.29 480.87L109.59 479.79L109.88 478.54L110.18 477.09L110.48 475.42L110.78 473.51L111.07 471.34L111.37 468.88L111.67 466.12L111.97 463.04L112.26 459.64L112.56 455.9L112.86 451.29L113.16 446.36L113.45 441.13L113.75 435.62L114.05 429.87L114.34 423.94L114.64 417.86L114.94 411.72L115.24 405.57L115.53 399.51L115.83 393.6L116.13 387.95L116.43 382.62L116.72 377.71L117.02 373.29L117.32 369.44L117.62 365.73L117.91 362.69L118.21 360.37L118.51 358.79L118.81 357.95L119.1 357.85L119.4 358.47L119.7 359.76L120 361.68L120.3 364.16L120.59 367.13L120.89 370.52L121.19 374.24L121.48 378.21L121.78 382.34L122.08 386.55L122.38 391.67L122.67 396.71L122.97 401.62L123.27 406.34L123.57 410.82L123.87 415.02L124.16 418.92L124.46 422.51L124.76 425.76L125.06 428.68L125.35 431.27L125.65 433.55L125.95 435.52L126.25 437.21L126.54 438.63L126.84 439.82L127.14 441.45L127.44 442.89L127.73 444.15L128.03 445.26L128.33 446.25L128.62 447.12L128.92 447.89L129.22 448.59L129.52 449.22L129.81 449.8L130.11 450.33L130.41 450.82L130.71 451.29L131 451.73L131.3 452.15L131.6 452.56L131.9 452.81L132.19 453.05L132.49 453.29L132.79 453.52L133.09 453.75L133.38 453.98L133.68 454.2L133.98 454.42L134.28 454.64L134.57 454.86L134.87 455.08L135.17 455.3L135.47 455.52L135.76 455.74L136.06 455.95L136.36 456.17L136.66 456.39L136.95 456.61L137.25 456.83L137.55 457.04L137.85 457.26L138.14 457.48L138.44 457.7L138.74 457.92L139.04 458.13L139.33 458.35L139.63 458.57L139.93 458.79L140.23 459L140.53 459.22L140.82 459.44L141.12 459.66L141.42 459.88L141.72 460.09L142.01 460.31L142.31 460.53L142.61 460.75L142.91 460.96L143.2 461.18L143.5 461.4L143.8 461.47L144.09 461.55L144.39 461.62L144.69 461.69L144.99 461.76L145.28 461.84L145.58 461.91L145.88 461.98L146.18 462.05L146.47 462.13L146.77 462.2L147.07 462.27L147.37 462.34L147.66 462.42L147.96 462.49L148.26 462.56L148.56 462.63L148.86 462.71L149.15 462.78L149.45 462.85L149.75 462.92L150.05 463L150.34 463.07L150.64 463.14L150.94 463.22L151.24 463.29L151.53 463.36L151.83 463.43L152.13 463.51L152.43 463.58L152.72 463.65L153.02 463.72L153.32 463.8L153.62 463.87L153.91 463.94L154.21 464.01L154.51 464.09L154.81 464.16L155.1 464.23L155.4 464.3L155.7 464.35L156 464.4L156.29 464.45L156.59 464.5L156.89 464.55L157.19 464.59L157.48 464.64L157.78 464.69L158.08 464.74L158.38 464.79L158.67 464.84L158.97 464.88L159.27 464.93L159.56 464.98L159.86 465.03L160.16 465.08L160.46 465.13L160.75 465.18L161.05 465.22L161.35 465.27L161.65 465.61L161.94 465.95L162.24 466.29L162.54 466.63L162.84 466.97L163.13 467.3L163.43 467.64L163.73 467.98L164.03 468.32L164.32 468.66L164.62 469L164.92 469.34L165.22 469.68L165.51 470.02L165.81 470.35L166.11 470.69L166.41 471.03L166.7 471.37L167 471.71L167.3 472.05L167.6 472.58L167.89 473.11L168.19 473.65L168.49 474.18L168.79 474.71L169.08 475.24L169.38 475.77L169.68 476.31L169.98 476.84L170.27 477.37L170.57 477.9L170.87 478.44L171.17 478.97L171.47 479.5L171.76 480.03L172.06 480.57L172.36 481.1L172.66 481.63L172.95 482.16L173.25 482.7L173.55 482.94L173.84 483.18L174.14 483.42L174.44 483.66L174.74 483.91L175.03 484.15L175.33 484.39L175.63 484.63L175.93 484.87L176.22 485.12L176.52 485.36L176.82 485.6L177.12 485.6L177.41 485.6L177.71 485.6L178.01 485.6L178.31 485.6L178.61 485.6L178.9 485.6L179.2 485.6" fill="none" stroke="#222" stroke-width="0.55"/>
<path d="M105.42 485.59L106.61 485.56L107.8 485.42L108.99 483.93L110.18 481.33L111.37 476.09L112.56 465.81L113.75 446.37L114.94 419.16L116.13 388.34L117.32 362.51L118.51 348.39L119.7 352.35L120.89 370.43L122.08 393.5L123.27 416.84L124.46 432.41L125.65 440.52L126.84 444.13L128.03 444.17L129.22 451.79L130.41 455.73L131.6 450.28L132.79 455.02L133.98 460.43L135.17 457.29L136.36 456.9L137.55 460.41L138.74 462.36L139.93 457.69L141.12 455.43L142.31 460.41L143.5 463.13L144.69 459.23L145.88 458.22L147.07 462.1L148.26 459.23L149.45 457.61L150.64 462.34L151.83 464.74L153.02 460.72L154.21 461.28L155.4 458.38L156.59 467.22L157.78 465.16L158.97 465.99L160.16 469.44L161.35 462.88L162.54 462.78L163.73 468.73L164.92 462.37L166.11 465.77L167.3 467.83L168.49 470.98L169.68 471.29L170.87 481.92L172.06 477.18L173.25 481.73L174.44 482.7L175.63 483.66L176.82 484.63L178.01 485.6" fill="none" stroke="#111" stroke-width="0.55"/>
<path d="M118.51 486.2l2.4 4h-4.8z" fill="#000"/>
<rect x="173.2" y="338.2" width="4.6" height="4.4" fill="#f00"/>
<rect x="173.2" y="344.2" width="4.6" height="4.4" fill="#f00"/>
<rect x="173.2" y="350.2" width="4.6" height="4.4" fill="url(#hatch)"/>
<text x="180.6" y="342.1" font-size="4.3" text-anchor="start" fill="#3333ee" font-family="Liberation Serif, serif" >G0G1</text>
<text x="180.6" y="348.1" font-size="4.3" text-anchor="start" fill="#3333ee" font-family="Liberation Serif, serif" >G2M</text>
<text x="180.6" y="354.1" font-size="4.3" text-anchor="start" fill="#3333ee" font-family="Liberation Serif, serif" >S-Phase</text>
<text transform="translate(43.4,412.4) rotate(-90)" font-size="6" text-anchor="middle" fill="#666" font-family="Liberation Serif, serif">Number</text>
<text x="131.6" y="506.4" font-size="5.6" text-anchor="middle" fill="#666" font-family="Liberation Serif, serif" >Red8 Fluorescence (RED-B-HLin)</text>
<line x1="280.2" y1="341.2" x2="280.2" y2="485.4" stroke="#111" stroke-width="1.1"/>
<path d="M280.2 485.4h-5.6M280.2 479.64h-2.8M280.2 473.88h-2.8M280.2 468.12h-2.8M280.2 462.36h-2.8M280.2 456.6h-5.6M280.2 450.84h-2.8M280.2 445.08h-2.8M280.2 439.32h-2.8M280.2 433.56h-2.8M280.2 427.8h-5.6M280.2 422.04h-2.8M280.2 416.28h-2.8M280.2 410.52h-2.8M280.2 404.76h-2.8M280.2 399h-5.6M280.2 393.24h-2.8M280.2 387.48h-2.8M280.2 381.72h-2.8M280.2 375.96h-2.8M280.2 370.2h-5.6M280.2 364.44h-2.8M280.2 358.68h-2.8M280.2 352.92h-2.8M280.2 347.16h-2.8M280.2 341.4h-5.6M280.2 485.4v3.4M286.14 485.4v2.2M292.07 485.4v2.2M298.01 485.4v2.2M303.95 485.4v3.4M309.89 485.4v2.2M315.82 485.4v2.2M321.76 485.4v2.2M327.7 485.4v3.4M333.64 485.4v2.2M339.57 485.4v2.2M345.51 485.4v2.2M351.45 485.4v3.4M357.39 485.4v2.2M363.32 485.4v2.2M369.26 485.4v2.2M375.2 485.4v3.4M381.14 485.4v2.2M387.07 485.4v2.2M393.01 485.4v2.2M398.95 485.4v3.4M404.89 485.4v2.2M410.82 485.4v2.2M416.76 485.4v2.2M422.7 485.4v3.4" stroke="#222" stroke-width="0.8" fill="none"/>
<line x1="280.2" y1="485.4" x2="422.7" y2="485.4" stroke="#111" stroke-width="1.1"/>
<text transform="translate(272.2,485.4) rotate(-90)" font-size="5.3" text-anchor="middle" fill="#555" font-family="Liberation Serif, serif">0</text>
<text transform="translate(272.2,456.6) rotate(-90)" font-size="5.3" text-anchor="middle" fill="#555" font-family="Liberation Serif, serif">20</text>
<text transform="translate(272.2,427.8) rotate(-90)" font-size="5.3" text-anchor="middle" fill="#555" font-family="Liberation Serif, serif">40</text>
<text transform="translate(272.2,399) rotate(-90)" font-size="5.3" text-anchor="middle" fill="#555" font-family="Liberation Serif, serif">60</text>
<text transform="translate(272.2,370.2) rotate(-90)" font-size="5.3" text-anchor="middle" fill="#555" font-family="Liberation Serif, serif">80</text>
<text transform="translate(272.2,341.4) rotate(-90)" font-size="5.3" text-anchor="middle" fill="#555" font-family="Liberation Serif, serif">100</text>
<text x="280.2" y="498" font-size="5.6" text-anchor="middle" fill="#555" font-family="Liberation Serif, serif" >0</text>
<text x="303.95" y="498" font-size="5.6" text-anchor="middle" fill="#555" font-family="Liberation Serif, serif" >20</text>
<text x="327.7" y="498" font-size="5.6" text-anchor="middle" fill="#555" font-family="Liberation Serif, serif" >40</text>
<text x="351.45" y="498" font-size="5.6" text-anchor="middle" fill="#555" font-family="Liberation Serif, serif" >60</text>
<text x="375.2" y="498" font-size="5.6" text-anchor="middle" fill="#555" font-family="Liberation Serif, serif" >80</text>
<text x="398.95" y="498" font-size="5.6" text-anchor="middle" fill="#555" font-family="Liberation Serif, serif" >100</text>
<text x="422.7" y="498" font-size="5.6" text-anchor="middle" fill="#555" font-family="Liberation Serif, serif" >120</text>
<path d="M315.82 485.4L315.82 485.4L316.12 485.4L316.42 485.4L316.72 485.4L317.01 485.4L317.31 485.4L317.61 485.4L317.9 485.4L318.2 485.4L318.5 485.4L318.79 485.4L319.09 485.4L319.39 485.4L319.68 485.4L319.98 485.4L320.28 485.4L320.57 485.4L320.87 485.4L321.17 485.4L321.47 485.4L321.76 485.4L322.06 485.4L322.36 485.4L322.65 485.4L322.95 485.4L323.25 485.4L323.54 485.4L323.84 485.4L324.14 485.4L324.43 485.4L324.73 485.4L325.03 485.4L325.32 485.4L325.62 485.4L325.92 485.4L326.22 485.4L326.51 485.4L326.81 485.4L327.11 485.4L327.4 485.4L327.7 485.4L328 485.4L328.29 485.4L328.59 485.4L328.89 485.4L329.18 485.4L329.48 485.4L329.78 485.4L330.07 485.4L330.37 485.4L330.67 485.4L330.97 485.4L331.26 485.4L331.56 485.4L331.86 485.4L332.15 485.4L332.45 485.4L332.75 484.86L333.04 484.32L333.34 483.78L333.64 483.24L333.93 482.7L334.23 482.16L334.53 481.62L334.82 481.08L335.12 480.54L335.42 480L335.72 479.46L336.01 478.92L336.31 478.38L336.61 477.84L336.9 477.3L337.2 476.76L337.5 475.32L337.79 473.88L338.09 472.44L338.39 471L338.68 469.56L338.98 468.12L339.28 466.68L339.57 465.24L339.87 463.8L340.17 462.36L340.47 460.92L340.76 459.48L341.06 457.32L341.36 455.16L341.65 453L341.95 450.84L342.25 448.68L342.54 446.52L342.84 444.36L343.14 442.2L343.43 441.24L343.73 440.28L344.03 439.32L344.32 438.36L344.62 437.4L344.92 436.44L345.22 435.48L345.51 434.52L345.81 433.56L346.11 432.6L346.4 431.64L346.7 430.68L347 430.37L347.29 430.05L347.59 429.73L347.89 429.42L348.18 429.1L348.48 428.79L348.78 428.47L349.07 428.16L349.37 427.84L349.67 427.53L349.97 427.21L350.26 426.9L350.56 426.58L350.86 426.27L351.15 425.95L351.45 425.64L351.75 425.57L352.04 425.5L352.34 425.42L352.64 425.35L352.93 425.28L353.23 425.21L353.53 425.14L353.82 425.06L354.12 424.99L354.42 424.92L354.72 424.85L355.01 424.78L355.31 424.7L355.61 424.63L355.9 424.56L356.2 424.49L356.5 424.42L356.79 424.34L357.09 424.27L357.39 424.2L357.68 424.24L357.98 424.27L358.28 424.31L358.57 424.34L358.87 424.38L359.17 424.42L359.47 424.45L359.76 424.49L360.06 424.52L360.36 424.56L360.65 424.6L360.95 424.63L361.25 424.67L361.54 424.7L361.84 424.74L362.14 424.78L362.43 424.81L362.73 424.85L363.03 424.88L363.32 424.92L363.62 425.1L363.92 425.28L364.22 425.46L364.51 425.64L364.81 425.82L365.11 426L365.4 426.18L365.7 426.36L366 426.54L366.29 426.72L366.59 426.9L366.89 427.08L367.18 427.26L367.48 427.44L367.78 427.62L368.07 427.8L368.37 427.98L368.67 428.16L368.97 428.34L369.26 428.52L369.56 428.7L369.86 428.88L370.15 429.06L370.45 429.24L370.75 429.42L371.04 429.6L371.34 429.78L371.64 429.96L371.93 430.38L372.23 430.8L372.53 431.22L372.82 431.64L373.12 432.06L373.42 432.48L373.72 432.9L374.01 433.32L374.31 433.74L374.61 434.16L374.9 434.58L375.2 435L375.5 435.63L375.79 436.26L376.09 436.89L376.39 437.52L376.68 438.15L376.98 438.78L377.28 439.41L377.57 440.04L377.87 440.67L378.17 441.3L378.47 441.93L378.76 442.56L379.06 443.19L379.36 443.82L379.65 444.45L379.95 445.08L380.25 445.89L380.54 446.7L380.84 447.51L381.14 448.32L381.43 449.13L381.73 449.94L382.03 450.75L382.32 451.56L382.62 452.37L382.92 453.18L383.22 453.99L383.51 454.8L383.81 455.61L384.11 456.42L384.4 457.23L384.7 458.04L385 458.67L385.29 459.3L385.59 459.93L385.89 460.56L386.18 461.19L386.48 461.82L386.78 462.45L387.07 463.08L387.37 463.71L387.67 464.34L387.97 464.97L388.26 465.6L388.56 466.23L388.86 466.86L389.15 467.49L389.45 468.12L389.75 468.75L390.04 469.38L390.34 470.01L390.64 470.64L390.93 471.27L391.23 471.9L391.53 472.53L391.82 473.16L392.12 473.79L392.42 474.42L392.72 475.05L393.01 475.68L393.31 476.31L393.61 476.94L393.9 477.57L394.2 478.2L394.5 478.8L394.79 479.4L395.09 480L395.39 480.6L395.68 481.2L395.98 481.8L396.28 482.4L396.57 483L396.87 483.6L397.17 484.2L397.47 484.8L397.76 485.4L398.06 485.4L398.36 485.4L398.65 485.4L398.95 485.4L399.25 485.4L399.54 485.4L399.84 485.4L400.14 485.4L400.43 485.4L400.73 485.4L401.03 485.4L401.32 485.4L401.62 485.4L401.92 485.4L402.22 485.4L402.51 485.4L402.81 485.4L403.11 485.4L403.4 485.4L403.7 485.4L404 485.4L404.29 485.4L404.59 485.4L404.89 485.4L405.18 485.4L405.48 485.4L405.78 485.4L406.07 485.4L406.37 485.4L406.67 485.4L406.97 485.4L407.26 485.4L407.56 485.4L407.86 485.4L408.15 485.4L408.45 485.4L408.75 485.4L409.04 485.4L409.34 485.4L409.64 485.4L409.93 485.4L410.23 485.4L410.53 485.4L410.82 485.4L410.82 485.4Z" fill="url(#hatch)"/>
<path d="M315.82 485.4L315.82 485.4L316.12 485.4L316.42 485.4L316.72 485.4L317.01 485.4L317.31 485.4L317.61 485.4L317.9 485.4L318.2 485.4L318.5 485.4L318.79 485.4L319.09 485.4L319.39 485.4L319.68 485.4L319.98 485.4L320.28 485.4L320.57 485.4L320.87 485.4L321.17 485.4L321.47 485.4L321.76 485.4L322.06 485.4L322.36 485.4L322.65 485.39L322.95 485.39L323.25 485.39L323.54 485.38L323.84 485.38L324.14 485.37L324.43 485.36L324.73 485.34L325.03 485.32L325.32 485.29L325.62 485.25L325.92 485.2L326.22 485.14L326.51 485.05L326.81 484.95L327.11 484.81L327.4 484.64L327.7 484.43L328 484.16L328.29 483.83L328.59 483.43L328.89 482.94L329.18 482.36L329.48 481.65L329.78 480.81L330.07 479.81L330.37 478.65L330.67 477.3L330.97 475.74L331.26 473.95L331.56 471.92L331.86 469.63L332.15 467.07L332.45 464.24L332.75 461.13L333.04 457.74L333.34 454.08L333.64 450.16L333.93 446.02L334.23 441.67L334.53 437.16L334.82 432.53L335.12 427.83L335.42 423.11L335.72 418.45L336.01 413.9L336.31 409.54L336.61 405.44L336.9 401.66L337.2 398.27L337.5 395.34L337.79 392.9L338.09 391.02L338.39 389.72L338.68 389.03L338.98 388.97L339.28 389.53L339.57 390.71L339.87 392.48L340.17 394.81L340.47 397.65L340.76 400.95L341.06 404.66L341.36 408.7L341.65 413.01L341.95 417.53L342.25 422.17L342.54 426.88L342.84 431.59L343.14 436.24L343.43 440.78L343.73 445.17L344.03 449.35L344.32 453.31L344.62 457.03L344.92 460.47L345.22 463.64L345.51 466.53L345.81 469.14L346.11 471.48L346.4 473.56L346.7 475.4L347 477L347.29 478.4L347.59 479.6L347.89 480.62L348.18 481.49L348.48 482.22L348.78 482.84L349.07 483.34L349.37 483.76L349.67 484.1L349.97 484.38L350.26 484.6L350.56 484.78L350.86 484.92L351.15 485.03L351.45 485.12L351.75 485.19L352.04 485.24L352.34 485.28L352.64 485.31L352.93 485.34L353.23 485.35L353.53 485.37L353.82 485.38L354.12 485.38L354.42 485.39L354.72 485.39L355.01 485.39L355.31 485.4L355.61 485.4L355.9 485.4L356.2 485.4L356.5 485.4L356.79 485.4L357.09 485.4L357.39 485.4L357.68 485.4L357.98 485.4L358.28 485.4L358.57 485.4L358.87 485.4L359.17 485.4L359.47 485.4L359.76 485.4L360.06 485.4L360.36 485.4L360.65 485.4L360.95 485.4L361.25 485.4L361.54 485.4L361.84 485.4L362.14 485.4L362.43 485.4L362.73 485.4L363.03 485.4L363.32 485.4L363.62 485.4L363.92 485.4L364.22 485.4L364.51 485.4L364.81 485.4L365.11 485.4L365.4 485.4L365.7 485.4L366 485.4L366.29 485.4L366.59 485.4L366.89 485.4L367.18 485.4L367.48 485.4L367.78 485.4L368.07 485.4L368.37 485.4L368.67 485.4L368.97 485.4L369.26 485.4L369.56 485.4L369.86 485.4L370.15 485.4L370.45 485.4L370.75 485.4L371.04 485.4L371.34 485.4L371.64 485.4L371.93 485.4L372.23 485.4L372.53 485.4L372.82 485.4L373.12 485.4L373.42 485.4L373.72 485.4L374.01 485.4L374.31 485.4L374.61 485.4L374.9 485.4L375.2 485.4L375.5 485.4L375.79 485.4L376.09 485.4L376.39 485.4L376.68 485.4L376.98 485.4L377.28 485.4L377.57 485.4L377.87 485.4L378.17 485.4L378.47 485.4L378.76 485.4L379.06 485.4L379.36 485.4L379.65 485.4L379.95 485.4L380.25 485.4L380.54 485.4L380.84 485.4L381.14 485.4L381.43 485.4L381.73 485.4L382.03 485.4L382.32 485.4L382.62 485.4L382.92 485.4L383.22 485.4L383.51 485.4L383.81 485.4L384.11 485.4L384.4 485.4L384.7 485.4L385 485.4L385.29 485.4L385.59 485.4L385.89 485.4L386.18 485.4L386.48 485.4L386.78 485.4L387.07 485.4L387.37 485.4L387.67 485.4L387.97 485.4L388.26 485.4L388.56 485.4L388.86 485.4L389.15 485.4L389.45 485.4L389.75 485.4L390.04 485.4L390.34 485.4L390.64 485.4L390.93 485.4L391.23 485.4L391.53 485.4L391.82 485.4L392.12 485.4L392.42 485.4L392.72 485.4L393.01 485.4L393.31 485.4L393.61 485.4L393.9 485.4L394.2 485.4L394.5 485.4L394.79 485.4L395.09 485.4L395.39 485.4L395.68 485.4L395.98 485.4L396.28 485.4L396.57 485.4L396.87 485.4L397.17 485.4L397.47 485.4L397.76 485.4L398.06 485.4L398.36 485.4L398.65 485.4L398.95 485.4L399.25 485.4L399.54 485.4L399.84 485.4L400.14 485.4L400.43 485.4L400.73 485.4L401.03 485.4L401.32 485.4L401.62 485.4L401.92 485.4L402.22 485.4L402.51 485.4L402.81 485.4L403.11 485.4L403.4 485.4L403.7 485.4L404 485.4L404.29 485.4L404.59 485.4L404.89 485.4L405.18 485.4L405.48 485.4L405.78 485.4L406.07 485.4L406.37 485.4L406.67 485.4L406.97 485.4L407.26 485.4L407.56 485.4L407.86 485.4L408.15 485.4L408.45 485.4L408.75 485.4L409.04 485.4L409.34 485.4L409.64 485.4L409.93 485.4L410.23 485.4L410.53 485.4L410.82 485.4L410.82 485.4Z" fill="#f00" stroke="#111" stroke-width="0.5"/>
<path d="M315.82 485.4L315.82 485.4L316.12 485.4L316.42 485.4L316.72 485.4L317.01 485.4L317.31 485.4L317.61 485.4L317.9 485.4L318.2 485.4L318.5 485.4L318.79 485.4L319.09 485.4L319.39 485.4L319.68 485.4L319.98 485.4L320.28 485.4L320.57 485.4L320.87 485.4L321.17 485.4L321.47 485.4L321.76 485.4L322.06 485.4L322.36 485.4L322.65 485.4L322.95 485.4L323.25 485.4L323.54 485.4L323.84 485.4L324.14 485.4L324.43 485.4L324.73 485.4L325.03 485.4L325.32 485.4L325.62 485.4L325.92 485.4L326.22 485.4L326.51 485.4L326.81 485.4L327.11 485.4L327.4 485.4L327.7 485.4L328 485.4L328.29 485.4L328.59 485.4L328.89 485.4L329.18 485.4L329.48 485.4L329.78 485.4L330.07 485.4L330.37 485.4L330.67 485.4L330.97 485.4L331.26 485.4L331.56 485.4L331.86 485.4L332.15 485.4L332.45 485.4L332.75 485.4L333.04 485.4L333.34 485.4L333.64 485.4L333.93 485.4L334.23 485.4L334.53 485.4L334.82 485.4L335.12 485.4L335.42 485.4L335.72 485.4L336.01 485.4L336.31 485.4L336.61 485.4L336.9 485.4L337.2 485.4L337.5 485.4L337.79 485.4L338.09 485.4L338.39 485.4L338.68 485.4L338.98 485.4L339.28 485.4L339.57 485.4L339.87 485.4L340.17 485.4L340.47 485.4L340.76 485.4L341.06 485.4L341.36 485.4L341.65 485.4L341.95 485.4L342.25 485.4L342.54 485.4L342.84 485.4L343.14 485.4L343.43 485.4L343.73 485.4L344.03 485.4L344.32 485.4L344.62 485.4L344.92 485.4L345.22 485.4L345.51 485.4L345.81 485.4L346.11 485.4L346.4 485.4L346.7 485.4L347 485.4L347.29 485.4L347.59 485.4L347.89 485.4L348.18 485.4L348.48 485.4L348.78 485.4L349.07 485.4L349.37 485.4L349.67 485.4L349.97 485.4L350.26 485.4L350.56 485.4L350.86 485.4L351.15 485.4L351.45 485.4L351.75 485.4L352.04 485.4L352.34 485.4L352.64 485.4L352.93 485.4L353.23 485.4L353.53 485.4L353.82 485.4L354.12 485.4L354.42 485.4L354.72 485.4L355.01 485.4L355.31 485.39L355.61 485.39L355.9 485.39L356.2 485.39L356.5 485.39L356.79 485.38L357.09 485.38L357.39 485.38L357.68 485.37L357.98 485.37L358.28 485.36L358.57 485.36L358.87 485.35L359.17 485.34L359.47 485.33L359.76 485.31L360.06 485.3L360.36 485.28L360.65 485.26L360.95 485.23L361.25 485.2L361.54 485.17L361.84 485.13L362.14 485.09L362.43 485.04L362.73 484.99L363.03 484.92L363.32 484.85L363.62 484.77L363.92 484.68L364.22 484.58L364.51 484.46L364.81 484.33L365.11 484.19L365.4 484.03L365.7 483.85L366 483.65L366.29 483.43L366.59 483.19L366.89 482.93L367.18 482.63L367.48 482.32L367.78 481.97L368.07 481.59L368.37 481.18L368.67 480.74L368.97 480.26L369.26 479.75L369.56 479.2L369.86 478.61L370.15 477.97L370.45 477.3L370.75 476.59L371.04 475.84L371.34 475.04L371.64 474.21L371.93 473.33L372.23 472.41L372.53 471.46L372.82 470.46L373.12 469.44L373.42 468.38L373.72 467.29L374.01 466.17L374.31 465.03L374.61 463.87L374.9 462.69L375.2 461.5L375.5 460.31L375.79 459.12L376.09 457.93L376.39 456.75L376.68 455.58L376.98 454.44L377.28 453.32L377.57 452.24L377.87 451.2L378.17 450.21L378.47 449.26L378.76 448.37L379.06 447.55L379.36 446.79L379.65 446.11L379.95 445.5L380.25 444.97L380.54 444.53L380.84 444.17L381.14 443.91L381.43 443.73L381.73 443.65L382.03 443.66L382.32 443.76L382.62 443.95L382.92 444.24L383.22 444.61L383.51 445.07L383.81 445.62L384.11 446.24L384.4 446.94L384.7 447.71L385 448.55L385.29 449.45L385.59 450.4L385.89 451.41L386.18 452.46L386.48 453.54L386.78 454.67L387.07 455.81L387.37 456.98L387.67 458.16L387.97 459.35L388.26 460.55L388.56 461.74L388.86 462.93L389.15 464.1L389.45 465.26L389.75 466.39L390.04 467.51L390.34 468.59L390.64 469.64L390.93 470.66L391.23 471.65L391.53 472.6L391.82 473.51L392.12 474.38L392.42 475.2L392.72 475.99L393.01 476.74L393.31 477.44L393.61 478.1L393.9 478.73L394.2 479.31L394.5 479.85L394.79 480.36L395.09 480.83L395.39 481.27L395.68 481.67L395.98 482.04L396.28 482.38L396.57 482.7L396.87 482.98L397.17 483.24L397.47 483.48L397.76 483.69L398.06 483.89L398.36 484.06L398.65 484.22L398.95 484.36L399.25 484.48L399.54 484.6L399.84 484.7L400.14 484.79L400.43 484.87L400.73 484.94L401.03 485L401.32 485.05L401.62 485.1L401.92 485.14L402.22 485.18L402.51 485.21L402.81 485.24L403.11 485.26L403.4 485.28L403.7 485.3L404 485.31L404.29 485.33L404.59 485.34L404.89 485.35L405.18 485.36L405.48 485.36L405.78 485.37L406.07 485.37L406.37 485.38L406.67 485.38L406.97 485.39L407.26 485.39L407.56 485.39L407.86 485.39L408.15 485.39L408.45 485.39L408.75 485.4L409.04 485.4L409.34 485.4L409.64 485.4L409.93 485.4L410.23 485.4L410.53 485.4L410.82 485.4L410.82 485.4Z" fill="#f00" stroke="#111" stroke-width="0.5"/>
<path d="M315.82 485.4L315.82 485.4L316.12 485.4L316.42 485.4L316.72 485.4L317.01 485.4L317.31 485.4L317.61 485.4L317.9 485.4L318.2 485.4L318.5 485.4L318.79 485.4L319.09 485.4L319.39 485.4L319.68 485.4L319.98 485.4L320.28 485.4L320.57 485.4L320.87 485.4L321.17 485.4L321.47 485.4L321.76 485.4L322.06 485.4L322.36 485.4L322.65 485.4L322.95 485.4L323.25 485.4L323.54 485.4L323.84 485.4L324.14 485.4L324.43 485.4L324.73 485.4L325.03 485.4L325.32 485.4L325.62 485.4L325.92 485.4L326.22 485.4L326.51 485.4L326.81 485.4L327.11 485.4L327.4 485.4L327.7 485.4L328 485.4L328.29 485.4L328.59 485.4L328.89 485.4L329.18 485.4L329.48 485.4L329.78 485.4L330.07 485.4L330.37 485.4L330.67 485.4L330.97 485.4L331.26 485.4L331.56 485.4L331.86 485.4L332.15 485.4L332.45 485.4L332.75 484.86L333.04 484.32L333.34 483.78L333.64 483.24L333.93 482.7L334.23 482.16L334.53 481.62L334.82 481.08L335.12 480.54L335.42 480L335.72 479.46L336.01 478.92L336.31 478.38L336.61 477.84L336.9 477.3L337.2 476.76L337.5 475.32L337.79 473.88L338.09 472.44L338.39 471L338.68 469.56L338.98 468.12L339.28 466.68L339.57 465.24L339.87 463.8L340.17 462.36L340.47 460.92L340.76 459.48L341.06 457.32L341.36 455.16L341.65 453L341.95 450.84L342.25 448.68L342.54 446.52L342.84 444.36L343.14 442.2L343.43 441.24L343.73 445.17L344.03 449.35L344.32 453.31L344.62 457.03L344.92 460.47L345.22 463.64L345.51 466.53L345.81 469.14L346.11 471.48L346.4 473.56L346.7 475.4L347 477L347.29 478.4L347.59 479.6L347.89 480.62L348.18 481.49L348.48 482.22L348.78 482.84L349.07 483.34L349.37 483.76L349.67 484.1L349.97 484.38L350.26 484.6L350.56 484.78L350.86 484.92L351.15 485.03L351.45 485.12L351.75 485.19L352.04 485.24L352.34 485.28L352.64 485.31L352.93 485.34L353.23 485.35L353.53 485.37L353.82 485.38L354.12 485.38L354.42 485.39L354.72 485.39L355.01 485.39L355.31 485.4L355.61 485.4L355.9 485.4L356.2 485.4L356.5 485.4L356.79 485.4L357.09 485.4L357.39 485.4L357.68 485.4L357.98 485.4L358.28 485.4L358.57 485.4L358.87 485.4L359.17 485.4L359.47 485.4L359.76 485.4L360.06 485.4L360.36 485.4L360.65 485.4L360.95 485.4L361.25 485.4L361.54 485.4L361.84 485.4L362.14 485.4L362.43 485.4L362.73 485.4L363.03 485.4L363.32 485.4L363.62 485.4L363.92 485.4L364.22 485.4L364.51 485.4L364.81 485.4L365.11 485.4L365.4 485.4L365.7 485.4L366 485.4L366.29 485.4L366.59 485.4L366.89 485.4L367.18 485.4L367.48 485.4L367.78 485.4L368.07 485.4L368.37 485.4L368.67 485.4L368.97 485.4L369.26 485.4L369.56 485.4L369.86 485.4L370.15 485.4L370.45 485.4L370.75 485.4L371.04 485.4L371.34 485.4L371.64 485.4L371.93 485.4L372.23 485.4L372.53 485.4L372.82 485.4L373.12 485.4L373.42 485.4L373.72 485.4L374.01 485.4L374.31 485.4L374.61 485.4L374.9 485.4L375.2 485.4L375.5 485.4L375.79 485.4L376.09 485.4L376.39 485.4L376.68 485.4L376.98 485.4L377.28 485.4L377.57 485.4L377.87 485.4L378.17 485.4L378.47 485.4L378.76 485.4L379.06 485.4L379.36 485.4L379.65 485.4L379.95 485.4L380.25 485.4L380.54 485.4L380.84 485.4L381.14 485.4L381.43 485.4L381.73 485.4L382.03 485.4L382.32 485.4L382.62 485.4L382.92 485.4L383.22 485.4L383.51 485.4L383.81 485.4L384.11 485.4L384.4 485.4L384.7 485.4L385 485.4L385.29 485.4L385.59 485.4L385.89 485.4L386.18 485.4L386.48 485.4L386.78 485.4L387.07 485.4L387.37 485.4L387.67 485.4L387.97 485.4L388.26 485.4L388.56 485.4L388.86 485.4L389.15 485.4L389.45 485.4L389.75 485.4L390.04 485.4L390.34 485.4L390.64 485.4L390.93 485.4L391.23 485.4L391.53 485.4L391.82 485.4L392.12 485.4L392.42 485.4L392.72 485.4L393.01 485.4L393.31 485.4L393.61 485.4L393.9 485.4L394.2 485.4L394.5 485.4L394.79 485.4L395.09 485.4L395.39 485.4L395.68 485.4L395.98 485.4L396.28 485.4L396.57 485.4L396.87 485.4L397.17 485.4L397.47 485.4L397.76 485.4L398.06 485.4L398.36 485.4L398.65 485.4L398.95 485.4L399.25 485.4L399.54 485.4L399.84 485.4L400.14 485.4L400.43 485.4L400.73 485.4L401.03 485.4L401.32 485.4L401.62 485.4L401.92 485.4L402.22 485.4L402.51 485.4L402.81 485.4L403.11 485.4L403.4 485.4L403.7 485.4L404 485.4L404.29 485.4L404.59 485.4L404.89 485.4L405.18 485.4L405.48 485.4L405.78 485.4L406.07 485.4L406.37 485.4L406.67 485.4L406.97 485.4L407.26 485.4L407.56 485.4L407.86 485.4L408.15 485.4L408.45 485.4L408.75 485.4L409.04 485.4L409.34 485.4L409.64 485.4L409.93 485.4L410.23 485.4L410.53 485.4L410.82 485.4L410.82 485.4Z" fill="#800020" fill-opacity="0.1"/>
<path d="M315.82 485.4L315.82 485.4L316.12 485.4L316.42 485.4L316.72 485.4L317.01 485.4L317.31 485.4L317.61 485.4L317.9 485.4L318.2 485.4L318.5 485.4L318.79 485.4L319.09 485.4L319.39 485.4L319.68 485.4L319.98 485.4L320.28 485.4L320.57 485.4L320.87 485.4L321.17 485.4L321.47 485.4L321.76 485.4L322.06 485.4L322.36 485.4L322.65 485.4L322.95 485.4L323.25 485.4L323.54 485.4L323.84 485.4L324.14 485.4L324.43 485.4L324.73 485.4L325.03 485.4L325.32 485.4L325.62 485.4L325.92 485.4L326.22 485.4L326.51 485.4L326.81 485.4L327.11 485.4L327.4 485.4L327.7 485.4L328 485.4L328.29 485.4L328.59 485.4L328.89 485.4L329.18 485.4L329.48 485.4L329.78 485.4L330.07 485.4L330.37 485.4L330.67 485.4L330.97 485.4L331.26 485.4L331.56 485.4L331.86 485.4L332.15 485.4L332.45 485.4L332.75 485.4L333.04 485.4L333.34 485.4L333.64 485.4L333.93 485.4L334.23 485.4L334.53 485.4L334.82 485.4L335.12 485.4L335.42 485.4L335.72 485.4L336.01 485.4L336.31 485.4L336.61 485.4L336.9 485.4L337.2 485.4L337.5 485.4L337.79 485.4L338.09 485.4L338.39 485.4L338.68 485.4L338.98 485.4L339.28 485.4L339.57 485.4L339.87 485.4L340.17 485.4L340.47 485.4L340.76 485.4L341.06 485.4L341.36 485.4L341.65 485.4L341.95 485.4L342.25 485.4L342.54 485.4L342.84 485.4L343.14 485.4L343.43 485.4L343.73 485.4L344.03 485.4L344.32 485.4L344.62 485.4L344.92 485.4L345.22 485.4L345.51 485.4L345.81 485.4L346.11 485.4L346.4 485.4L346.7 485.4L347 485.4L347.29 485.4L347.59 485.4L347.89 485.4L348.18 485.4L348.48 485.4L348.78 485.4L349.07 485.4L349.37 485.4L349.67 485.4L349.97 485.4L350.26 485.4L350.56 485.4L350.86 485.4L351.15 485.4L351.45 485.4L351.75 485.4L352.04 485.4L352.34 485.4L352.64 485.4L352.93 485.4L353.23 485.4L353.53 485.4L353.82 485.4L354.12 485.4L354.42 485.4L354.72 485.4L355.01 485.4L355.31 485.39L355.61 485.39L355.9 485.39L356.2 485.39L356.5 485.39L356.79 485.38L357.09 485.38L357.39 485.38L357.68 485.37L357.98 485.37L358.28 485.36L358.57 485.36L358.87 485.35L359.17 485.34L359.47 485.33L359.76 485.31L360.06 485.3L360.36 485.28L360.65 485.26L360.95 485.23L361.25 485.2L361.54 485.17L361.84 485.13L362.14 485.09L362.43 485.04L362.73 484.99L363.03 484.92L363.32 484.85L363.62 484.77L363.92 484.68L364.22 484.58L364.51 484.46L364.81 484.33L365.11 484.19L365.4 484.03L365.7 483.85L366 483.65L366.29 483.43L366.59 483.19L366.89 482.93L367.18 482.63L367.48 482.32L367.78 481.97L368.07 481.59L368.37 481.18L368.67 480.74L368.97 480.26L369.26 479.75L369.56 479.2L369.86 478.61L370.15 477.97L370.45 477.3L370.75 476.59L371.04 475.84L371.34 475.04L371.64 474.21L371.93 473.33L372.23 472.41L372.53 471.46L372.82 470.46L373.12 469.44L373.42 468.38L373.72 467.29L374.01 466.17L374.31 465.03L374.61 463.87L374.9 462.69L375.2 461.5L375.5 460.31L375.79 459.12L376.09 457.93L376.39 456.75L376.68 455.58L376.98 454.44L377.28 453.32L377.57 452.24L377.87 451.2L378.17 450.21L378.47 449.26L378.76 448.37L379.06 447.55L379.36 446.79L379.65 446.11L379.95 445.5L380.25 445.89L380.54 446.7L380.84 447.51L381.14 448.32L381.43 449.13L381.73 449.94L382.03 450.75L382.32 451.56L382.62 452.37L382.92 453.18L383.22 453.99L383.51 454.8L383.81 455.61L384.11 456.42L384.4 457.23L384.7 458.04L385 458.67L385.29 459.3L385.59 459.93L385.89 460.56L386.18 461.19L386.48 461.82L386.78 462.45L387.07 463.08L387.37 463.71L387.67 464.34L387.97 464.97L388.26 465.6L388.56 466.23L388.86 466.86L389.15 467.49L389.45 468.12L389.75 468.75L390.04 469.38L390.34 470.01L390.64 470.64L390.93 471.27L391.23 471.9L391.53 472.6L391.82 473.51L392.12 474.38L392.42 475.2L392.72 475.99L393.01 476.74L393.31 477.44L393.61 478.1L393.9 478.73L394.2 479.31L394.5 479.85L394.79 480.36L395.09 480.83L395.39 481.27L395.68 481.67L395.98 482.04L396.28 482.4L396.57 483L396.87 483.6L397.17 484.2L397.47 484.8L397.76 485.4L398.06 485.4L398.36 485.4L398.65 485.4L398.95 485.4L399.25 485.4L399.54 485.4L399.84 485.4L400.14 485.4L400.43 485.4L400.73 485.4L401.03 485.4L401.32 485.4L401.62 485.4L401.92 485.4L402.22 485.4L402.51 485.4L402.81 485.4L403.11 485.4L403.4 485.4L403.7 485.4L404 485.4L404.29 485.4L404.59 485.4L404.89 485.4L405.18 485.4L405.48 485.4L405.78 485.4L406.07 485.4L406.37 485.4L406.67 485.4L406.97 485.4L407.26 485.4L407.56 485.4L407.86 485.4L408.15 485.4L408.45 485.4L408.75 485.4L409.04 485.4L409.34 485.4L409.64 485.4L409.93 485.4L410.23 485.4L410.53 485.4L410.82 485.4L410.82 485.4Z" fill="#800020" fill-opacity="0.1"/>
<path d="M315.82 485.4L315.82 485.4L316.12 485.4L316.42 485.4L316.72 485.4L317.01 485.4L317.31 485.4L317.61 485.4L317.9 485.4L318.2 485.4L318.5 485.4L318.79 485.4L319.09 485.4L319.39 485.4L319.68 485.4L319.98 485.4L320.28 485.4L320.57 485.4L320.87 485.4L321.17 485.4L321.47 485.4L321.76 485.4L322.06 485.4L322.36 485.4L322.65 485.4L322.95 485.4L323.25 485.4L323.54 485.4L323.84 485.4L324.14 485.4L324.43 485.4L324.73 485.4L325.03 485.4L325.32 485.4L325.62 485.4L325.92 485.4L326.22 485.4L326.51 485.4L326.81 485.4L327.11 485.4L327.4 485.4L327.7 485.4L328 485.4L328.29 485.4L328.59 485.4L328.89 485.4L329.18 485.4L329.48 485.4L329.78 485.4L330.07 485.4L330.37 485.4L330.67 485.4L330.97 485.4L331.26 485.4L331.56 485.4L331.86 485.4L332.15 485.4L332.45 485.4L332.75 484.86L333.04 484.32L333.34 483.78L333.64 483.24L333.93 482.7L334.23 482.16L334.53 481.62L334.82 481.08L335.12 480.54L335.42 480L335.72 479.46L336.01 478.92L336.31 478.38L336.61 477.84L336.9 477.3L337.2 476.76L337.5 475.32L337.79 473.88L338.09 472.44L338.39 471L338.68 469.56L338.98 468.12L339.28 466.68L339.57 465.24L339.87 463.8L340.17 462.36L340.47 460.92L340.76 459.48L341.06 457.32L341.36 455.16L341.65 453L341.95 450.84L342.25 448.68L342.54 446.52L342.84 444.36L343.14 442.2L343.43 441.24L343.73 445.17L344.03 449.35L344.32 453.31L344.62 457.03L344.92 460.47L345.22 463.64L345.51 466.53L345.81 469.14L346.11 471.48L346.4 473.56L346.7 475.4L347 477L347.29 478.4L347.59 479.6L347.89 480.62L348.18 481.49L348.48 482.22L348.78 482.84L349.07 483.34L349.37 483.76L349.67 484.1L349.97 484.38L350.26 484.6L350.56 484.78L350.86 484.92L351.15 485.03L351.45 485.12L351.75 485.19L352.04 485.24L352.34 485.28L352.64 485.31L352.93 485.34L353.23 485.35L353.53 485.37L353.82 485.38L354.12 485.38L354.42 485.39L354.72 485.39L355.01 485.39L355.31 485.4L355.61 485.4L355.9 485.4L356.2 485.4L356.5 485.4L356.79 485.4L357.09 485.4L357.39 485.4L357.68 485.4L357.98 485.4L358.28 485.4L358.57 485.4L358.87 485.4L359.17 485.4L359.47 485.4L359.76 485.4L360.06 485.4L360.36 485.4L360.65 485.4L360.95 485.4L361.25 485.4L361.54 485.4L361.84 485.4L362.14 485.4L362.43 485.4L362.73 485.4L363.03 485.4L363.32 485.4L363.62 485.4L363.92 485.4L364.22 485.4L364.51 485.4L364.81 485.4L365.11 485.4L365.4 485.4L365.7 485.4L366 485.4L366.29 485.4L366.59 485.4L366.89 485.4L367.18 485.4L367.48 485.4L367.78 485.4L368.07 485.4L368.37 485.4L368.67 485.4L368.97 485.4L369.26 485.4L369.56 485.4L369.86 485.4L370.15 485.4L370.45 485.4L370.75 485.4L371.04 485.4L371.34 485.4L371.64 485.4L371.93 485.4L372.23 485.4L372.53 485.4L372.82 485.4L373.12 485.4L373.42 485.4L373.72 485.4L374.01 485.4L374.31 485.4L374.61 485.4L374.9 485.4L375.2 485.4L375.5 485.4L375.79 485.4L376.09 485.4L376.39 485.4L376.68 485.4L376.98 485.4L377.28 485.4L377.57 485.4L377.87 485.4L378.17 485.4L378.47 485.4L378.76 485.4L379.06 485.4L379.36 485.4L379.65 485.4L379.95 485.4L380.25 485.4L380.54 485.4L380.84 485.4L381.14 485.4L381.43 485.4L381.73 485.4L382.03 485.4L382.32 485.4L382.62 485.4L382.92 485.4L383.22 485.4L383.51 485.4L383.81 485.4L384.11 485.4L384.4 485.4L384.7 485.4L385 485.4L385.29 485.4L385.59 485.4L385.89 485.4L386.18 485.4L386.48 485.4L386.78 485.4L387.07 485.4L387.37 485.4L387.67 485.4L387.97 485.4L388.26 485.4L388.56 485.4L388.86 485.4L389.15 485.4L389.45 485.4L389.75 485.4L390.04 485.4L390.34 485.4L390.64 485.4L390.93 485.4L391.23 485.4L391.53 485.4L391.82 485.4L392.12 485.4L392.42 485.4L392.72 485.4L393.01 485.4L393.31 485.4L393.61 485.4L393.9 485.4L394.2 485.4L394.5 485.4L394.79 485.4L395.09 485.4L395.39 485.4L395.68 485.4L395.98 485.4L396.28 485.4L396.57 485.4L396.87 485.4L397.17 485.4L397.47 485.4L397.76 485.4L398.06 485.4L398.36 485.4L398.65 485.4L398.95 485.4L399.25 485.4L399.54 485.4L399.84 485.4L400.14 485.4L400.43 485.4L400.73 485.4L401.03 485.4L401.32 485.4L401.62 485.4L401.92 485.4L402.22 485.4L402.51 485.4L402.81 485.4L403.11 485.4L403.4 485.4L403.7 485.4L404 485.4L404.29 485.4L404.59 485.4L404.89 485.4L405.18 485.4L405.48 485.4L405.78 485.4L406.07 485.4L406.37 485.4L406.67 485.4L406.97 485.4L407.26 485.4L407.56 485.4L407.86 485.4L408.15 485.4L408.45 485.4L408.75 485.4L409.04 485.4L409.34 485.4L409.64 485.4L409.93 485.4L410.23 485.4L410.53 485.4L410.82 485.4L410.82 485.4Z" fill="url(#hatchd)"/>
<path d="M315.82 485.4L315.82 485.4L316.12 485.4L316.42 485.4L316.72 485.4L317.01 485.4L317.31 485.4L317.61 485.4L317.9 485.4L318.2 485.4L318.5 485.4L318.79 485.4L319.09 485.4L319.39 485.4L319.68 485.4L319.98 485.4L320.28 485.4L320.57 485.4L320.87 485.4L321.17 485.4L321.47 485.4L321.76 485.4L322.06 485.4L322.36 485.4L322.65 485.4L322.95 485.4L323.25 485.4L323.54 485.4L323.84 485.4L324.14 485.4L324.43 485.4L324.73 485.4L325.03 485.4L325.32 485.4L325.62 485.4L325.92 485.4L326.22 485.4L326.51 485.4L326.81 485.4L327.11 485.4L327.4 485.4L327.7 485.4L328 485.4L328.29 485.4L328.59 485.4L328.89 485.4L329.18 485.4L329.48 485.4L329.78 485.4L330.07 485.4L330.37 485.4L330.67 485.4L330.97 485.4L331.26 485.4L331.56 485.4L331.86 485.4L332.15 485.4L332.45 485.4L332.75 485.4L333.04 485.4L333.34 485.4L333.64 485.4L333.93 485.4L334.23 485.4L334.53 485.4L334.82 485.4L335.12 485.4L335.42 485.4L335.72 485.4L336.01 485.4L336.31 485.4L336.61 485.4L336.9 485.4L337.2 485.4L337.5 485.4L337.79 485.4L338.09 485.4L338.39 485.4L338.68 485.4L338.98 485.4L339.28 485.4L339.57 485.4L339.87 485.4L340.17 485.4L340.47 485.4L340.76 485.4L341.06 485.4L341.36 485.4L341.65 485.4L341.95 485.4L342.25 485.4L342.54 485.4L342.84 485.4L343.14 485.4L343.43 485.4L343.73 485.4L344.03 485.4L344.32 485.4L344.62 485.4L344.92 485.4L345.22 485.4L345.51 485.4L345.81 485.4L346.11 485.4L346.4 485.4L346.7 485.4L347 485.4L347.29 485.4L347.59 485.4L347.89 485.4L348.18 485.4L348.48 485.4L348.78 485.4L349.07 485.4L349.37 485.4L349.67 485.4L349.97 485.4L350.26 485.4L350.56 485.4L350.86 485.4L351.15 485.4L351.45 485.4L351.75 485.4L352.04 485.4L352.34 485.4L352.64 485.4L352.93 485.4L353.23 485.4L353.53 485.4L353.82 485.4L354.12 485.4L354.42 485.4L354.72 485.4L355.01 485.4L355.31 485.39L355.61 485.39L355.9 485.39L356.2 485.39L356.5 485.39L356.79 485.38L357.09 485.38L357.39 485.38L357.68 485.37L357.98 485.37L358.28 485.36L358.57 485.36L358.87 485.35L359.17 485.34L359.47 485.33L359.76 485.31L360.06 485.3L360.36 485.28L360.65 485.26L360.95 485.23L361.25 485.2L361.54 485.17L361.84 485.13L362.14 485.09L362.43 485.04L362.73 484.99L363.03 484.92L363.32 484.85L363.62 484.77L363.92 484.68L364.22 484.58L364.51 484.46L364.81 484.33L365.11 484.19L365.4 484.03L365.7 483.85L366 483.65L366.29 483.43L366.59 483.19L366.89 482.93L367.18 482.63L367.48 482.32L367.78 481.97L368.07 481.59L368.37 481.18L368.67 480.74L368.97 480.26L369.26 479.75L369.56 479.2L369.86 478.61L370.15 477.97L370.45 477.3L370.75 476.59L371.04 475.84L371.34 475.04L371.64 474.21L371.93 473.33L372.23 472.41L372.53 471.46L372.82 470.46L373.12 469.44L373.42 468.38L373.72 467.29L374.01 466.17L374.31 465.03L374.61 463.87L374.9 462.69L375.2 461.5L375.5 460.31L375.79 459.12L376.09 457.93L376.39 456.75L376.68 455.58L376.98 454.44L377.28 453.32L377.57 452.24L377.87 451.2L378.17 450.21L378.47 449.26L378.76 448.37L379.06 447.55L379.36 446.79L379.65 446.11L379.95 445.5L380.25 445.89L380.54 446.7L380.84 447.51L381.14 448.32L381.43 449.13L381.73 449.94L382.03 450.75L382.32 451.56L382.62 452.37L382.92 453.18L383.22 453.99L383.51 454.8L383.81 455.61L384.11 456.42L384.4 457.23L384.7 458.04L385 458.67L385.29 459.3L385.59 459.93L385.89 460.56L386.18 461.19L386.48 461.82L386.78 462.45L387.07 463.08L387.37 463.71L387.67 464.34L387.97 464.97L388.26 465.6L388.56 466.23L388.86 466.86L389.15 467.49L389.45 468.12L389.75 468.75L390.04 469.38L390.34 470.01L390.64 470.64L390.93 471.27L391.23 471.9L391.53 472.6L391.82 473.51L392.12 474.38L392.42 475.2L392.72 475.99L393.01 476.74L393.31 477.44L393.61 478.1L393.9 478.73L394.2 479.31L394.5 479.85L394.79 480.36L395.09 480.83L395.39 481.27L395.68 481.67L395.98 482.04L396.28 482.4L396.57 483L396.87 483.6L397.17 484.2L397.47 484.8L397.76 485.4L398.06 485.4L398.36 485.4L398.65 485.4L398.95 485.4L399.25 485.4L399.54 485.4L399.84 485.4L400.14 485.4L400.43 485.4L400.73 485.4L401.03 485.4L401.32 485.4L401.62 485.4L401.92 485.4L402.22 485.4L402.51 485.4L402.81 485.4L403.11 485.4L403.4 485.4L403.7 485.4L404 485.4L404.29 485.4L404.59 485.4L404.89 485.4L405.18 485.4L405.48 485.4L405.78 485.4L406.07 485.4L406.37 485.4L406.67 485.4L406.97 485.4L407.26 485.4L407.56 485.4L407.86 485.4L408.15 485.4L408.45 485.4L408.75 485.4L409.04 485.4L409.34 485.4L409.64 485.4L409.93 485.4L410.23 485.4L410.53 485.4L410.82 485.4L410.82 485.4Z" fill="url(#hatchd)"/>
<path d="M332.75 484.86L333.04 484.32L333.34 483.78L333.64 483.24L333.93 482.7L334.23 482.16L334.53 481.62L334.82 481.08L335.12 480.54L335.42 480L335.72 479.46L336.01 478.92L336.31 478.38L336.61 477.84L336.9 477.3L337.2 476.76L337.5 475.32L337.79 473.88L338.09 472.44L338.39 471L338.68 469.56L338.98 468.12L339.28 466.68L339.57 465.24L339.87 463.8L340.17 462.36L340.47 460.92L340.76 459.48L341.06 457.32L341.36 455.16L341.65 453L341.95 450.84L342.25 448.68L342.54 446.52L342.84 444.36L343.14 442.2L343.43 441.24L343.73 440.28L344.03 439.32L344.32 438.36L344.62 437.4L344.92 436.44L345.22 435.48L345.51 434.52L345.81 433.56L346.11 432.6L346.4 431.64L346.7 430.68L347 430.37L347.29 430.05L347.59 429.73L347.89 429.42L348.18 429.1L348.48 428.79L348.78 428.47L349.07 428.16L349.37 427.84L349.67 427.53L349.97 427.21L350.26 426.9L350.56 426.58L350.86 426.27L351.15 425.95L351.45 425.64L351.75 425.57L352.04 425.5L352.34 425.42L352.64 425.35L352.93 425.28L353.23 425.21L353.53 425.14L353.82 425.06L354.12 424.99L354.42 424.92L354.72 424.85L355.01 424.78L355.31 424.7L355.61 424.63L355.9 424.56L356.2 424.49L356.5 424.42L356.79 424.34L357.09 424.27L357.39 424.2L357.68 424.24L357.98 424.27L358.28 424.31L358.57 424.34L358.87 424.38L359.17 424.42L359.47 424.45L359.76 424.49L360.06 424.52L360.36 424.56L360.65 424.6L360.95 424.63L361.25 424.67L361.54 424.7L361.84 424.74L362.14 424.78L362.43 424.81L362.73 424.85L363.03 424.88L363.32 424.92L363.62 425.1L363.92 425.28L364.22 425.46L364.51 425.64L364.81 425.82L365.11 426L365.4 426.18L365.7 426.36L366 426.54L366.29 426.72L366.59 426.9L366.89 427.08L367.18 427.26L367.48 427.44L367.78 427.62L368.07 427.8L368.37 427.98L368.67 428.16L368.97 428.34L369.26 428.52L369.56 428.7L369.86 428.88L370.15 429.06L370.45 429.24L370.75 429.42L371.04 429.6L371.34 429.78L371.64 429.96L371.93 430.38L372.23 430.8L372.53 431.22L372.82 431.64L373.12 432.06L373.42 432.48L373.72 432.9L374.01 433.32L374.31 433.74L374.61 434.16L374.9 434.58L375.2 435L375.5 435.63L375.79 436.26L376.09 436.89L376.39 437.52L376.68 438.15L376.98 438.78L377.28 439.41L377.57 440.04L377.87 440.67L378.17 441.3L378.47 441.93L378.76 442.56L379.06 443.19L379.36 443.82L379.65 444.45L379.95 445.08L380.25 445.89L380.54 446.7L380.84 447.51L381.14 448.32L381.43 449.13L381.73 449.94L382.03 450.75L382.32 451.56L382.62 452.37L382.92 453.18L383.22 453.99L383.51 454.8L383.81 455.61L384.11 456.42L384.4 457.23L384.7 458.04L385 458.67L385.29 459.3L385.59 459.93L385.89 460.56L386.18 461.19L386.48 461.82L386.78 462.45L387.07 463.08L387.37 463.71L387.67 464.34L387.97 464.97L388.26 465.6L388.56 466.23L388.86 466.86L389.15 467.49L389.45 468.12L389.75 468.75L390.04 469.38L390.34 470.01L390.64 470.64L390.93 471.27L391.23 471.9L391.53 472.53L391.82 473.16L392.12 473.79L392.42 474.42L392.72 475.05L393.01 475.68L393.31 476.31L393.61 476.94L393.9 477.57L394.2 478.2L394.5 478.8L394.79 479.4L395.09 480L395.39 480.6L395.68 481.2L395.98 481.8L396.28 482.4L396.57 483L396.87 483.6L397.17 484.2L397.47 484.8" fill="none" stroke="#111" stroke-width="0.55"/>
<path d="M327.7 484.87L328 484.71L328.29 484.49L328.59 484.22L328.89 483.88L329.18 483.46L329.48 482.93L329.78 482.29L330.07 481.51L330.37 480.1L330.67 478.49L330.97 476.69L331.26 474.65L331.56 472.36L331.86 469.79L332.15 466.93L332.45 463.75L332.75 460.25L333.04 456.42L333.34 452.25L333.64 447.76L333.93 442.47L334.23 436.91L334.53 431.11L334.82 425.1L335.12 418.96L335.42 412.74L335.72 406.52L336.01 400.39L336.31 394.42L336.61 388.71L336.9 383.34L337.2 378.41L337.5 373.5L337.79 369.18L338.09 365.5L338.39 362.51L338.68 360.25L338.98 358.74L339.28 357.97L339.57 357.93L339.87 358.6L340.17 359.92L340.47 361.83L340.76 364.27L341.06 367.16L341.36 370.41L341.65 373.93L341.95 377.64L342.25 381.99L342.54 386.35L342.84 390.66L343.14 394.83L343.43 398.82L343.73 402.58L344.03 406.06L344.32 409.23L344.62 412.09L344.92 414.61L345.22 416.8L345.51 418.66L345.81 420.2L346.11 421.45L346.4 422.41L346.7 423.12L347 424.31L347.29 425.29L347.59 426.08L347.89 426.71L348.18 427.2L348.48 427.56L348.78 427.82L349.07 428L349.37 428.1L349.67 428.15L349.97 428.14L350.26 428.1L350.56 428.02L350.86 427.93L351.15 427.81L351.45 427.67L351.75 427.71L352.04 427.73L352.34 427.75L352.64 427.77L352.93 427.78L353.23 427.78L353.53 427.79L353.82 427.79L354.12 427.79L354.42 427.8L354.72 427.8L355.01 427.8L355.31 427.8L355.61 427.8L355.9 427.8L356.2 427.8L356.5 427.8L356.79 427.8L357.09 427.8L357.39 427.8L357.68 427.8L357.98 427.8L358.28 427.8L358.57 427.8L358.87 427.68L359.17 427.56L359.47 427.44L359.76 427.32L360.06 427.2L360.36 427.08L360.65 426.96L360.95 426.84L361.25 426.72L361.54 426.6L361.84 426.48L362.14 426.36L362.43 426.24L362.73 426.12L363.03 426L363.32 425.88L363.62 425.76L363.92 425.64L364.22 425.52L364.51 425.4L364.81 425.28L365.11 425.16L365.4 425.04L365.7 424.92L366 424.56L366.29 424.2L366.59 423.84L366.89 423.48L367.18 423.12L367.48 422.76L367.78 422.4L368.07 422.04L368.37 421.68L368.67 421.32L368.97 420.96L369.26 420.6L369.56 420.24L369.86 419.88L370.15 419.52L370.45 419.16L370.75 418.8L371.04 418.44L371.34 418.08L371.64 417.72L371.93 417.36L372.23 417L372.53 416.64L372.82 416.28L373.12 415.99L373.42 415.7L373.72 415.42L374.01 415.13L374.31 414.84L374.61 414.55L374.9 414.26L375.2 413.98L375.5 413.69L375.79 413.4L376.09 413.11L376.39 412.82L376.68 412.54L376.98 412.25L377.28 411.96L377.57 411.67L377.87 411.38L378.17 411.1L378.47 410.81L378.76 410.52L379.06 411.24L379.36 411.96L379.65 412.68L379.95 413.4L380.25 414.12L380.54 414.84L380.84 415.56L381.14 416.28L381.43 417L381.73 417.72L382.03 418.44L382.32 419.16L382.62 420.6L382.92 422.04L383.22 423.48L383.51 424.92L383.81 426.36L384.11 427.8L384.4 429.24L384.7 430.68L385 432.12L385.29 433.56L385.59 435L385.89 436.44L386.18 437.88L386.48 439.32L386.78 440.76L387.07 442.2L387.37 443.64L387.67 445.08L387.97 446.52L388.26 447.96L388.56 449.4L388.86 450.84L389.15 452.28L389.45 453.72L389.75 455.16L390.04 456.6L390.34 458.04L390.64 459.48L390.93 460.92L391.23 462.36L391.53 463.8L391.82 465.24L392.12 466.14L392.42 467.04L392.72 467.94L393.01 468.84L393.31 469.74L393.61 470.64L393.9 471.54L394.2 472.44L394.5 473.34L394.79 474.24L395.09 475.14L395.39 476.04L395.68 476.94L395.98 477.84L396.28 478.74L396.57 479.64L396.87 480.12L397.17 480.6L397.47 481.08L397.76 481.56L398.06 482.04L398.36 482.52L398.65 483L398.95 483.48L399.25 483.96L399.54 484.44L399.84 484.92L400.14 485.4L400.43 485.4L400.73 485.4L401.03 485.4L401.32 485.4L401.62 485.4L401.92 485.4L402.22 485.4L402.51 485.4L402.81 485.4L403.11 485.4L403.4 485.4L403.7 485.4L404 485.4L404.29 485.4L404.59 485.4L404.89 485.4L405.18 485.4L405.48 485.4L405.78 485.4L406.07 485.4" fill="none" stroke="#222" stroke-width="0.55"/>
<path d="M327.7 484.46L328.89 482.93L330.07 479.58L331.26 471.23L332.45 458.48L333.64 437.29L334.82 419.65L336.01 390.22L337.2 370.07L338.39 353.2L339.57 353.03L340.76 359.85L341.95 378.49L343.14 384.16L344.32 418.57L345.51 412.94L346.7 419.92L347.89 427L349.07 433.92L350.26 420.42L351.45 435.27L352.64 424.09L353.82 419.43L355.01 436.75L356.2 428.67L357.39 434.52L358.57 424.88L359.76 416.48L360.95 412.68L362.14 434.95L363.32 426.96L364.51 418.5L365.7 412.49L366.89 418.05L368.07 423.67L369.26 415.92L370.45 416.38L371.64 416.07L372.82 417.84L374.01 409.33L375.2 408.08L376.39 408.78L377.57 407.83L378.76 412.53L379.95 411.54L381.14 405.14L382.32 417.43L383.51 430.75L384.7 419.73L385.89 430.35L387.07 426.57L388.26 445.06L389.45 454.35L390.64 466.44L391.82 455.79L393.01 451.86L394.2 475.97L395.39 474.6L396.57 478.2L397.76 480L398.95 481.8L400.14 483.6L401.32 485.4L402.51 485.4L403.7 485.4" fill="none" stroke="#111" stroke-width="0.55"/>
<path d="M338.62 486l2.4 4h-4.8z" fill="#000"/>
<rect x="392.5" y="338.2" width="4.6" height="4.4" fill="#f00"/>
<rect x="392.5" y="344.2" width="4.6" height="4.4" fill="#f00"/>
<rect x="392.5" y="350.2" width="4.6" height="4.4" fill="url(#hatch)"/>
<text x="399.9" y="342.1" font-size="4.3" text-anchor="start" fill="#3333ee" font-family="Liberation Serif, serif" >G0G1</text>
<text x="399.9" y="348.1" font-size="4.3" text-anchor="start" fill="#3333ee" font-family="Liberation Serif, serif" >G2M</text>
<text x="399.9" y="354.1" font-size="4.3" text-anchor="start" fill="#3333ee" font-family="Liberation Serif, serif" >S-Phase</text>
<text transform="translate(264,412) rotate(-90)" font-size="6" text-anchor="middle" fill="#666" font-family="Liberation Serif, serif">Number</text>
<text x="351" y="506.4" font-size="5.6" text-anchor="middle" fill="#666" font-family="Liberation Serif, serif" >Red8 Fluorescence (RED-B-HLin)</text>
</svg></body></html>
